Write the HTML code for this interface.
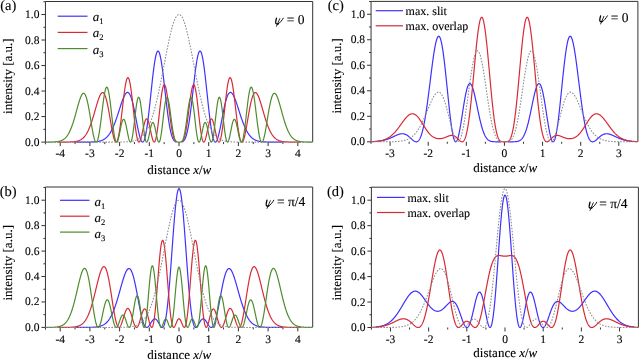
<!DOCTYPE html>
<html><head><meta charset="utf-8"><style>
html,body{margin:0;padding:0;background:#fff;}
body{width:639px;height:359px;overflow:hidden;}
svg{display:block;will-change:transform;text-rendering:geometricPrecision;}
text{fill:#000;stroke:#000;stroke-width:0.12px;}
</style></head><body>
<svg width="639" height="359" viewBox="0 0 639 359">
<clipPath id="clipa"><rect x="45.45" y="1.5" width="267.25" height="142.6"/></clipPath>
<g stroke="#333" stroke-width="1" fill="none">
<path d="M45.45,1.5 H312.7 V142.1"/>
<path d="M45.45,1.5 V144.3"/>
<path d="M45.45,142.1 h-4 M45.45,129.34 h-2 M45.45,116.58 h-4 M45.45,103.82 h-2 M45.45,91.06 h-4 M45.45,78.3 h-2 M45.45,65.54 h-4 M45.45,52.78 h-2 M45.45,40.02 h-4 M45.45,27.26 h-2 M45.45,14.5 h-4 M45.45,1.74 h-2 M60.2,142.1 v4 M75.05,142.1 v2 M89.9,142.1 v4 M104.75,142.1 v2 M119.6,142.1 v4 M134.45,142.1 v2 M149.3,142.1 v4 M164.15,142.1 v2 M179,142.1 v4 M193.85,142.1 v2 M208.7,142.1 v4 M223.55,142.1 v2 M238.4,142.1 v4 M253.25,142.1 v2 M268.1,142.1 v4 M282.95,142.1 v2 M297.8,142.1 v4"/>
</g>
<g clip-path="url(#clipa)" fill="none" stroke-linejoin="round">
<path d="M74.85,142.1 L75.1,142.1 L75.35,142.1 L75.6,142.1 L75.85,142.1 L76.1,142.1 L76.35,142.1 L76.6,142.1 L76.85,142.1 L77.1,142.1 L77.35,142.1 L77.6,142.1 L77.85,142.1 L78.1,142.1 L78.35,142.1 L78.6,142.1 L78.85,142.1 L79.1,142.1 L79.35,142.1 L79.6,142.1 L79.85,142.1 L80.1,142.1 L80.35,142.1 L80.6,142.1 L80.85,142.1 L81.1,142.1 L81.35,142.1 L81.6,142.1 L81.85,142.1 L82.1,142.09 L82.35,142.09 L82.6,142.09 L82.85,142.09 L83.1,142.09 L83.35,142.09 L83.6,142.09 L83.85,142.09 L84.1,142.09 L84.35,142.09 L84.6,142.09 L84.85,142.09 L85.1,142.09 L85.35,142.08 L85.6,142.08 L85.85,142.08 L86.1,142.08 L86.35,142.08 L86.6,142.08 L86.85,142.07 L87.1,142.07 L87.35,142.07 L87.6,142.07 L87.85,142.06 L88.1,142.06 L88.35,142.06 L88.6,142.05 L88.85,142.05 L89.1,142.05 L89.35,142.04 L89.6,142.04 L89.85,142.03 L90.1,142.03 L90.35,142.02 L90.6,142.02 L90.85,142.01 L91.1,142 L91.35,141.99 L91.6,141.99 L91.85,141.98 L92.1,141.97 L92.35,141.96 L92.6,141.95 L92.85,141.94 L93.1,141.92 L93.35,141.91 L93.6,141.9 L93.85,141.88 L94.1,141.87 L94.35,141.85 L94.6,141.83 L94.85,141.81 L95.1,141.79 L95.35,141.77 L95.6,141.74 M96.85,141.6 L97.1,141.57 L97.35,141.53 L97.6,141.5 L97.85,141.46 L98.1,141.41 L98.35,141.37 L98.6,141.32 L98.85,141.27 L99.1,141.22 L99.35,141.16 L99.6,141.1 L99.85,141.04 L100.1,140.97 L100.35,140.9 L100.6,140.83 L100.85,140.75 L101.1,140.67 L101.35,140.58 L101.6,140.49 L101.85,140.39 L102.1,140.29 L102.35,140.18 L102.6,140.07 L102.85,139.95 L103.1,139.83 L103.35,139.7 L103.6,139.56 L103.85,139.42 L104.1,139.27 L104.35,139.11 L104.6,138.95 L104.85,138.78 L105.1,138.6 L105.35,138.41 L105.6,138.22 L105.85,138.01 L106.1,137.8 L106.35,137.58 L106.6,137.34 L106.85,137.1 L107.1,136.85 L107.35,136.59 L107.6,136.32 L107.85,136.03 L108.1,135.74 L108.35,135.43 L108.6,135.12 L108.85,134.79 L109.1,134.45 L109.35,134.09 L109.6,133.73 L109.85,133.35 L110.1,132.96 L110.35,132.56 L110.6,132.14 L110.85,131.71 L111.1,131.26 L111.35,130.81 L111.6,130.34 L111.85,129.85 L112.1,129.35 L112.35,128.84 L112.6,128.31 L112.85,127.77 L113.1,127.22 L113.35,126.65 L113.6,126.07 L113.85,125.47 L114.1,124.86 L114.35,124.24 L114.6,123.61 L114.85,122.96 L115.1,122.3 L115.35,121.63 L115.6,120.94 L115.85,120.25 L116.1,119.54 L116.35,118.83 L116.6,118.1 L116.85,117.37 L117.1,116.62 L117.35,115.87 L117.6,115.11 L117.85,114.35 L118.1,113.58 L118.35,112.8 L118.6,112.02 L118.85,111.24 L119.1,110.46 L119.35,109.68 L119.6,108.89 L119.85,108.11 L120.1,107.33 L120.35,106.56 L120.6,105.79 L120.85,105.03 L121.1,104.27 L121.35,103.53 L121.6,102.79 L121.85,102.07 L122.1,101.36 L122.35,100.67 L122.6,99.99 L122.85,99.33 L123.1,98.69 L123.35,98.08 L123.6,97.49 L123.85,96.92 L124.1,96.37 L124.35,95.86 L124.6,95.38 L124.85,94.92 L125.1,94.5 L125.35,94.12 L125.6,93.76 L125.85,93.45 L126.1,93.18 L126.35,92.94 L126.6,92.75 L126.85,92.6 L127.1,92.49 L127.35,92.43 L127.6,92.41 L127.85,92.45 L128.1,92.53 L128.35,92.65 L128.6,92.83 L128.85,93.06 L129.1,93.34 L129.35,93.67 L129.6,94.05 L129.85,94.48 L130.1,94.96 L130.35,95.5 L130.6,96.08 L130.85,96.72 L131.1,97.4 L131.35,98.14 L131.6,98.92 L131.85,99.75 L132.1,100.63 L132.35,101.55 L132.6,102.51 L132.85,103.52 L133.1,104.56 L133.35,105.64 L133.6,106.76 L133.85,107.91 L134.1,109.09 L134.35,110.3 L134.6,111.53 L134.85,112.78 L135.1,114.06 L135.35,115.34 L135.6,116.64 L135.85,117.95 L136.1,119.27 L136.35,120.58 L136.6,121.9 L136.85,123.2 L137.1,124.5 L137.35,125.78 L137.6,127.04 L137.85,128.28 L138.1,129.5 L138.35,130.68 L138.6,131.82 L138.85,132.93 L139.1,133.99 L139.35,135.01 L139.6,135.97 L139.85,136.88 L140.1,137.72 L140.35,138.51 L140.6,139.22 L140.85,139.86 L141.1,140.43 L141.35,140.92 L141.6,141.33 L141.85,141.66 L142.1,141.9 L142.35,142.04 L142.6,142.1 L142.85,142.06 L143.1,141.93 L143.35,141.7 L143.6,141.37 L143.85,140.94 L144.1,140.41 L144.35,139.77 L144.6,139.04 L144.85,138.21 L145.1,137.28 L145.35,136.24 L145.6,135.11 L145.85,133.88 L146.1,132.56 L146.35,131.15 L146.6,129.64 L146.85,128.05 L147.1,126.37 L147.35,124.61 L147.6,122.78 L147.85,120.87 L148.1,118.89 L148.35,116.85 L148.6,114.75 L148.85,112.6 L149.1,110.4 L149.35,108.16 L149.6,105.88 L149.85,103.57 L150.1,101.23 L150.35,98.88 L150.6,96.51 L150.85,94.14 L151.1,91.77 L151.35,89.41 L151.6,87.07 L151.85,84.74 L152.1,82.45 L152.35,80.19 L152.6,77.97 L152.85,75.8 L153.1,73.69 L153.35,71.64 L153.6,69.66 L153.85,67.75 L154.1,65.92 L154.35,64.17 L154.6,62.52 L154.85,60.96 L155.1,59.5 L155.35,58.14 L155.6,56.9 L155.85,55.76 L156.1,54.75 L156.35,53.85 L156.6,53.07 L156.85,52.42 L157.1,51.9 L157.35,51.5 L157.6,51.23 L157.85,51.09 L158.1,51.07 L158.35,51.19 L158.6,51.43 L158.85,51.81 L159.1,52.3 L159.35,52.92 L159.6,53.66 L159.85,54.52 L160.1,55.5 L160.35,56.59 L160.6,57.78 L160.85,59.08 L161.1,60.48 L161.35,61.97 L161.6,63.56 L161.85,65.22 L162.1,66.97 L162.35,68.78 L162.6,70.67 L162.85,72.62 L163.1,74.62 L163.35,76.66 L163.6,78.75 L163.85,80.88 L164.1,83.03 L164.35,85.21 L164.6,87.41 L164.85,89.61 L165.1,91.82 L165.35,94.02 L165.6,96.22 L165.85,98.4 L166.1,100.56 L166.35,102.69 L166.6,104.8 L166.85,106.87 L167.1,108.9 L167.35,110.88 L167.6,112.82 L167.85,114.7 L168.1,116.53 L168.35,118.3 L168.6,120.01 L168.85,121.65 L169.1,123.22 L169.35,124.73 L169.6,126.17 L169.85,127.54 L170.1,128.84 L170.35,130.06 L170.6,131.22 L170.85,132.3 L171.1,133.31 L171.35,134.26 L171.6,135.13 L171.85,135.94 L172.1,136.69 L172.35,137.37 L172.6,137.99 L172.85,138.55 L173.1,139.06 L173.35,139.52 L173.6,139.92 L173.85,140.28 L174.1,140.59 L174.35,140.87 L174.6,141.1 L174.85,141.3 L175.1,141.47 L175.35,141.62 L175.6,141.73 L175.85,141.83 L176.1,141.9 M181.85,141.92 L182.1,141.85 L182.35,141.75 L182.6,141.64 L182.85,141.51 L183.1,141.34 L183.35,141.15 L183.6,140.92 L183.85,140.65 L184.1,140.35 L184.35,140 L184.6,139.6 L184.85,139.16 L185.1,138.66 L185.35,138.11 L185.6,137.5 L185.85,136.83 L186.1,136.1 L186.35,135.3 L186.6,134.44 L186.85,133.51 L187.1,132.51 L187.35,131.44 L187.6,130.3 L187.85,129.09 L188.1,127.8 L188.35,126.45 L188.6,125.03 L188.85,123.53 L189.1,121.97 L189.35,120.34 L189.6,118.65 L189.85,116.89 L190.1,115.07 L190.35,113.2 L190.6,111.27 L190.85,109.3 L191.1,107.28 L191.35,105.22 L191.6,103.12 L191.85,100.99 L192.1,98.83 L192.35,96.65 L192.6,94.46 L192.85,92.26 L193.1,90.05 L193.35,87.85 L193.6,85.65 L193.85,83.47 L194.1,81.31 L194.35,79.18 L194.6,77.08 L194.85,75.02 L195.1,73.01 L195.35,71.05 L195.6,69.16 L195.85,67.32 L196.1,65.56 L196.35,63.88 L196.6,62.28 L196.85,60.77 L197.1,59.35 L197.35,58.03 L197.6,56.82 L197.85,55.71 L198.1,54.71 L198.35,53.83 L198.6,53.06 L198.85,52.42 L199.1,51.89 L199.35,51.5 L199.6,51.23 L199.85,51.09 L200.1,51.07 L200.35,51.19 L200.6,51.43 L200.85,51.81 L201.1,52.31 L201.35,52.93 L201.6,53.68 L201.85,54.56 L202.1,55.55 L202.35,56.66 L202.6,57.88 L202.85,59.22 L203.1,60.66 L203.35,62.2 L203.6,63.83 L203.85,65.56 L204.1,67.37 L204.35,69.27 L204.6,71.24 L204.85,73.28 L205.1,75.38 L205.35,77.54 L205.6,79.74 L205.85,81.99 L206.1,84.28 L206.35,86.6 L206.6,88.94 L206.85,91.3 L207.1,93.67 L207.35,96.04 L207.6,98.4 L207.85,100.76 L208.1,103.1 L208.35,105.42 L208.6,107.7 L208.85,109.96 L209.1,112.16 L209.35,114.33 L209.6,116.44 L209.85,118.49 L210.1,120.48 L210.35,122.4 L210.6,124.25 L210.85,126.02 L211.1,127.72 L211.35,129.33 L211.6,130.85 L211.85,132.29 L212.1,133.63 L212.35,134.87 L212.6,136.02 L212.85,137.08 L213.1,138.03 L213.35,138.88 L213.6,139.64 L213.85,140.29 L214.1,140.84 L214.35,141.29 L214.6,141.64 L214.85,141.89 L215.1,142.04 L215.35,142.1 L215.6,142.06 L215.85,141.93 L216.1,141.71 L216.35,141.4 L216.6,141.01 L216.85,140.54 L217.1,139.98 L217.35,139.36 L217.6,138.65 L217.85,137.89 L218.1,137.05 L218.35,136.16 L218.6,135.2 L218.85,134.2 L219.1,133.15 L219.35,132.05 L219.6,130.91 L219.85,129.73 L220.1,128.53 L220.35,127.29 L220.6,126.03 L220.85,124.76 L221.1,123.46 L221.35,122.16 L221.6,120.85 L221.85,119.53 L222.1,118.22 L222.35,116.91 L222.6,115.6 L222.85,114.31 L223.1,113.04 L223.35,111.78 L223.6,110.54 L223.85,109.33 L224.1,108.14 L224.35,106.99 L224.6,105.86 L224.85,104.77 L225.1,103.72 L225.35,102.71 L225.6,101.74 L225.85,100.81 L226.1,99.92 L226.35,99.08 L226.6,98.29 L226.85,97.55 L227.1,96.85 L227.35,96.21 L227.6,95.61 L227.85,95.07 L228.1,94.57 L228.35,94.13 L228.6,93.74 L228.85,93.4 L229.1,93.11 L229.35,92.87 L229.6,92.69 L229.85,92.55 L230.1,92.46 L230.35,92.42 L230.6,92.42 L230.85,92.48 L231.1,92.57 L231.35,92.72 L231.6,92.9 L231.85,93.13 L232.1,93.39 L232.35,93.7 L232.6,94.04 L232.85,94.42 L233.1,94.84 L233.35,95.28 L233.6,95.76 L233.85,96.27 L234.1,96.81 L234.35,97.37 L234.6,97.96 L234.85,98.57 L235.1,99.2 L235.35,99.86 L235.6,100.53 L235.85,101.22 L236.1,101.93 L236.35,102.65 L236.6,103.38 L236.85,104.12 L237.1,104.87 L237.35,105.64 L237.6,106.4 L237.85,107.18 L238.1,107.96 L238.35,108.74 L238.6,109.52 L238.85,110.3 L239.1,111.09 L239.35,111.87 L239.6,112.65 L239.85,113.42 L240.1,114.2 L240.35,114.96 L240.6,115.72 L240.85,116.47 L241.1,117.22 L241.35,117.96 L241.6,118.68 L241.85,119.4 L242.1,120.11 L242.35,120.81 L242.6,121.49 L242.85,122.17 L243.1,122.83 L243.35,123.48 L243.6,124.12 L243.85,124.74 L244.1,125.35 L244.35,125.95 L244.6,126.54 L244.85,127.11 L245.1,127.66 L245.35,128.21 L245.6,128.74 L245.85,129.25 L246.1,129.75 L246.35,130.24 L246.6,130.71 L246.85,131.17 L247.1,131.62 L247.35,132.05 L247.6,132.47 L247.85,132.88 L248.1,133.27 L248.35,133.65 L248.6,134.02 L248.85,134.38 L249.1,134.72 L249.35,135.05 L249.6,135.37 L249.85,135.68 L250.1,135.98 L250.35,136.26 L250.6,136.54 L250.85,136.8 L251.1,137.05 L251.35,137.3 L251.6,137.53 L251.85,137.76 L252.1,137.97 L252.35,138.18 L252.6,138.37 L252.85,138.56 L253.1,138.74 L253.35,138.92 L253.6,139.08 L253.85,139.24 L254.1,139.39 L254.35,139.54 L254.6,139.67 L254.85,139.8 L255.1,139.93 L255.35,140.05 L255.6,140.16 L255.85,140.27 L256.1,140.37 L256.35,140.47 L256.6,140.56 L256.85,140.65 L257.1,140.73 L257.35,140.81 L257.6,140.89 L257.85,140.96 L258.1,141.02 L258.35,141.09 L258.6,141.15 L258.85,141.21 L259.1,141.26 L259.35,141.31 L259.6,141.36 L259.85,141.41 L260.1,141.45 L260.35,141.49 L260.6,141.53 L260.85,141.56 L261.1,141.6 L261.35,141.63 M262.35,141.74 L262.6,141.76 L262.85,141.79 L263.1,141.81 L263.35,141.83 L263.6,141.84 L263.85,141.86 L264.1,141.88 L264.35,141.89 L264.6,141.91 L264.85,141.92 L265.1,141.93 L265.35,141.94 L265.6,141.96 L265.85,141.97 L266.1,141.98 L266.35,141.98 L266.6,141.99 L266.85,142 L267.1,142.01 L267.35,142.01 L267.6,142.02 L267.85,142.03 L268.1,142.03 L268.35,142.04 L268.6,142.04 L268.85,142.05 L269.1,142.05 L269.35,142.05 L269.6,142.06 L269.85,142.06 L270.1,142.06 L270.35,142.07 L270.6,142.07 L270.85,142.07 L271.1,142.07 L271.35,142.08 L271.6,142.08 L271.85,142.08 L272.1,142.08 L272.35,142.08 L272.6,142.08 L272.85,142.08 L273.1,142.09 L273.35,142.09 L273.6,142.09 L273.85,142.09 L274.1,142.09 L274.35,142.09 L274.6,142.09 L274.85,142.09 L275.1,142.09 L275.35,142.09 L275.6,142.09 L275.85,142.09 L276.1,142.1 L276.35,142.1 L276.6,142.1 L276.85,142.1 L277.1,142.1 L277.35,142.1 L277.6,142.1 L277.85,142.1 L278.1,142.1 L278.35,142.1 L278.6,142.1 L278.85,142.1 L279.1,142.1 L279.35,142.1 L279.6,142.1 L279.85,142.1 L280.1,142.1 L280.35,142.1 L280.6,142.1 L280.85,142.1 L281.1,142.1 L281.35,142.1 L281.6,142.1 L281.85,142.1 L282.1,142.1 L282.35,142.1 L282.6,142.1 L282.85,142.1 L283.1,142.1" stroke="#3f30ff" stroke-width="1.2"/>
<path d="M57.6,142.1 L57.85,142.1 L58.1,142.1 L58.35,142.1 L58.6,142.1 L58.85,142.1 L59.1,142.1 L59.35,142.1 L59.6,142.1 L59.85,142.1 L60.1,142.1 L60.35,142.1 L60.6,142.1 L60.85,142.1 L61.1,142.1 L61.35,142.09 L61.6,142.09 L61.85,142.09 L62.1,142.09 L62.35,142.09 L62.6,142.09 L62.85,142.09 L63.1,142.09 L63.35,142.09 L63.6,142.09 L63.85,142.09 L64.1,142.09 L64.35,142.08 L64.6,142.08 L64.85,142.08 L65.1,142.08 L65.35,142.08 L65.6,142.07 L65.85,142.07 L66.1,142.07 L66.35,142.07 L66.6,142.06 L66.85,142.06 L67.1,142.06 L67.35,142.05 L67.6,142.05 L67.85,142.04 L68.1,142.04 L68.35,142.03 L68.6,142.03 L68.85,142.02 L69.1,142.02 L69.35,142.01 L69.6,142 L69.85,141.99 L70.1,141.98 L70.35,141.97 L70.6,141.96 L70.85,141.95 L71.1,141.94 L71.35,141.93 L71.6,141.91 L71.85,141.9 L72.1,141.88 L72.35,141.87 L72.6,141.85 L72.85,141.83 L73.1,141.81 L73.35,141.78 L73.6,141.76 L73.85,141.73 L74.1,141.7 L74.35,141.67 L74.6,141.64 L74.85,141.61 L75.1,141.57 L75.35,141.53 L75.6,141.49 L75.85,141.45 L76.1,141.4 L76.35,141.35 L76.6,141.3 L76.85,141.24 L77.1,141.18 L77.35,141.11 L77.6,141.05 L77.85,140.97 L78.1,140.9 L78.35,140.81 L78.6,140.73 L78.85,140.64 L79.1,140.54 L79.35,140.44 L79.6,140.33 L79.85,140.21 L80.1,140.09 L80.35,139.96 L80.6,139.83 L80.85,139.68 L81.1,139.53 L81.35,139.37 L81.6,139.21 L81.85,139.03 L82.1,138.85 L82.35,138.65 L82.6,138.45 L82.85,138.24 L83.1,138.01 L83.35,137.78 L83.6,137.53 L83.85,137.27 L84.1,137 L84.35,136.72 L84.6,136.42 L84.85,136.12 L85.1,135.8 L85.35,135.46 L85.6,135.11 L85.85,134.75 L86.1,134.37 L86.35,133.98 L86.6,133.57 L86.85,133.15 L87.1,132.71 L87.35,132.25 L87.6,131.78 L87.85,131.29 L88.1,130.79 L88.35,130.26 L88.6,129.72 L88.85,129.17 L89.1,128.6 L89.35,128.01 L89.6,127.4 L89.85,126.77 L90.1,126.13 L90.35,125.47 L90.6,124.8 L90.85,124.11 L91.1,123.4 L91.35,122.68 L91.6,121.94 L91.85,121.19 L92.1,120.42 L92.35,119.64 L92.6,118.85 L92.85,118.05 L93.1,117.23 L93.35,116.4 L93.6,115.57 L93.85,114.72 L94.1,113.87 L94.35,113.01 L94.6,112.15 L94.85,111.28 L95.1,110.41 L95.35,109.54 L95.6,108.67 L95.85,107.81 L96.1,106.94 L96.35,106.09 L96.6,105.24 L96.85,104.4 L97.1,103.57 L97.35,102.75 L97.6,101.95 L97.85,101.17 L98.1,100.41 L98.35,99.67 L98.6,98.95 L98.85,98.26 L99.1,97.6 L99.35,96.97 L99.6,96.37 L99.85,95.81 L100.1,95.28 L100.35,94.8 L100.6,94.36 L100.85,93.96 L101.1,93.6 L101.35,93.3 L101.6,93.04 L101.85,92.84 L102.1,92.69 L102.35,92.6 L102.6,92.57 L102.85,92.59 L103.1,92.67 L103.35,92.82 L103.6,93.03 L103.85,93.3 L104.1,93.63 L104.35,94.03 L104.6,94.49 L104.85,95.02 L105.1,95.61 L105.35,96.27 L105.6,96.99 L105.85,97.77 L106.1,98.61 L106.35,99.52 L106.6,100.48 L106.85,101.5 L107.1,102.57 L107.35,103.7 L107.6,104.88 L107.85,106.1 L108.1,107.37 L108.35,108.67 L108.6,110.02 L108.85,111.39 L109.1,112.8 L109.35,114.22 L109.6,115.67 L109.85,117.13 L110.1,118.6 L110.35,120.08 L110.6,121.55 L110.85,123.02 L111.1,124.47 L111.35,125.91 L111.6,127.32 L111.85,128.7 L112.1,130.05 L112.35,131.35 L112.6,132.6 L112.85,133.81 L113.1,134.95 L113.35,136.02 L113.6,137.03 L113.85,137.96 L114.1,138.81 L114.35,139.57 L114.6,140.24 L114.85,140.81 L115.1,141.28 L115.35,141.65 L115.6,141.91 L115.85,142.06 L116.1,142.1 M116.6,141.82 L116.85,141.51 L117.1,141.07 L117.35,140.52 L117.6,139.85 L117.85,139.05 L118.1,138.14 L118.35,137.12 L118.6,135.98 L118.85,134.73 L119.1,133.38 L119.35,131.92 L119.6,130.37 L119.85,128.73 L120.1,127 L120.35,125.19 L120.6,123.31 L120.85,121.37 L121.1,119.36 L121.35,117.31 L121.6,115.22 L121.85,113.1 L122.1,110.96 L122.35,108.8 L122.6,106.64 L122.85,104.49 L123.1,102.36 L123.35,100.25 L123.6,98.19 L123.85,96.17 L124.1,94.21 L124.35,92.31 L124.6,90.5 L124.85,88.77 L125.1,87.14 L125.35,85.61 L125.6,84.19 L125.85,82.9 L126.1,81.73 L126.35,80.7 L126.6,79.81 L126.85,79.06 L127.1,78.47 L127.35,78.03 L127.6,77.74 L127.85,77.62 L128.1,77.66 L128.35,77.86 L128.6,78.22 L128.85,78.75 L129.1,79.43 L129.35,80.27 L129.6,81.26 L129.85,82.39 L130.1,83.67 L130.35,85.09 L130.6,86.63 L130.85,88.3 L131.1,90.07 L131.35,91.95 L131.6,93.93 L131.85,95.98 L132.1,98.11 L132.35,100.3 L132.6,102.54 L132.85,104.82 L133.1,107.12 L133.35,109.43 L133.6,111.75 L133.85,114.05 L134.1,116.33 L134.35,118.57 L134.6,120.77 L134.85,122.9 L135.1,124.97 L135.35,126.95 L135.6,128.85 L135.85,130.64 L136.1,132.33 L136.35,133.9 L136.6,135.34 L136.85,136.66 L137.1,137.84 L137.35,138.88 L137.6,139.77 L137.85,140.53 L138.1,141.13 L138.35,141.59 L138.6,141.9 L138.85,142.07 L139.1,142.09 L139.35,141.98 L139.6,141.74 L139.85,141.36 L140.1,140.87 L140.35,140.27 L140.6,139.56 L140.85,138.75 L141.1,137.86 L141.35,136.89 L141.6,135.86 L141.85,134.78 L142.1,133.65 L142.35,132.49 L142.6,131.32 L142.85,130.14 L143.1,128.96 L143.35,127.8 L143.6,126.67 L143.85,125.58 L144.1,124.54 L144.35,123.56 L144.6,122.65 L144.85,121.82 L145.1,121.08 L145.35,120.43 L145.6,119.88 L145.85,119.44 L146.1,119.12 L146.35,118.9 L146.6,118.8 L146.85,118.82 L147.1,118.96 L147.35,119.22 L147.6,119.59 L147.85,120.07 L148.1,120.65 L148.35,121.34 L148.6,122.12 L148.85,122.99 L149.1,123.94 L149.35,124.96 L149.6,126.04 L149.85,127.16 L150.1,128.33 L150.35,129.52 L150.6,130.72 L150.85,131.92 L151.1,133.11 L151.35,134.28 L151.6,135.41 L151.85,136.49 L152.1,137.5 L152.35,138.45 L152.6,139.3 L152.85,140.06 L153.1,140.72 L153.35,141.25 L153.6,141.67 L153.85,141.94 L154.1,142.08 L154.35,142.08 L154.6,141.92 L154.85,141.61 L155.1,141.15 L155.35,140.53 L155.6,139.76 L155.85,138.83 L156.1,137.75 L156.35,136.52 L156.6,135.16 L156.85,133.66 L157.1,132.03 L157.35,130.28 L157.6,128.43 L157.85,126.48 L158.1,124.44 L158.35,122.33 L158.6,120.16 L158.85,117.94 L159.1,115.69 L159.35,113.42 L159.6,111.15 L159.85,108.89 L160.1,106.66 L160.35,104.47 L160.6,102.33 L160.85,100.26 L161.1,98.28 L161.35,96.39 L161.6,94.6 L161.85,92.94 L162.1,91.41 L162.35,90.02 L162.6,88.77 L162.85,87.69 L163.1,86.76 L163.35,86 L163.6,85.42 L163.85,85 L164.1,84.77 L164.35,84.71 L164.6,84.83 L164.85,85.11 L165.1,85.57 L165.35,86.2 L165.6,86.98 L165.85,87.92 L166.1,89 L166.35,90.22 L166.6,91.56 L166.85,93.03 L167.1,94.59 L167.35,96.26 L167.6,98.01 L167.85,99.83 L168.1,101.71 L168.35,103.64 L168.6,105.6 L168.85,107.58 L169.1,109.58 L169.35,111.58 L169.6,113.56 L169.85,115.52 L170.1,117.45 L170.35,119.34 L170.6,121.18 L170.85,122.95 L171.1,124.67 L171.35,126.3 L171.6,127.87 L171.85,129.34 L172.1,130.74 L172.35,132.04 L172.6,133.26 L172.85,134.38 L173.1,135.41 L173.35,136.35 L173.6,137.2 L173.85,137.97 L174.1,138.65 L174.35,139.25 L174.6,139.78 L174.85,140.23 L175.1,140.62 L175.35,140.95 L175.6,141.22 L175.85,141.45 L176.1,141.62 L176.35,141.77 L176.6,141.87 M181.35,141.89 L181.6,141.79 L181.85,141.66 L182.1,141.49 L182.35,141.27 L182.6,141.01 L182.85,140.69 L183.1,140.32 L183.35,139.87 L183.6,139.36 L183.85,138.78 L184.1,138.11 L184.35,137.36 L184.6,136.53 L184.85,135.6 L185.1,134.59 L185.35,133.49 L185.6,132.29 L185.85,131.01 L186.1,129.63 L186.35,128.17 L186.6,126.62 L186.85,125 L187.1,123.3 L187.35,121.54 L187.6,119.71 L187.85,117.83 L188.1,115.91 L188.35,113.96 L188.6,111.97 L188.85,109.98 L189.1,107.98 L189.35,105.99 L189.6,104.03 L189.85,102.09 L190.1,100.2 L190.35,98.37 L190.6,96.6 L190.85,94.92 L191.1,93.33 L191.35,91.85 L191.6,90.48 L191.85,89.23 L192.1,88.12 L192.35,87.16 L192.6,86.34 L192.85,85.68 L193.1,85.19 L193.35,84.87 L193.6,84.72 L193.85,84.74 L194.1,84.94 L194.35,85.32 L194.6,85.87 L194.85,86.6 L195.1,87.49 L195.35,88.54 L195.6,89.76 L195.85,91.12 L196.1,92.63 L196.35,94.26 L196.6,96.02 L196.85,97.89 L197.1,99.86 L197.35,101.91 L197.6,104.04 L197.85,106.22 L198.1,108.44 L198.35,110.7 L198.6,112.97 L198.85,115.24 L199.1,117.49 L199.35,119.72 L199.6,121.9 L199.85,124.02 L200.1,126.08 L200.35,128.05 L200.6,129.92 L200.85,131.69 L201.1,133.34 L201.35,134.87 L201.6,136.26 L201.85,137.52 L202.1,138.63 L202.35,139.58 L202.6,140.39 L202.85,141.04 L203.1,141.53 L203.35,141.87 L203.6,142.06 L203.85,142.09 L204.1,141.98 L204.35,141.73 L204.6,141.35 L204.85,140.83 L205.1,140.2 L205.35,139.46 L205.6,138.63 L205.85,137.7 L206.1,136.7 L206.35,135.63 L206.6,134.51 L206.85,133.35 L207.1,132.16 L207.35,130.96 L207.6,129.76 L207.85,128.56 L208.1,127.39 L208.35,126.26 L208.6,125.17 L208.85,124.14 L209.1,123.18 L209.35,122.29 L209.6,121.49 L209.85,120.78 L210.1,120.18 L210.35,119.67 L210.6,119.28 L210.85,119 L211.1,118.84 L211.35,118.8 L211.6,118.87 L211.85,119.06 L212.1,119.37 L212.35,119.79 L212.6,120.31 L212.85,120.94 L213.1,121.66 L213.35,122.48 L213.6,123.37 L213.85,124.34 L214.1,125.36 L214.35,126.45 L214.6,127.57 L214.85,128.72 L215.1,129.9 L215.35,131.08 L215.6,132.26 L215.85,133.42 L216.1,134.56 L216.35,135.65 L216.6,136.69 L216.85,137.67 L217.1,138.58 L217.35,139.4 L217.6,140.13 L217.85,140.76 L218.1,141.28 L218.35,141.67 L218.6,141.94 L218.85,142.08 L219.1,142.08 L219.35,141.94 L219.6,141.66 L219.85,141.23 L220.1,140.66 L220.35,139.94 L220.6,139.07 L220.85,138.06 L221.1,136.9 L221.35,135.62 L221.6,134.2 L221.85,132.65 L222.1,130.99 L222.35,129.22 L222.6,127.34 L222.85,125.37 L223.1,123.32 L223.35,121.2 L223.6,119.02 L223.85,116.78 L224.1,114.51 L224.35,112.21 L224.6,109.89 L224.85,107.58 L225.1,105.27 L225.35,102.99 L225.6,100.74 L225.85,98.54 L226.1,96.4 L226.35,94.33 L226.6,92.34 L226.85,90.44 L227.1,88.64 L227.35,86.96 L227.6,85.39 L227.85,83.95 L228.1,82.64 L228.35,81.47 L228.6,80.45 L228.85,79.58 L229.1,78.87 L229.35,78.32 L229.6,77.92 L229.85,77.69 L230.1,77.62 L230.35,77.71 L230.6,77.96 L230.85,78.37 L231.1,78.93 L231.35,79.65 L231.6,80.51 L231.85,81.51 L232.1,82.65 L232.35,83.92 L232.6,85.31 L232.85,86.82 L233.1,88.43 L233.35,90.14 L233.6,91.94 L233.85,93.82 L234.1,95.77 L234.35,97.78 L234.6,99.84 L234.85,101.94 L235.1,104.06 L235.35,106.21 L235.6,108.37 L235.85,110.53 L236.1,112.67 L236.35,114.8 L236.6,116.9 L236.85,118.96 L237.1,120.97 L237.35,122.93 L237.6,124.82 L237.85,126.64 L238.1,128.39 L238.35,130.05 L238.6,131.62 L238.85,133.1 L239.1,134.47 L239.35,135.74 L239.6,136.9 L239.85,137.95 L240.1,138.88 L240.35,139.7 L240.6,140.39 L240.85,140.97 L241.1,141.43 L241.35,141.77 M241.85,142.09 L242.1,142.08 L242.35,141.95 L242.6,141.71 L242.85,141.36 L243.1,140.91 L243.35,140.36 L243.6,139.71 L243.85,138.97 L244.1,138.14 L244.35,137.22 L244.6,136.23 L244.85,135.17 L245.1,134.04 L245.35,132.85 L245.6,131.6 L245.85,130.31 L246.1,128.97 L246.35,127.6 L246.6,126.19 L246.85,124.76 L247.1,123.31 L247.35,121.84 L247.6,120.37 L247.85,118.9 L248.1,117.43 L248.35,115.96 L248.6,114.51 L248.85,113.08 L249.1,111.67 L249.35,110.29 L249.6,108.94 L249.85,107.63 L250.1,106.35 L250.35,105.12 L250.6,103.93 L250.85,102.8 L251.1,101.71 L251.35,100.68 L251.6,99.71 L251.85,98.79 L252.1,97.93 L252.35,97.14 L252.6,96.41 L252.85,95.74 L253.1,95.13 L253.35,94.59 L253.6,94.12 L253.85,93.7 L254.1,93.36 L254.35,93.08 L254.6,92.86 L254.85,92.7 L255.1,92.6 L255.35,92.57 L255.6,92.59 L255.85,92.67 L256.1,92.81 L256.35,93 L256.6,93.24 L256.85,93.54 L257.1,93.88 L257.35,94.27 L257.6,94.71 L257.85,95.18 L258.1,95.7 L258.35,96.26 L258.6,96.85 L258.85,97.47 L259.1,98.13 L259.35,98.81 L259.6,99.52 L259.85,100.26 L260.1,101.02 L260.35,101.8 L260.6,102.59 L260.85,103.4 L261.1,104.23 L261.35,105.07 L261.6,105.92 L261.85,106.77 L262.1,107.63 L262.35,108.5 L262.6,109.37 L262.85,110.24 L263.1,111.11 L263.35,111.98 L263.6,112.84 L263.85,113.7 L264.1,114.55 L264.35,115.4 L264.6,116.24 L264.85,117.07 L265.1,117.88 L265.35,118.69 L265.6,119.49 L265.85,120.27 L266.1,121.04 L266.35,121.79 L266.6,122.53 L266.85,123.26 L267.1,123.97 L267.35,124.66 L267.6,125.34 L267.85,126 L268.1,126.65 L268.35,127.27 L268.6,127.89 L268.85,128.48 L269.1,129.06 L269.35,129.61 L269.6,130.16 L269.85,130.68 L270.1,131.19 L270.35,131.68 L270.6,132.16 L270.85,132.62 L271.1,133.06 L271.35,133.49 L271.6,133.9 L271.85,134.29 L272.1,134.67 L272.35,135.04 L272.6,135.39 L272.85,135.73 L273.1,136.05 L273.35,136.36 L273.6,136.66 L273.85,136.95 L274.1,137.22 L274.35,137.48 L274.6,137.73 L274.85,137.96 L275.1,138.19 L275.35,138.41 L275.6,138.61 L275.85,138.81 L276.1,139 L276.35,139.17 L276.6,139.34 L276.85,139.5 L277.1,139.65 L277.35,139.8 L277.6,139.94 L277.85,140.06 L278.1,140.19 L278.35,140.3 L278.6,140.41 L278.85,140.52 L279.1,140.62 L279.35,140.71 L279.6,140.8 L279.85,140.88 L280.1,140.96 L280.35,141.03 L280.6,141.1 L280.85,141.17 L281.1,141.23 L281.35,141.29 L281.6,141.34 L281.85,141.39 L282.1,141.44 L282.35,141.48 L282.6,141.53 L282.85,141.56 L283.1,141.6 L283.35,141.64 L283.6,141.67 L283.85,141.7 L284.1,141.73 L284.35,141.75 L284.6,141.78 L284.85,141.8 L285.1,141.82 L285.35,141.84 L285.6,141.86 L285.85,141.88 L286.1,141.9 L286.35,141.91 L286.6,141.93 L286.85,141.94 L287.1,141.95 L287.35,141.96 L287.6,141.97 L287.85,141.98 L288.1,141.99 L288.35,142 L288.6,142.01 L288.85,142.01 L289.1,142.02 L289.35,142.03 L289.6,142.03 L289.85,142.04 L290.1,142.04 L290.35,142.05 L290.6,142.05 L290.85,142.06 L291.1,142.06 L291.35,142.06 L291.6,142.07 L291.85,142.07 L292.1,142.07 L292.35,142.07 L292.6,142.08 L292.85,142.08 L293.1,142.08 L293.35,142.08 L293.6,142.08 L293.85,142.08 L294.1,142.09 L294.35,142.09 L294.6,142.09 L294.85,142.09 L295.1,142.09 L295.35,142.09 L295.6,142.09 L295.85,142.09 L296.1,142.09 L296.35,142.09 L296.6,142.09 L296.85,142.09 L297.1,142.1 L297.35,142.1 L297.6,142.1 L297.85,142.1 L298.1,142.1 L298.35,142.1 L298.6,142.1 L298.85,142.1 L299.1,142.1 L299.35,142.1 L299.6,142.1 L299.85,142.1 L300.1,142.1 L300.35,142.1 L300.6,142.1" stroke="#d82a35" stroke-width="1.2"/>
<path d="M45.35,142.09 L45.6,142.09 L45.85,142.09 L46.1,142.09 L46.35,142.09 L46.6,142.09 L46.85,142.09 L47.1,142.09 L47.35,142.08 L47.6,142.08 L47.85,142.08 L48.1,142.08 L48.35,142.08 L48.6,142.08 L48.85,142.07 L49.1,142.07 L49.35,142.07 L49.6,142.06 L49.85,142.06 L50.1,142.06 L50.35,142.05 L50.6,142.05 L50.85,142.04 L51.1,142.04 L51.35,142.03 L51.6,142.03 L51.85,142.02 L52.1,142.01 L52.35,142.01 L52.6,142 L52.85,141.99 L53.1,141.98 L53.35,141.97 L53.6,141.96 L53.85,141.94 L54.1,141.93 L54.35,141.92 L54.6,141.9 L54.85,141.88 L55.1,141.87 L55.35,141.85 L55.6,141.83 L55.85,141.8 L56.1,141.78 L56.35,141.75 L56.6,141.72 L56.85,141.69 L57.1,141.66 L57.35,141.63 L57.6,141.59 L57.85,141.55 L58.1,141.51 L58.35,141.46 L58.6,141.41 L58.85,141.36 L59.1,141.3 L59.35,141.24 L59.6,141.18 L59.85,141.11 L60.1,141.04 L60.35,140.96 L60.6,140.88 L60.85,140.79 L61.1,140.7 L61.35,140.6 L61.6,140.5 L61.85,140.38 L62.1,140.27 L62.35,140.14 L62.6,140.01 L62.85,139.87 L63.1,139.72 L63.35,139.56 L63.6,139.39 L63.85,139.22 L64.1,139.03 L64.35,138.84 L64.6,138.63 L64.85,138.41 L65.1,138.19 L65.35,137.95 L65.6,137.69 L65.85,137.43 L66.1,137.15 L66.35,136.86 L66.6,136.55 L66.85,136.23 L67.1,135.9 L67.35,135.55 L67.6,135.18 L67.85,134.8 L68.1,134.4 L68.35,133.99 L68.6,133.55 L68.85,133.1 L69.1,132.64 L69.35,132.15 L69.6,131.65 L69.85,131.13 L70.1,130.59 L70.35,130.03 L70.6,129.45 L70.85,128.85 L71.1,128.23 L71.35,127.6 L71.6,126.94 L71.85,126.27 L72.1,125.57 L72.35,124.86 L72.6,124.13 L72.85,123.39 L73.1,122.62 L73.35,121.84 L73.6,121.04 L73.85,120.23 L74.1,119.4 L74.35,118.56 L74.6,117.71 L74.85,116.84 L75.1,115.97 L75.35,115.08 L75.6,114.18 L75.85,113.28 L76.1,112.37 L76.35,111.46 L76.6,110.55 L76.85,109.64 L77.1,108.72 L77.35,107.82 L77.6,106.91 L77.85,106.02 L78.1,105.13 L78.35,104.26 L78.6,103.4 L78.85,102.56 L79.1,101.73 L79.35,100.93 L79.6,100.16 L79.85,99.41 L80.1,98.69 L80.35,98.01 L80.6,97.36 L80.85,96.74 L81.1,96.17 L81.35,95.64 L81.6,95.16 L81.85,94.73 L82.1,94.35 L82.35,94.02 L82.6,93.74 L82.85,93.53 L83.1,93.38 L83.35,93.29 L83.6,93.26 L83.85,93.3 L84.1,93.41 L84.35,93.59 L84.6,93.83 L84.85,94.15 L85.1,94.54 L85.35,95.01 L85.6,95.54 L85.85,96.15 L86.1,96.83 L86.35,97.59 L86.6,98.41 L86.85,99.3 L87.1,100.26 L87.35,101.29 L87.6,102.37 L87.85,103.52 L88.1,104.73 L88.35,105.99 L88.6,107.3 L88.85,108.66 L89.1,110.06 L89.35,111.5 L89.6,112.97 L89.85,114.47 L90.1,115.99 L90.35,117.53 L90.6,119.08 L90.85,120.63 L91.1,122.17 L91.35,123.71 L91.6,125.23 L91.85,126.73 L92.1,128.2 L92.35,129.63 L92.6,131.02 L92.85,132.35 L93.1,133.63 L93.35,134.84 L93.6,135.98 L93.85,137.04 L94.1,138.02 L94.35,138.9 L94.6,139.69 L94.85,140.37 L95.1,140.95 L95.35,141.41 L95.6,141.76 L95.85,141.99 L96.1,142.09 L96.35,142.07 L96.6,141.92 L96.85,141.64 L97.1,141.23 L97.35,140.7 L97.6,140.03 L97.85,139.23 L98.1,138.31 L98.35,137.27 L98.6,136.11 L98.85,134.84 L99.1,133.45 L99.35,131.96 L99.6,130.38 L99.85,128.71 L100.1,126.95 L100.35,125.13 L100.6,123.24 L100.85,121.29 L101.1,119.3 L101.35,117.28 L101.6,115.24 L101.85,113.19 L102.1,111.14 L102.35,109.1 L102.6,107.08 L102.85,105.1 L103.1,103.17 L103.35,101.31 L103.6,99.51 L103.85,97.8 L104.1,96.18 L104.35,94.67 L104.6,93.27 L104.85,92 L105.1,90.86 L105.35,89.86 L105.6,89.01 L105.85,88.31 L106.1,87.78 L106.35,87.41 L106.6,87.21 L106.85,87.18 L107.1,87.33 L107.35,87.64 L107.6,88.13 L107.85,88.78 L108.1,89.6 L108.35,90.59 L108.6,91.72 L108.85,93.01 L109.1,94.44 L109.35,96 L109.6,97.68 L109.85,99.47 L110.1,101.37 L110.35,103.35 L110.6,105.41 L110.85,107.52 L111.1,109.69 L111.35,111.89 L111.6,114.1 L111.85,116.32 L112.1,118.53 L112.35,120.71 L112.6,122.85 L112.85,124.93 L113.1,126.94 L113.35,128.88 L113.6,130.71 L113.85,132.44 L114.1,134.05 L114.35,135.54 L114.6,136.89 L114.85,138.09 L115.1,139.14 L115.35,140.04 L115.6,140.78 L115.85,141.35 L116.1,141.76 L116.35,142.01 L116.6,142.1 L116.85,142.03 L117.1,141.81 L117.35,141.44 L117.6,140.93 L117.85,140.3 L118.1,139.54 L118.35,138.67 L118.6,137.7 L118.85,136.65 L119.1,135.53 L119.35,134.35 L119.6,133.13 L119.85,131.88 L120.1,130.62 L120.35,129.36 L120.6,128.11 L120.85,126.91 L121.1,125.74 L121.35,124.64 L121.6,123.62 L121.85,122.68 L122.1,121.84 L122.35,121.1 L122.6,120.49 L122.85,119.99 L123.1,119.63 L123.35,119.41 L123.6,119.32 L123.85,119.38 L124.1,119.57 L124.35,119.9 L124.6,120.37 L124.85,120.96 L125.1,121.68 L125.35,122.52 L125.6,123.46 L125.85,124.49 L126.1,125.6 L126.35,126.78 L126.6,128.02 L126.85,129.3 L127.1,130.59 L127.35,131.9 L127.6,133.19 L127.85,134.45 L128.1,135.67 L128.35,136.83 L128.6,137.91 L128.85,138.89 L129.1,139.77 L129.35,140.53 L129.6,141.15 L129.85,141.62 L130.1,141.94 L130.35,142.09 L130.6,142.07 L130.85,141.87 L131.1,141.49 L131.35,140.93 L131.6,140.19 L131.85,139.27 L132.1,138.18 L132.35,136.93 L132.6,135.51 L132.85,133.95 L133.1,132.26 L133.35,130.44 L133.6,128.52 L133.85,126.51 L134.1,124.43 L134.35,122.3 L134.6,120.14 L134.85,117.97 L135.1,115.81 L135.35,113.67 L135.6,111.59 L135.85,109.59 L136.1,107.67 L136.35,105.87 L136.6,104.2 L136.85,102.67 L137.1,101.31 L137.35,100.12 L137.6,99.13 L137.85,98.33 L138.1,97.75 L138.35,97.38 L138.6,97.23 L138.85,97.3 L139.1,97.59 L139.35,98.1 L139.6,98.82 L139.85,99.75 L140.1,100.88 L140.35,102.2 L140.6,103.68 L140.85,105.33 L141.1,107.12 L141.35,109.02 L141.6,111.03 L141.85,113.13 L142.1,115.28 L142.35,117.48 L142.6,119.69 L142.85,121.9 L143.1,124.08 L143.35,126.21 L143.6,128.28 L143.85,130.26 L144.1,132.13 L144.35,133.87 L144.6,135.48 L144.85,136.93 L145.1,138.22 L145.35,139.33 L145.6,140.26 L145.85,141 L146.1,141.55 L146.35,141.91 L146.6,142.08 L146.85,142.07 L147.1,141.87 L147.35,141.51 L147.6,140.98 L147.85,140.31 L148.1,139.5 L148.35,138.58 L148.6,137.55 L148.85,136.44 L149.1,135.26 L149.35,134.04 L149.6,132.8 L149.85,131.55 L150.1,130.32 L150.35,129.12 L150.6,127.97 L150.85,126.89 L151.1,125.9 L151.35,125.01 L151.6,124.24 L151.85,123.6 L152.1,123.09 L152.35,122.73 L152.6,122.52 L152.85,122.46 L153.1,122.55 L153.35,122.8 L153.6,123.2 L153.85,123.74 L154.1,124.42 L154.35,125.22 L154.6,126.14 L154.85,127.15 L155.1,128.25 L155.35,129.42 L155.6,130.63 L155.85,131.87 L156.1,133.13 L156.35,134.37 L156.6,135.58 L156.85,136.75 L157.1,137.84 L157.35,138.84 L157.6,139.74 L157.85,140.52 L158.1,141.15 L158.35,141.63 L158.6,141.95 L158.85,142.09 L159.1,142.05 L159.35,141.82 L159.6,141.4 L159.85,140.79 L160.1,139.99 L160.35,139 L160.6,137.83 L160.85,136.49 L161.1,134.98 L161.35,133.33 L161.6,131.55 L161.85,129.64 L162.1,127.64 L162.35,125.56 L162.6,123.41 L162.85,121.23 L163.1,119.04 L163.35,116.84 L163.6,114.68 L163.85,112.56 L164.1,110.51 L164.35,108.56 L164.6,106.71 L164.85,104.99 L165.1,103.42 L165.35,102.01 L165.6,100.77 L165.85,99.72 L166.1,98.86 L166.35,98.2 L166.6,97.74 L166.85,97.5 L167.1,97.46 L167.35,97.63 L167.6,98.01 L167.85,98.58 L168.1,99.34 L168.35,100.28 L168.6,101.38 L168.85,102.64 L169.1,104.04 L169.35,105.56 L169.6,107.19 L169.85,108.9 L170.1,110.7 L170.35,112.54 L170.6,114.43 L170.85,116.33 L171.1,118.24 L171.35,120.13 L171.6,121.99 L171.85,123.82 L172.1,125.58 L172.35,127.28 L172.6,128.9 L172.85,130.43 L173.1,131.87 L173.35,133.21 L173.6,134.45 L173.85,135.58 L174.1,136.61 L174.35,137.52 L174.6,138.34 L174.85,139.05 L175.1,139.67 L175.35,140.2 L175.6,140.64 L175.85,141 L176.1,141.3 L176.35,141.53 L176.6,141.71 L176.85,141.85 L177.1,141.94 L177.35,142.01 L177.6,142.05 L177.85,142.08 L178.1,142.09 L178.35,142.1 L178.6,142.1 L178.85,142.1 L179.1,142.1 L179.35,142.1 L179.6,142.1 L179.85,142.09 L180.1,142.08 L180.35,142.06 L180.6,142.02 L180.85,141.96 L181.1,141.87 L181.35,141.74 L181.6,141.57 L181.85,141.35 L182.1,141.07 L182.35,140.72 L182.6,140.29 L182.85,139.78 L183.1,139.18 L183.35,138.49 L183.6,137.69 L183.85,136.8 L184.1,135.79 L184.35,134.69 L184.6,133.47 L184.85,132.15 L185.1,130.73 L185.35,129.21 L185.6,127.61 L185.85,125.93 L186.1,124.17 L186.35,122.36 L186.6,120.5 L186.85,118.62 L187.1,116.71 L187.35,114.81 L187.6,112.92 L187.85,111.06 L188.1,109.26 L188.35,107.52 L188.6,105.88 L188.85,104.33 L189.1,102.91 L189.35,101.62 L189.6,100.48 L189.85,99.51 L190.1,98.72 L190.35,98.11 L190.6,97.69 L190.85,97.48 L191.1,97.48 L191.35,97.68 L191.6,98.09 L191.85,98.71 L192.1,99.53 L192.35,100.54 L192.6,101.75 L192.85,103.13 L193.1,104.67 L193.35,106.36 L193.6,108.18 L193.85,110.11 L194.1,112.14 L194.35,114.25 L194.6,116.41 L194.85,118.6 L195.1,120.79 L195.35,122.98 L195.6,125.13 L195.85,127.23 L196.1,129.25 L196.35,131.17 L196.6,132.99 L196.85,134.67 L197.1,136.2 L197.35,137.58 L197.6,138.78 L197.85,139.81 L198.1,140.65 L198.35,141.3 L198.6,141.76 L198.85,142.02 L199.1,142.1 L199.35,141.99 L199.6,141.71 L199.85,141.26 L200.1,140.65 L200.35,139.91 L200.6,139.03 L200.85,138.05 L201.1,136.97 L201.35,135.82 L201.6,134.62 L201.85,133.38 L202.1,132.12 L202.35,130.88 L202.6,129.66 L202.85,128.48 L203.1,127.37 L203.35,126.33 L203.6,125.4 L203.85,124.57 L204.1,123.87 L204.35,123.3 L204.6,122.87 L204.85,122.59 L205.1,122.46 L205.35,122.49 L205.6,122.67 L205.85,123.01 L206.1,123.49 L206.35,124.1 L206.6,124.85 L206.85,125.72 L207.1,126.69 L207.35,127.75 L207.6,128.88 L207.85,130.07 L208.1,131.3 L208.35,132.55 L208.6,133.8 L208.85,135.02 L209.1,136.21 L209.35,137.33 L209.6,138.38 L209.85,139.33 L210.1,140.16 L210.35,140.86 L210.6,141.42 L210.85,141.81 L211.1,142.04 L211.35,142.1 L211.6,141.96 L211.85,141.64 L212.1,141.13 L212.35,140.42 L212.6,139.53 L212.85,138.45 L213.1,137.2 L213.35,135.78 L213.6,134.2 L213.85,132.49 L214.1,130.64 L214.35,128.68 L214.6,126.63 L214.85,124.51 L215.1,122.34 L215.35,120.13 L215.6,117.92 L215.85,115.72 L216.1,113.56 L216.35,111.45 L216.6,109.42 L216.85,107.49 L217.1,105.68 L217.35,104 L217.6,102.48 L217.85,101.13 L218.1,99.97 L218.35,98.99 L218.6,98.23 L218.85,97.67 L219.1,97.34 L219.35,97.22 L219.6,97.33 L219.85,97.66 L220.1,98.2 L220.35,98.95 L220.6,99.91 L220.85,101.06 L221.1,102.39 L221.35,103.88 L221.6,105.52 L221.85,107.3 L222.1,109.2 L222.35,111.19 L222.6,113.25 L222.85,115.38 L223.1,117.53 L223.35,119.71 L223.6,121.87 L223.85,124.01 L224.1,126.1 L224.35,128.13 L224.6,130.06 L224.85,131.9 L225.1,133.62 L225.35,135.21 L225.6,136.66 L225.85,137.94 L226.1,139.07 L226.35,140.02 L226.6,140.8 L226.85,141.39 L227.1,141.81 L227.35,142.04 L227.6,142.1 L227.85,141.98 L228.1,141.7 L228.35,141.25 L228.6,140.66 L228.85,139.93 L229.1,139.08 L229.35,138.11 L229.6,137.05 L229.85,135.91 L230.1,134.7 L230.35,133.44 L230.6,132.16 L230.85,130.85 L231.1,129.55 L231.35,128.27 L231.6,127.03 L231.85,125.83 L232.1,124.7 L232.35,123.65 L232.6,122.7 L232.85,121.84 L233.1,121.1 L233.35,120.48 L233.6,119.98 L233.85,119.62 L234.1,119.4 L234.35,119.32 L234.6,119.38 L234.85,119.58 L235.1,119.91 L235.35,120.38 L235.6,120.97 L235.85,121.68 L236.1,122.5 L236.35,123.42 L236.6,124.43 L236.85,125.52 L237.1,126.67 L237.35,127.87 L237.6,129.11 L237.85,130.36 L238.1,131.63 L238.35,132.88 L238.6,134.11 L238.85,135.3 L239.1,136.43 L239.35,137.5 L239.6,138.48 L239.85,139.37 L240.1,140.15 L240.35,140.82 L240.6,141.35 L240.85,141.75 L241.1,142 L241.35,142.1 L241.6,142.04 L241.85,141.82 L242.1,141.45 L242.35,140.9 L242.6,140.2 L242.85,139.33 L243.1,138.31 L243.35,137.14 L243.6,135.82 L243.85,134.36 L244.1,132.78 L244.35,131.07 L244.6,129.25 L244.85,127.34 L245.1,125.34 L245.35,123.27 L245.6,121.14 L245.85,118.97 L246.1,116.76 L246.35,114.55 L246.6,112.33 L246.85,110.13 L247.1,107.95 L247.35,105.83 L247.6,103.76 L247.85,101.76 L248.1,99.85 L248.35,98.03 L248.6,96.33 L248.85,94.74 L249.1,93.29 L249.35,91.97 L249.6,90.8 L249.85,89.79 L250.1,88.93 L250.35,88.24 L250.6,87.72 L250.85,87.37 L251.1,87.2 L251.35,87.19 L251.6,87.36 L251.85,87.69 L252.1,88.19 L252.35,88.86 L252.6,89.68 L252.85,90.64 L253.1,91.76 L253.35,93 L253.6,94.38 L253.85,95.87 L254.1,97.47 L254.35,99.16 L254.6,100.94 L254.85,102.8 L255.1,104.71 L255.35,106.68 L255.6,108.69 L255.85,110.73 L256.1,112.78 L256.35,114.83 L256.6,116.88 L256.85,118.9 L257.1,120.9 L257.35,122.85 L257.6,124.75 L257.85,126.59 L258.1,128.36 L258.35,130.05 L258.6,131.66 L258.85,133.16 L259.1,134.57 L259.35,135.87 L259.6,137.05 L259.85,138.12 L260.1,139.06 L260.35,139.88 L260.6,140.57 L260.85,141.14 L261.1,141.57 L261.35,141.88 L261.6,142.05 L261.85,142.1 L262.1,142.02 L262.35,141.82 L262.6,141.49 L262.85,141.05 L263.1,140.5 L263.35,139.83 L263.6,139.07 L263.85,138.2 L264.1,137.24 L264.35,136.2 L264.6,135.08 L264.85,133.88 L265.1,132.61 L265.35,131.29 L265.6,129.91 L265.85,128.49 L266.1,127.03 L266.35,125.54 L266.6,124.02 L266.85,122.48 L267.1,120.94 L267.35,119.39 L267.6,117.84 L267.85,116.3 L268.1,114.77 L268.35,113.27 L268.6,111.79 L268.85,110.35 L269.1,108.94 L269.35,107.57 L269.6,106.25 L269.85,104.98 L270.1,103.76 L270.35,102.6 L270.6,101.5 L270.85,100.46 L271.1,99.49 L271.35,98.58 L271.6,97.75 L271.85,96.98 L272.1,96.28 L272.35,95.66 L272.6,95.11 L272.85,94.63 L273.1,94.23 L273.35,93.89 L273.6,93.63 L273.85,93.44 L274.1,93.32 L274.35,93.26 L274.6,93.28 L274.85,93.35 L275.1,93.5 L275.35,93.7 L275.6,93.96 L275.85,94.28 L276.1,94.65 L276.35,95.07 L276.6,95.54 L276.85,96.06 L277.1,96.62 L277.35,97.23 L277.6,97.87 L277.85,98.55 L278.1,99.26 L278.35,100.01 L278.6,100.78 L278.85,101.57 L279.1,102.39 L279.35,103.23 L279.6,104.08 L279.85,104.96 L280.1,105.84 L280.35,106.73 L280.6,107.63 L280.85,108.54 L281.1,109.45 L281.35,110.37 L281.6,111.28 L281.85,112.19 L282.1,113.1 L282.35,114 L282.6,114.9 L282.85,115.79 L283.1,116.67 L283.35,117.54 L283.6,118.39 L283.85,119.24 L284.1,120.07 L284.35,120.88 L284.6,121.68 L284.85,122.47 L285.1,123.24 L285.35,123.99 L285.6,124.72 L285.85,125.43 L286.1,126.13 L286.35,126.81 L286.6,127.47 L286.85,128.11 L287.1,128.73 L287.35,129.33 L287.6,129.91 L287.85,130.48 L288.1,131.02 L288.35,131.55 L288.6,132.05 L288.85,132.54 L289.1,133.01 L289.35,133.47 L289.6,133.9 L289.85,134.32 L290.1,134.72 L290.35,135.11 L290.6,135.48 L290.85,135.83 L291.1,136.17 L291.35,136.49 L291.6,136.8 L291.85,137.09 L292.1,137.37 L292.35,137.64 L292.6,137.9 L292.85,138.14 L293.1,138.37 L293.35,138.59 L293.6,138.8 L293.85,138.99 L294.1,139.18 L294.35,139.36 L294.6,139.53 L294.85,139.69 L295.1,139.84 L295.35,139.98 L295.6,140.11 L295.85,140.24 L296.1,140.36 L296.35,140.47 L296.6,140.58 L296.85,140.68 L297.1,140.77 L297.35,140.86 L297.6,140.95 L297.85,141.02 L298.1,141.1 L298.35,141.17 L298.6,141.23 L298.85,141.29 L299.1,141.35 L299.35,141.4 L299.6,141.45 L299.85,141.5 L300.1,141.54 L300.35,141.58 L300.6,141.62 L300.85,141.66 L301.1,141.69 L301.35,141.72 L301.6,141.75 L301.85,141.77 L302.1,141.8 L302.35,141.82 L302.6,141.84 L302.85,141.86 L303.1,141.88 L303.35,141.9 L303.6,141.91 L303.85,141.93 L304.1,141.94 L304.35,141.95 L304.6,141.97 L304.85,141.98 L305.1,141.99 L305.35,142 L305.6,142 L305.85,142.01 L306.1,142.02 L306.35,142.03 L306.6,142.03 L306.85,142.04 L307.1,142.04 L307.35,142.05 L307.6,142.05 L307.85,142.06 L308.1,142.06 L308.35,142.06 L308.6,142.07 L308.85,142.07 L309.1,142.07 L309.35,142.07 L309.6,142.08 L309.85,142.08 L310.1,142.08 L310.35,142.08 L310.6,142.08 L310.85,142.09 L311.1,142.09 L311.35,142.09 L311.6,142.09 L311.85,142.09 L312.1,142.09 L312.35,142.09 L312.6,142.09" stroke="#4d8c2c" stroke-width="1.2"/>
<path d="M45.35,142.1 L45.6,142.1 L45.85,142.1 L46.1,142.1 L46.35,142.1 L46.6,142.1 L46.85,142.1 L47.1,142.1 L47.35,142.1 L47.6,142.1 L47.85,142.1 L48.1,142.1 L48.35,142.1 L48.6,142.1 L48.85,142.1 L49.1,142.1 L49.35,142.1 L49.6,142.1 L49.85,142.1 L50.1,142.1 L50.35,142.1 L50.6,142.1 L50.85,142.1 L51.1,142.1 L51.35,142.1 L51.6,142.1 L51.85,142.1 L52.1,142.1 L52.35,142.1 L52.6,142.1 L52.85,142.1 L53.1,142.1 L53.35,142.1 L53.6,142.1 L53.85,142.1 L54.1,142.1 L54.35,142.1 L54.6,142.1 L54.85,142.1 L55.1,142.1 L55.35,142.1 L55.6,142.1 L55.85,142.1 L56.1,142.1 L56.35,142.1 L56.6,142.1 L56.85,142.1 L57.1,142.1 L57.35,142.1 L57.6,142.1 L57.85,142.1 L58.1,142.1 L58.35,142.1 L58.6,142.1 L58.85,142.1 L59.1,142.1 L59.35,142.1 L59.6,142.1 L59.85,142.1 L60.1,142.1 L60.35,142.1 L60.6,142.1 L60.85,142.1 L61.1,142.1 L61.35,142.1 L61.6,142.1 L61.85,142.1 L62.1,142.1 L62.35,142.1 L62.6,142.1 L62.85,142.1 L63.1,142.1 L63.35,142.1 L63.6,142.1 L63.85,142.1 L64.1,142.1 L64.35,142.1 L64.6,142.1 L64.85,142.1 L65.1,142.1 L65.35,142.1 L65.6,142.1 L65.85,142.1 L66.1,142.1 L66.35,142.1 L66.6,142.1 L66.85,142.1 L67.1,142.1 L67.35,142.1 L67.6,142.1 L67.85,142.1 L68.1,142.1 L68.35,142.1 L68.6,142.1 L68.85,142.1 L69.1,142.1 L69.35,142.1 L69.6,142.1 L69.85,142.1 L70.1,142.1 L70.35,142.1 L70.6,142.1 L70.85,142.1 L71.1,142.1 L71.35,142.1 L71.6,142.1 L71.85,142.1 L72.1,142.1 L72.35,142.1 L72.6,142.1 L72.85,142.1 L73.1,142.1 L73.35,142.1 L73.6,142.1 L73.85,142.1 L74.1,142.1 L74.35,142.1 L74.6,142.1 L74.85,142.1 L75.1,142.1 L75.35,142.1 L75.6,142.1 L75.85,142.1 L76.1,142.1 L76.35,142.1 L76.6,142.1 L76.85,142.1 L77.1,142.1 L77.35,142.1 L77.6,142.1 L77.85,142.1 L78.1,142.1 L78.35,142.1 L78.6,142.1 L78.85,142.1 L79.1,142.1 L79.35,142.1 L79.6,142.1 L79.85,142.1 L80.1,142.1 L80.35,142.1 L80.6,142.1 L80.85,142.1 L81.1,142.1 L81.35,142.1 L81.6,142.1 L81.85,142.1 L82.1,142.1 L82.35,142.1 L82.6,142.1 L82.85,142.1 L83.1,142.1 L83.35,142.1 L83.6,142.1 L83.85,142.1 L84.1,142.1 L84.35,142.1 L84.6,142.1 L84.85,142.1 L85.1,142.1 L85.35,142.1 L85.6,142.1 L85.85,142.1 L86.1,142.1 L86.35,142.1 L86.6,142.1 L86.85,142.1 L87.1,142.1 L87.35,142.1 L87.6,142.1 L87.85,142.1 L88.1,142.1 L88.35,142.1 L88.6,142.1 L88.85,142.1 L89.1,142.1 L89.35,142.1 L89.6,142.1 L89.85,142.1 L90.1,142.1 L90.35,142.1 L90.6,142.1 L90.85,142.1 L91.1,142.1 L91.35,142.1 L91.6,142.1 L91.85,142.1 L92.1,142.1 L92.35,142.1 L92.6,142.1 L92.85,142.1 L93.1,142.1 L93.35,142.1 L93.6,142.1 L93.85,142.1 L94.1,142.1 L94.35,142.1 L94.6,142.1 L94.85,142.1 L95.1,142.1 L95.35,142.1 L95.6,142.1 L95.85,142.1 L96.1,142.1 L96.35,142.1 L96.6,142.1 L96.85,142.1 L97.1,142.1 L97.35,142.1 L97.6,142.1 L97.85,142.1 L98.1,142.1 L98.35,142.1 L98.6,142.1 L98.85,142.1 L99.1,142.1 L99.35,142.1 L99.6,142.1 L99.85,142.1 L100.1,142.1 L100.35,142.1 L100.6,142.1 L100.85,142.1 L101.1,142.1 L101.35,142.1 L101.6,142.1 L101.85,142.1 L102.1,142.1 L102.35,142.1 L102.6,142.1 L102.85,142.1 L103.1,142.1 L103.35,142.1 L103.6,142.1 L103.85,142.1 L104.1,142.1 L104.35,142.1 L104.6,142.1 L104.85,142.1 L105.1,142.1 L105.35,142.1 L105.6,142.1 L105.85,142.1 L106.1,142.1 L106.35,142.1 L106.6,142.1 L106.85,142.1 L107.1,142.1 L107.35,142.1 L107.6,142.1 L107.85,142.1 L108.1,142.1 L108.35,142.1 L108.6,142.1 L108.85,142.1 L109.1,142.1 L109.35,142.1 L109.6,142.1 L109.85,142.1 L110.1,142.1 L110.35,142.1 L110.6,142.1 L110.85,142.1 L111.1,142.1 L111.35,142.1 L111.6,142.1 L111.85,142.1 L112.1,142.1 L112.35,142.09 L112.6,142.09 L112.85,142.09 L113.1,142.09 L113.35,142.09 L113.6,142.09 L113.85,142.09 L114.1,142.09 L114.35,142.09 L114.6,142.09 L114.85,142.09 L115.1,142.09 L115.35,142.09 L115.6,142.09 L115.85,142.08 L116.1,142.08 L116.35,142.08 L116.6,142.08 L116.85,142.08 L117.1,142.08 L117.35,142.08 L117.6,142.08 L117.85,142.07 L118.1,142.07 L118.35,142.07 L118.6,142.07 L118.85,142.07 L119.1,142.06 L119.35,142.06 L119.6,142.06 L119.85,142.05 L120.1,142.05 L120.35,142.05 L120.6,142.04 L120.85,142.04 L121.1,142.04 L121.35,142.03 L121.6,142.03 L121.85,142.02 L122.1,142.02 L122.35,142.01 L122.6,142.01 L122.85,142 L123.1,141.99 L123.35,141.99 L123.6,141.98 L123.85,141.97 L124.1,141.96 L124.35,141.95 L124.6,141.94 L124.85,141.93 L125.1,141.92 L125.35,141.91 L125.6,141.9 L125.85,141.89 L126.1,141.88 L126.35,141.86 L126.6,141.85 L126.85,141.83 L127.1,141.82 L127.35,141.8 L127.6,141.78 L127.85,141.76 L128.1,141.74 L128.35,141.72 L128.6,141.7 L128.85,141.67 L129.1,141.65 L129.35,141.62 L129.6,141.6 L129.85,141.57 L130.1,141.54 L130.35,141.5 L130.6,141.47 L130.85,141.43 L131.1,141.4 L131.35,141.36 L131.6,141.32 L131.85,141.27 L132.1,141.23 L132.35,141.18 L132.6,141.13 L132.85,141.08 L133.1,141.03 L133.35,140.97 L133.6,140.91 L133.85,140.85 L134.1,140.78 L134.35,140.71 L134.6,140.64 L134.85,140.56 L135.1,140.49 L135.35,140.4 L135.6,140.32 L135.85,140.23 L136.1,140.13 L136.35,140.04 L136.6,139.93 L136.85,139.83 L137.1,139.72 L137.35,139.6 L137.6,139.48 L137.85,139.36 L138.1,139.22 L138.35,139.09 L138.6,138.95 L138.85,138.8 L139.1,138.65 L139.35,138.49 L139.6,138.32 L139.85,138.15 L140.1,137.97 L140.35,137.79 L140.6,137.59 L140.85,137.39 L141.1,137.19 L141.35,136.97 L141.6,136.75 L141.85,136.52 L142.1,136.28 L142.35,136.03 L142.6,135.77 L142.85,135.51 L143.1,135.23 L143.35,134.95 L143.6,134.65 L143.85,134.35 L144.1,134.04 L144.35,133.71 L144.6,133.38 L144.85,133.03 L145.1,132.68 L145.35,132.31 L145.6,131.93 L145.85,131.54 L146.1,131.14 L146.35,130.72 L146.6,130.29 L146.85,129.85 L147.1,129.4 L147.35,128.93 L147.6,128.45 L147.85,127.96 L148.1,127.46 L148.35,126.94 L148.6,126.4 L148.85,125.85 L149.1,125.29 L149.35,124.71 L149.6,124.12 L149.85,123.52 L150.1,122.89 L150.35,122.26 L150.6,121.61 L150.85,120.94 L151.1,120.25 L151.35,119.56 L151.6,118.84 L151.85,118.11 L152.1,117.36 L152.35,116.6 L152.6,115.82 L152.85,115.03 L153.1,114.22 L153.35,113.39 L153.6,112.55 L153.85,111.69 L154.1,110.82 L154.35,109.92 L154.6,109.02 L154.85,108.09 L155.1,107.16 L155.35,106.2 L155.6,105.23 L155.85,104.24 L156.1,103.24 L156.35,102.23 L156.6,101.2 L156.85,100.15 L157.1,99.09 L157.35,98.01 L157.6,96.92 L157.85,95.82 L158.1,94.71 L158.35,93.58 L158.6,92.43 L158.85,91.28 L159.1,90.11 L159.35,88.93 L159.6,87.74 L159.85,86.54 L160.1,85.33 L160.35,84.11 L160.6,82.88 L160.85,81.64 L161.1,80.39 L161.35,79.14 L161.6,77.87 L161.85,76.6 L162.1,75.33 L162.35,74.04 L162.6,72.76 L162.85,71.46 L163.1,70.17 L163.35,68.87 L163.6,67.57 L163.85,66.27 L164.1,64.97 L164.35,63.66 L164.6,62.36 L164.85,61.06 L165.1,59.76 L165.35,58.47 L165.6,57.17 L165.85,55.89 L166.1,54.6 L166.35,53.33 L166.6,52.06 L166.85,50.8 L167.1,49.54 L167.35,48.3 L167.6,47.07 L167.85,45.84 L168.1,44.63 L168.35,43.43 L168.6,42.25 L168.85,41.08 L169.1,39.93 L169.35,38.79 L169.6,37.67 L169.85,36.56 L170.1,35.48 L170.35,34.41 L170.6,33.36 L170.85,32.34 L171.1,31.34 L171.35,30.36 L171.6,29.4 L171.85,28.47 L172.1,27.56 L172.35,26.67 L172.6,25.82 L172.85,24.99 L173.1,24.18 L173.35,23.41 L173.6,22.66 L173.85,21.95 L174.1,21.26 L174.35,20.6 L174.6,19.98 L174.85,19.39 L175.1,18.83 L175.35,18.3 L175.6,17.8 L175.85,17.34 L176.1,16.91 L176.35,16.52 L176.6,16.16 L176.85,15.83 L177.1,15.54 L177.35,15.29 L177.6,15.07 L177.85,14.88 L178.1,14.73 L178.35,14.62 L178.6,14.55 L178.85,14.51 L179.1,14.5 L179.35,14.54 L179.6,14.6 L179.85,14.71 L180.1,14.85 L180.35,15.03 L180.6,15.24 L180.85,15.49 L181.1,15.77 L181.35,16.09 L181.6,16.44 L181.85,16.83 L182.1,17.25 L182.35,17.71 L182.6,18.19 L182.85,18.72 L183.1,19.27 L183.35,19.86 L183.6,20.48 L183.85,21.13 L184.1,21.81 L184.35,22.52 L184.6,23.26 L184.85,24.03 L185.1,24.82 L185.35,25.65 L185.6,26.5 L185.85,27.38 L186.1,28.28 L186.35,29.21 L186.6,30.16 L186.85,31.14 L187.1,32.14 L187.35,33.16 L187.6,34.2 L187.85,35.26 L188.1,36.34 L188.35,37.44 L188.6,38.56 L188.85,39.7 L189.1,40.85 L189.35,42.02 L189.6,43.2 L189.85,44.39 L190.1,45.6 L190.35,46.82 L190.6,48.05 L190.85,49.29 L191.1,50.55 L191.35,51.81 L191.6,53.07 L191.85,54.35 L192.1,55.63 L192.35,56.92 L192.6,58.21 L192.85,59.5 L193.1,60.8 L193.35,62.1 L193.6,63.4 L193.85,64.71 L194.1,66.01 L194.35,67.31 L194.6,68.61 L194.85,69.91 L195.1,71.21 L195.35,72.5 L195.6,73.79 L195.85,75.07 L196.1,76.35 L196.35,77.62 L196.6,78.88 L196.85,80.14 L197.1,81.39 L197.35,82.63 L197.6,83.86 L197.85,85.09 L198.1,86.3 L198.35,87.5 L198.6,88.7 L198.85,89.88 L199.1,91.05 L199.35,92.2 L199.6,93.35 L199.85,94.48 L200.1,95.6 L200.35,96.71 L200.6,97.8 L200.85,98.87 L201.1,99.94 L201.35,100.99 L201.6,102.02 L201.85,103.04 L202.1,104.05 L202.35,105.03 L202.6,106.01 L202.85,106.97 L203.1,107.91 L203.35,108.83 L203.6,109.74 L203.85,110.64 L204.1,111.52 L204.35,112.38 L204.6,113.23 L204.85,114.05 L205.1,114.87 L205.35,115.67 L205.6,116.45 L205.85,117.21 L206.1,117.96 L206.35,118.7 L206.6,119.41 L206.85,120.12 L207.1,120.8 L207.35,121.47 L207.6,122.13 L207.85,122.77 L208.1,123.39 L208.35,124 L208.6,124.6 L208.85,125.18 L209.1,125.74 L209.35,126.29 L209.6,126.83 L209.85,127.35 L210.1,127.86 L210.35,128.36 L210.6,128.84 L210.85,129.31 L211.1,129.76 L211.35,130.21 L211.6,130.64 L211.85,131.05 L212.1,131.46 L212.35,131.85 L212.6,132.23 L212.85,132.6 L213.1,132.96 L213.35,133.31 L213.6,133.65 L213.85,133.97 L214.1,134.29 L214.35,134.59 L214.6,134.89 L214.85,135.18 L215.1,135.45 L215.35,135.72 L215.6,135.98 L215.85,136.23 L216.1,136.47 L216.35,136.7 L216.6,136.93 L216.85,137.14 L217.1,137.35 L217.35,137.55 L217.6,137.75 L217.85,137.93 L218.1,138.11 L218.35,138.29 L218.6,138.46 L218.85,138.62 L219.1,138.77 L219.35,138.92 L219.6,139.06 L219.85,139.2 L220.1,139.33 L220.35,139.46 L220.6,139.58 L220.85,139.69 L221.1,139.81 L221.35,139.91 L221.6,140.02 L221.85,140.11 L222.1,140.21 L222.35,140.3 L222.6,140.39 L222.85,140.47 L223.1,140.55 L223.35,140.62 L223.6,140.7 L223.85,140.77 L224.1,140.83 L224.35,140.9 L224.6,140.96 L224.85,141.01 L225.1,141.07 L225.35,141.12 L225.6,141.17 L225.85,141.22 L226.1,141.27 L226.35,141.31 L226.6,141.35 L226.85,141.39 L227.1,141.43 L227.35,141.46 L227.6,141.5 L227.85,141.53 L228.1,141.56 L228.35,141.59 L228.6,141.62 L228.85,141.64 L229.1,141.67 L229.35,141.69 L229.6,141.72 L229.85,141.74 L230.1,141.76 L230.35,141.78 L230.6,141.8 L230.85,141.81 L231.1,141.83 L231.35,141.84 L231.6,141.86 L231.85,141.87 L232.1,141.89 L232.35,141.9 L232.6,141.91 L232.85,141.92 L233.1,141.93 L233.35,141.94 L233.6,141.95 L233.85,141.96 L234.1,141.97 L234.35,141.98 L234.6,141.98 L234.85,141.99 L235.1,142 L235.35,142 L235.6,142.01 L235.85,142.02 L236.1,142.02 L236.35,142.03 L236.6,142.03 L236.85,142.04 L237.1,142.04 L237.35,142.04 L237.6,142.05 L237.85,142.05 L238.1,142.05 L238.35,142.06 L238.6,142.06 L238.85,142.06 L239.1,142.06 L239.35,142.07 L239.6,142.07 L239.85,142.07 L240.1,142.07 L240.35,142.07 L240.6,142.08 L240.85,142.08 L241.1,142.08 L241.35,142.08 L241.6,142.08 L241.85,142.08 L242.1,142.08 L242.35,142.09 L242.6,142.09 L242.85,142.09 L243.1,142.09 L243.35,142.09 L243.6,142.09 L243.85,142.09 L244.1,142.09 L244.35,142.09 L244.6,142.09 L244.85,142.09 L245.1,142.09 L245.35,142.09 L245.6,142.09 L245.85,142.09 L246.1,142.1 L246.35,142.1 L246.6,142.1 L246.85,142.1 L247.1,142.1 L247.35,142.1 L247.6,142.1 L247.85,142.1 L248.1,142.1 L248.35,142.1 L248.6,142.1 L248.85,142.1 L249.1,142.1 L249.35,142.1 L249.6,142.1 L249.85,142.1 L250.1,142.1 L250.35,142.1 L250.6,142.1 L250.85,142.1 L251.1,142.1 L251.35,142.1 L251.6,142.1 L251.85,142.1 L252.1,142.1 L252.35,142.1 L252.6,142.1 L252.85,142.1 L253.1,142.1 L253.35,142.1 L253.6,142.1 L253.85,142.1 L254.1,142.1 L254.35,142.1 L254.6,142.1 L254.85,142.1 L255.1,142.1 L255.35,142.1 L255.6,142.1 L255.85,142.1 L256.1,142.1 L256.35,142.1 L256.6,142.1 L256.85,142.1 L257.1,142.1 L257.35,142.1 L257.6,142.1 L257.85,142.1 L258.1,142.1 L258.35,142.1 L258.6,142.1 L258.85,142.1 L259.1,142.1 L259.35,142.1 L259.6,142.1 L259.85,142.1 L260.1,142.1 L260.35,142.1 L260.6,142.1 L260.85,142.1 L261.1,142.1 L261.35,142.1 L261.6,142.1 L261.85,142.1 L262.1,142.1 L262.35,142.1 L262.6,142.1 L262.85,142.1 L263.1,142.1 L263.35,142.1 L263.6,142.1 L263.85,142.1 L264.1,142.1 L264.35,142.1 L264.6,142.1 L264.85,142.1 L265.1,142.1 L265.35,142.1 L265.6,142.1 L265.85,142.1 L266.1,142.1 L266.35,142.1 L266.6,142.1 L266.85,142.1 L267.1,142.1 L267.35,142.1 L267.6,142.1 L267.85,142.1 L268.1,142.1 L268.35,142.1 L268.6,142.1 L268.85,142.1 L269.1,142.1 L269.35,142.1 L269.6,142.1 L269.85,142.1 L270.1,142.1 L270.35,142.1 L270.6,142.1 L270.85,142.1 L271.1,142.1 L271.35,142.1 L271.6,142.1 L271.85,142.1 L272.1,142.1 L272.35,142.1 L272.6,142.1 L272.85,142.1 L273.1,142.1 L273.35,142.1 L273.6,142.1 L273.85,142.1 L274.1,142.1 L274.35,142.1 L274.6,142.1 L274.85,142.1 L275.1,142.1 L275.35,142.1 L275.6,142.1 L275.85,142.1 L276.1,142.1 L276.35,142.1 L276.6,142.1 L276.85,142.1 L277.1,142.1 L277.35,142.1 L277.6,142.1 L277.85,142.1 L278.1,142.1 L278.35,142.1 L278.6,142.1 L278.85,142.1 L279.1,142.1 L279.35,142.1 L279.6,142.1 L279.85,142.1 L280.1,142.1 L280.35,142.1 L280.6,142.1 L280.85,142.1 L281.1,142.1 L281.35,142.1 L281.6,142.1 L281.85,142.1 L282.1,142.1 L282.35,142.1 L282.6,142.1 L282.85,142.1 L283.1,142.1 L283.35,142.1 L283.6,142.1 L283.85,142.1 L284.1,142.1 L284.35,142.1 L284.6,142.1 L284.85,142.1 L285.1,142.1 L285.35,142.1 L285.6,142.1 L285.85,142.1 L286.1,142.1 L286.35,142.1 L286.6,142.1 L286.85,142.1 L287.1,142.1 L287.35,142.1 L287.6,142.1 L287.85,142.1 L288.1,142.1 L288.35,142.1 L288.6,142.1 L288.85,142.1 L289.1,142.1 L289.35,142.1 L289.6,142.1 L289.85,142.1 L290.1,142.1 L290.35,142.1 L290.6,142.1 L290.85,142.1 L291.1,142.1 L291.35,142.1 L291.6,142.1 L291.85,142.1 L292.1,142.1 L292.35,142.1 L292.6,142.1 L292.85,142.1 L293.1,142.1 L293.35,142.1 L293.6,142.1 L293.85,142.1 L294.1,142.1 L294.35,142.1 L294.6,142.1 L294.85,142.1 L295.1,142.1 L295.35,142.1 L295.6,142.1 L295.85,142.1 L296.1,142.1 L296.35,142.1 L296.6,142.1 L296.85,142.1 L297.1,142.1 L297.35,142.1 L297.6,142.1 L297.85,142.1 L298.1,142.1 L298.35,142.1 L298.6,142.1 L298.85,142.1 L299.1,142.1 L299.35,142.1 L299.6,142.1 L299.85,142.1 L300.1,142.1 L300.35,142.1 L300.6,142.1 L300.85,142.1 L301.1,142.1 L301.35,142.1 L301.6,142.1 L301.85,142.1 L302.1,142.1 L302.35,142.1 L302.6,142.1 L302.85,142.1 L303.1,142.1 L303.35,142.1 L303.6,142.1 L303.85,142.1 L304.1,142.1 L304.35,142.1 L304.6,142.1 L304.85,142.1 L305.1,142.1 L305.35,142.1 L305.6,142.1 L305.85,142.1 L306.1,142.1 L306.35,142.1 L306.6,142.1 L306.85,142.1 L307.1,142.1 L307.35,142.1 L307.6,142.1 L307.85,142.1 L308.1,142.1 L308.35,142.1 L308.6,142.1 L308.85,142.1 L309.1,142.1 L309.35,142.1 L309.6,142.1 L309.85,142.1 L310.1,142.1 L310.35,142.1 L310.6,142.1 L310.85,142.1 L311.1,142.1 L311.35,142.1 L311.6,142.1 L311.85,142.1 L312.1,142.1 L312.35,142.1 L312.6,142.1" stroke="#8a8a8a" stroke-width="1.05" stroke-dasharray="1.6 1.4"/>
</g>
<text x="39.45" y="145.6" text-anchor="end" style="font-family:&quot;Liberation Serif&quot;,serif;font-size:11.5px;" >0.0</text>
<text x="39.45" y="120.08" text-anchor="end" style="font-family:&quot;Liberation Serif&quot;,serif;font-size:11.5px;" >0.2</text>
<text x="39.45" y="94.56" text-anchor="end" style="font-family:&quot;Liberation Serif&quot;,serif;font-size:11.5px;" >0.4</text>
<text x="39.45" y="69.04" text-anchor="end" style="font-family:&quot;Liberation Serif&quot;,serif;font-size:11.5px;" >0.6</text>
<text x="39.45" y="43.52" text-anchor="end" style="font-family:&quot;Liberation Serif&quot;,serif;font-size:11.5px;" >0.8</text>
<text x="39.45" y="18" text-anchor="end" style="font-family:&quot;Liberation Serif&quot;,serif;font-size:11.5px;" >1.0</text>
<text x="60.2" y="157.3" text-anchor="middle" style="font-family:&quot;Liberation Serif&quot;,serif;font-size:11.5px;" >-4</text>
<text x="89.9" y="157.3" text-anchor="middle" style="font-family:&quot;Liberation Serif&quot;,serif;font-size:11.5px;" >-3</text>
<text x="119.6" y="157.3" text-anchor="middle" style="font-family:&quot;Liberation Serif&quot;,serif;font-size:11.5px;" >-2</text>
<text x="149.3" y="157.3" text-anchor="middle" style="font-family:&quot;Liberation Serif&quot;,serif;font-size:11.5px;" >-1</text>
<text x="179" y="157.3" text-anchor="middle" style="font-family:&quot;Liberation Serif&quot;,serif;font-size:11.5px;" >0</text>
<text x="208.7" y="157.3" text-anchor="middle" style="font-family:&quot;Liberation Serif&quot;,serif;font-size:11.5px;" >1</text>
<text x="238.4" y="157.3" text-anchor="middle" style="font-family:&quot;Liberation Serif&quot;,serif;font-size:11.5px;" >2</text>
<text x="268.1" y="157.3" text-anchor="middle" style="font-family:&quot;Liberation Serif&quot;,serif;font-size:11.5px;" >3</text>
<text x="297.8" y="157.3" text-anchor="middle" style="font-family:&quot;Liberation Serif&quot;,serif;font-size:11.5px;" >4</text>
<text x="179.3" y="173.5" text-anchor="middle" style="font-family:&quot;Liberation Serif&quot;,serif;font-size:13px;" >distance <tspan style="font-style:italic">x</tspan>/<tspan style="font-style:italic">w</tspan></text>
<text x="0" y="0" text-anchor="start" style="font-family:&quot;Liberation Serif&quot;,serif;font-size:13px;" transform="translate(11.9,113.9) rotate(-90)">intensity [a.u.]</text>
<text x="0.2" y="9.7" text-anchor="start" style="font-family:&quot;Liberation Serif&quot;,serif;font-size:14.5px;" >(a)</text>
<text x="304.6" y="24" text-anchor="end" style="font-family:&quot;Liberation Serif&quot;,serif;font-size:13.5px;" >= 0</text>
<g transform="translate(274.9,17.7)" fill="none" stroke="#000" stroke-linecap="round"><path d="M1.6,0.4 C1.2,2.0 0.5,3.9 0.8,5.2 C1.1,6.3 2.3,6.6 3.4,6.1" stroke-width="1.3"/><path d="M3.4,6.1 C5.2,5.3 6.9,2.8 8.4,0.4" stroke-width="0.95"/><path d="M4.9,0.9 L1.6,8.6" stroke-width="0.85"/></g>
<path d="M57.7,16.2 H87.5" stroke="#3f30ff" stroke-width="1.2"/>
<text x="92.8" y="21.1" text-anchor="start" style="font-family:&quot;Liberation Serif&quot;,serif;font-size:13px;" ><tspan style="font-style:italic">a</tspan><tspan dy="3" style="font-size:8.5px">1</tspan></text>
<path d="M57.7,32.4 H87.5" stroke="#d82a35" stroke-width="1.2"/>
<text x="92.8" y="37.3" text-anchor="start" style="font-family:&quot;Liberation Serif&quot;,serif;font-size:13px;" ><tspan style="font-style:italic">a</tspan><tspan dy="3" style="font-size:8.5px">2</tspan></text>
<path d="M57.7,48.6 H87.5" stroke="#4d8c2c" stroke-width="1.2"/>
<text x="92.8" y="53.5" text-anchor="start" style="font-family:&quot;Liberation Serif&quot;,serif;font-size:13px;" ><tspan style="font-style:italic">a</tspan><tspan dy="3" style="font-size:8.5px">3</tspan></text>
<clipPath id="clipb"><rect x="45.45" y="187" width="267.25" height="142.4"/></clipPath>
<g stroke="#333" stroke-width="1" fill="none">
<path d="M45.45,187 H312.7 V327.4"/>
<path d="M45.45,187 V329.7"/>
<path d="M45.45,327.4 h-4 M45.45,314.68 h-2 M45.45,301.96 h-4 M45.45,289.24 h-2 M45.45,276.52 h-4 M45.45,263.8 h-2 M45.45,251.08 h-4 M45.45,238.36 h-2 M45.45,225.64 h-4 M45.45,212.92 h-2 M45.45,200.2 h-4 M45.45,187.48 h-2 M60.2,327.4 v4 M75.05,327.4 v2 M89.9,327.4 v4 M104.75,327.4 v2 M119.6,327.4 v4 M134.45,327.4 v2 M149.3,327.4 v4 M164.15,327.4 v2 M179,327.4 v4 M193.85,327.4 v2 M208.7,327.4 v4 M223.55,327.4 v2 M238.4,327.4 v4 M253.25,327.4 v2 M268.1,327.4 v4 M282.95,327.4 v2 M297.8,327.4 v4"/>
</g>
<g clip-path="url(#clipb)" fill="none" stroke-linejoin="round">
<path d="M74.85,327.4 L75.1,327.4 L75.35,327.4 L75.6,327.4 L75.85,327.4 L76.1,327.4 L76.35,327.4 L76.6,327.4 L76.85,327.4 L77.1,327.4 L77.35,327.4 L77.6,327.4 L77.85,327.4 L78.1,327.4 L78.35,327.4 L78.6,327.4 L78.85,327.4 L79.1,327.4 L79.35,327.4 L79.6,327.4 L79.85,327.4 L80.1,327.4 L80.35,327.4 L80.6,327.4 L80.85,327.4 L81.1,327.4 L81.35,327.4 L81.6,327.4 L81.85,327.4 L82.1,327.39 L82.35,327.39 L82.6,327.39 L82.85,327.39 L83.1,327.39 L83.35,327.39 L83.6,327.39 L83.85,327.39 L84.1,327.39 L84.35,327.39 L84.6,327.39 L84.85,327.39 L85.1,327.39 L85.35,327.38 L85.6,327.38 L85.85,327.38 L86.1,327.38 L86.35,327.38 L86.6,327.38 L86.85,327.37 L87.1,327.37 L87.35,327.37 L87.6,327.37 L87.85,327.36 L88.1,327.36 L88.35,327.36 L88.6,327.35 L88.85,327.35 L89.1,327.35 L89.35,327.34 L89.6,327.34 L89.85,327.33 L90.1,327.33 L90.35,327.32 L90.6,327.31 L90.85,327.31 L91.1,327.3 L91.35,327.29 L91.6,327.28 L91.85,327.28 L92.1,327.27 L92.35,327.26 L92.6,327.25 L92.85,327.23 L93.1,327.22 L93.35,327.21 L93.6,327.19 L93.85,327.18 L94.1,327.16 L94.35,327.15 L94.6,327.13 L94.85,327.11 L95.1,327.09 L95.35,327.06 L95.6,327.04 L95.85,327.02 L96.1,326.99 L96.35,326.96 L96.6,326.93 L96.85,326.9 L97.1,326.86 L97.35,326.83 L97.6,326.79 L97.85,326.75 L98.1,326.7 L98.35,326.66 L98.6,326.61 L98.85,326.56 L99.1,326.5 L99.35,326.45 L99.6,326.39 L99.85,326.32 L100.1,326.25 L100.35,326.18 L100.6,326.11 L100.85,326.03 L101.1,325.94 L101.35,325.85 L101.6,325.76 L101.85,325.66 L102.1,325.56 L102.35,325.45 L102.6,325.33 L102.85,325.21 L103.1,325.08 L103.35,324.95 L103.6,324.81 L103.85,324.66 L104.1,324.51 L104.35,324.35 L104.6,324.18 L104.85,324 L105.1,323.82 L105.35,323.63 L105.6,323.42 L105.85,323.21 L106.1,322.99 L106.35,322.76 L106.6,322.52 L106.85,322.27 L107.1,322.01 L107.35,321.74 L107.6,321.46 L107.85,321.16 L108.1,320.86 L108.35,320.54 L108.6,320.21 L108.85,319.87 L109.1,319.51 L109.35,319.15 L109.6,318.76 L109.85,318.37 L110.1,317.96 L110.35,317.54 L110.6,317.1 L110.85,316.65 L111.1,316.18 L111.35,315.7 L111.6,315.2 L111.85,314.69 L112.1,314.16 L112.35,313.62 L112.6,313.06 L112.85,312.49 L113.1,311.9 L113.35,311.29 L113.6,310.67 L113.85,310.04 L114.1,309.38 L114.35,308.72 L114.6,308.04 L114.85,307.34 L115.1,306.63 L115.35,305.9 L115.6,305.16 L115.85,304.41 L116.1,303.64 L116.35,302.86 L116.6,302.06 L116.85,301.26 L117.1,300.44 L117.35,299.61 L117.6,298.77 L117.85,297.92 L118.1,297.06 L118.35,296.2 L118.6,295.32 L118.85,294.44 L119.1,293.55 L119.35,292.66 L119.6,291.77 L119.85,290.87 L120.1,289.97 L120.35,289.07 L120.6,288.17 L120.85,287.28 L121.1,286.39 L121.35,285.5 L121.6,284.62 L121.85,283.74 L122.1,282.87 L122.35,282.02 L122.6,281.18 L122.85,280.34 L123.1,279.53 L123.35,278.73 L123.6,277.95 L123.85,277.19 L124.1,276.45 L124.35,275.73 L124.6,275.04 L124.85,274.37 L125.1,273.74 L125.35,273.13 L125.6,272.55 L125.85,272 L126.1,271.49 L126.35,271.02 L126.6,270.58 L126.85,270.18 L127.1,269.82 L127.35,269.5 L127.6,269.23 L127.85,269 L128.1,268.81 L128.35,268.67 L128.6,268.58 L128.85,268.53 L129.1,268.54 L129.35,268.59 L129.6,268.7 L129.85,268.85 L130.1,269.06 L130.35,269.32 L130.6,269.63 L130.85,270 L131.1,270.41 L131.35,270.88 L131.6,271.4 L131.85,271.97 L132.1,272.6 L132.35,273.27 L132.6,273.99 L132.85,274.76 L133.1,275.58 L133.35,276.45 L133.6,277.36 L133.85,278.31 L134.1,279.31 L134.35,280.34 L134.6,281.42 L134.85,282.53 L135.1,283.67 L135.35,284.85 L135.6,286.06 L135.85,287.29 L136.1,288.55 L136.35,289.83 L136.6,291.13 L136.85,292.45 L137.1,293.78 L137.35,295.12 L137.6,296.46 L137.85,297.82 L138.1,299.17 L138.35,300.53 L138.6,301.87 L138.85,303.21 L139.1,304.54 L139.35,305.86 L139.6,307.16 L139.85,308.44 L140.1,309.7 L140.35,310.93 L140.6,312.13 L140.85,313.3 L141.1,314.43 L141.35,315.53 L141.6,316.6 L141.85,317.61 L142.1,318.59 L142.35,319.52 L142.6,320.41 L142.85,321.24 L143.1,322.03 L143.35,322.76 L143.6,323.44 L143.85,324.07 L144.1,324.64 L144.35,325.16 L144.6,325.62 L144.85,326.03 L145.1,326.38 L145.35,326.68 L145.6,326.93 L145.85,327.12 L146.1,327.26 L146.35,327.35 L146.6,327.4 L146.85,327.39 L147.1,327.34 L147.35,327.25 L147.6,327.11 L147.85,326.94 L148.1,326.73 L148.35,326.49 L148.6,326.21 L148.85,325.91 L149.1,325.59 L149.35,325.24 L149.6,324.88 L149.85,324.5 L150.1,324.11 L150.35,323.72 L150.6,323.32 L150.85,322.92 L151.1,322.52 L151.35,322.13 L151.6,321.75 L151.85,321.38 L152.1,321.03 L152.35,320.69 L152.6,320.38 L152.85,320.09 L153.1,319.83 L153.35,319.6 L153.6,319.4 L153.85,319.23 L154.1,319.09 L154.35,319 L154.6,318.94 L154.85,318.92 L155.1,318.93 L155.35,318.99 L155.6,319.08 L155.85,319.21 L156.1,319.38 L156.35,319.59 L156.6,319.83 L156.85,320.11 L157.1,320.41 L157.35,320.75 L157.6,321.11 L157.85,321.49 L158.1,321.89 L158.35,322.31 L158.6,322.74 L158.85,323.18 L159.1,323.63 L159.35,324.07 L159.6,324.51 L159.85,324.93 L160.1,325.34 L160.35,325.73 L160.6,326.09 L160.85,326.42 L161.1,326.71 L161.35,326.96 L161.6,327.16 L161.85,327.3 L162.1,327.38 L162.35,327.4 L162.6,327.34 L162.85,327.2 L163.1,326.99 L163.35,326.68 L163.6,326.28 L163.85,325.79 L164.1,325.19 L164.35,324.49 L164.6,323.68 L164.85,322.76 L165.1,321.72 L165.35,320.57 L165.6,319.29 L165.85,317.9 L166.1,316.38 L166.35,314.74 L166.6,312.98 L166.85,311.09 L167.1,309.08 L167.35,306.96 L167.6,304.71 L167.85,302.35 L168.1,299.87 L168.35,297.29 L168.6,294.6 L168.85,291.81 L169.1,288.92 L169.35,285.94 L169.6,282.88 L169.85,279.75 L170.1,276.54 L170.35,273.27 L170.6,269.94 L170.85,266.56 L171.1,263.15 L171.35,259.71 L171.6,256.24 L171.85,252.77 L172.1,249.29 L172.35,245.82 L172.6,242.37 L172.85,238.94 L173.1,235.56 L173.35,232.22 L173.6,228.93 L173.85,225.72 L174.1,222.58 L174.35,219.53 L174.6,216.58 L174.85,213.73 L175.1,211 L175.35,208.39 L175.6,205.91 L175.85,203.57 L176.1,201.38 L176.35,199.34 L176.6,197.47 L176.85,195.76 L177.1,194.22 L177.35,192.87 L177.6,191.69 L177.85,190.7 L178.1,189.91 L178.35,189.3 L178.6,188.89 L178.85,188.67 L179.1,188.65 L179.35,188.83 L179.6,189.2 L179.85,189.77 L180.1,190.53 L180.35,191.48 L180.6,192.62 L180.85,193.94 L181.1,195.44 L181.35,197.11 L181.6,198.96 L181.85,200.96 L182.1,203.12 L182.35,205.43 L182.6,207.88 L182.85,210.47 L183.1,213.17 L183.35,216 L183.6,218.93 L183.85,221.97 L184.1,225.09 L184.35,228.29 L184.6,231.56 L184.85,234.88 L185.1,238.26 L185.35,241.68 L185.6,245.13 L185.85,248.6 L186.1,252.07 L186.35,255.55 L186.6,259.02 L186.85,262.46 L187.1,265.88 L187.35,269.27 L187.6,272.6 L187.85,275.89 L188.1,279.11 L188.35,282.26 L188.6,285.34 L188.85,288.33 L189.1,291.24 L189.35,294.05 L189.6,296.76 L189.85,299.36 L190.1,301.86 L190.35,304.25 L190.6,306.52 L190.85,308.67 L191.1,310.7 L191.35,312.61 L191.6,314.4 L191.85,316.06 L192.1,317.61 L192.35,319.03 L192.6,320.32 L192.85,321.5 L193.1,322.56 L193.35,323.51 L193.6,324.34 L193.85,325.06 L194.1,325.68 L194.35,326.19 L194.6,326.61 L194.85,326.93 L195.1,327.17 L195.35,327.32 L195.6,327.39 L195.85,327.39 L196.1,327.32 L196.35,327.19 L196.6,327 L196.85,326.77 L197.1,326.48 L197.35,326.16 L197.6,325.81 L197.85,325.42 L198.1,325.02 L198.35,324.59 L198.6,324.16 L198.85,323.72 L199.1,323.27 L199.35,322.83 L199.6,322.4 L199.85,321.98 L200.1,321.57 L200.35,321.18 L200.6,320.82 L200.85,320.48 L201.1,320.16 L201.35,319.88 L201.6,319.64 L201.85,319.42 L202.1,319.25 L202.35,319.11 L202.6,319 L202.85,318.94 L203.1,318.92 L203.35,318.93 L203.6,318.98 L203.85,319.07 L204.1,319.2 L204.35,319.36 L204.6,319.55 L204.85,319.78 L205.1,320.04 L205.35,320.32 L205.6,320.63 L205.85,320.96 L206.1,321.31 L206.35,321.67 L206.6,322.05 L206.85,322.44 L207.1,322.84 L207.35,323.24 L207.6,323.64 L207.85,324.04 L208.1,324.43 L208.35,324.81 L208.6,325.17 L208.85,325.52 L209.1,325.85 L209.35,326.16 L209.6,326.43 L209.85,326.68 L210.1,326.9 L210.35,327.08 L210.6,327.22 L210.85,327.33 L211.1,327.38 L211.35,327.4 L211.6,327.37 L211.85,327.29 L212.1,327.15 L212.35,326.97 L212.6,326.74 L212.85,326.45 L213.1,326.1 L213.35,325.71 L213.6,325.25 L213.85,324.75 L214.1,324.18 L214.35,323.57 L214.6,322.9 L214.85,322.18 L215.1,321.4 L215.35,320.58 L215.6,319.7 L215.85,318.78 L216.1,317.81 L216.35,316.8 L216.6,315.75 L216.85,314.66 L217.1,313.53 L217.35,312.36 L217.6,311.17 L217.85,309.94 L218.1,308.69 L218.35,307.42 L218.6,306.12 L218.85,304.81 L219.1,303.48 L219.35,302.14 L219.6,300.8 L219.85,299.44 L220.1,298.09 L220.35,296.73 L220.6,295.39 L220.85,294.04 L221.1,292.71 L221.35,291.39 L221.6,290.09 L221.85,288.8 L222.1,287.54 L222.35,286.3 L222.6,285.09 L222.85,283.91 L223.1,282.75 L223.35,281.64 L223.6,280.56 L223.85,279.51 L224.1,278.51 L224.35,277.55 L224.6,276.63 L224.85,275.75 L225.1,274.92 L225.35,274.14 L225.6,273.41 L225.85,272.73 L226.1,272.1 L226.35,271.51 L226.6,270.98 L226.85,270.5 L227.1,270.08 L227.35,269.7 L227.6,269.38 L227.85,269.11 L228.1,268.89 L228.35,268.73 L228.6,268.61 L228.85,268.55 L229.1,268.53 L229.35,268.57 L229.6,268.65 L229.85,268.78 L230.1,268.96 L230.35,269.18 L230.6,269.44 L230.85,269.75 L231.1,270.1 L231.35,270.5 L231.6,270.93 L231.85,271.39 L232.1,271.9 L232.35,272.44 L232.6,273.01 L232.85,273.61 L233.1,274.24 L233.35,274.9 L233.6,275.59 L233.85,276.3 L234.1,277.04 L234.35,277.8 L234.6,278.57 L234.85,279.37 L235.1,280.18 L235.35,281.01 L235.6,281.85 L235.85,282.7 L236.1,283.57 L236.35,284.44 L236.6,285.32 L236.85,286.21 L237.1,287.1 L237.35,288 L237.6,288.89 L237.85,289.79 L238.1,290.69 L238.35,291.59 L238.6,292.48 L238.85,293.38 L239.1,294.26 L239.35,295.15 L239.6,296.02 L239.85,296.89 L240.1,297.75 L240.35,298.6 L240.6,299.44 L240.85,300.27 L241.1,301.09 L241.35,301.9 L241.6,302.7 L241.85,303.48 L242.1,304.25 L242.35,305.01 L242.6,305.75 L242.85,306.48 L243.1,307.2 L243.35,307.9 L243.6,308.58 L243.85,309.25 L244.1,309.91 L244.35,310.55 L244.6,311.17 L244.85,311.78 L245.1,312.37 L245.35,312.95 L245.6,313.51 L245.85,314.05 L246.1,314.58 L246.35,315.1 L246.6,315.6 L246.85,316.08 L247.1,316.55 L247.35,317.01 L247.6,317.45 L247.85,317.88 L248.1,318.29 L248.35,318.69 L248.6,319.07 L248.85,319.44 L249.1,319.8 L249.35,320.14 L249.6,320.48 L249.85,320.8 L250.1,321.1 L250.35,321.4 L250.6,321.69 L250.85,321.96 L251.1,322.22 L251.35,322.47 L251.6,322.72 L251.85,322.95 L252.1,323.17 L252.35,323.38 L252.6,323.59 L252.85,323.78 L253.1,323.97 L253.35,324.15 L253.6,324.32 L253.85,324.48 L254.1,324.63 L254.35,324.78 L254.6,324.92 L254.85,325.06 L255.1,325.19 L255.35,325.31 L255.6,325.42 L255.85,325.53 L256.1,325.64 L256.35,325.74 L256.6,325.83 L256.85,325.92 L257.1,326.01 L257.35,326.09 L257.6,326.17 L257.85,326.24 L258.1,326.31 L258.35,326.37 L258.6,326.43 L258.85,326.49 L259.1,326.55 L259.35,326.6 L259.6,326.65 L259.85,326.7 L260.1,326.74 L260.35,326.78 L260.6,326.82 L260.85,326.86 L261.1,326.89 L261.35,326.92 L261.6,326.95 L261.85,326.98 L262.1,327.01 L262.35,327.04 L262.6,327.06 L262.85,327.08 L263.1,327.1 L263.35,327.12 L263.6,327.14 L263.85,327.16 L264.1,327.18 L264.35,327.19 L264.6,327.21 L264.85,327.22 L265.1,327.23 L265.35,327.24 L265.6,327.25 L265.85,327.26 L266.1,327.27 L266.35,327.28 L266.6,327.29 L266.85,327.3 L267.1,327.31 L267.35,327.31 L267.6,327.32 L267.85,327.33 L268.1,327.33 L268.35,327.34 L268.6,327.34 L268.85,327.35 L269.1,327.35 L269.35,327.35 L269.6,327.36 L269.85,327.36 L270.1,327.36 L270.35,327.37 L270.6,327.37 L270.85,327.37 L271.1,327.37 L271.35,327.38 L271.6,327.38 L271.85,327.38 L272.1,327.38 L272.35,327.38 L272.6,327.38 L272.85,327.38 L273.1,327.39 L273.35,327.39 L273.6,327.39 L273.85,327.39 L274.1,327.39 L274.35,327.39 L274.6,327.39 L274.85,327.39 L275.1,327.39 L275.35,327.39 L275.6,327.39 L275.85,327.39 L276.1,327.4 L276.35,327.4 L276.6,327.4 L276.85,327.4 L277.1,327.4 L277.35,327.4 L277.6,327.4 L277.85,327.4 L278.1,327.4 L278.35,327.4 L278.6,327.4 L278.85,327.4 L279.1,327.4 L279.35,327.4 L279.6,327.4 L279.85,327.4 L280.1,327.4 L280.35,327.4 L280.6,327.4 L280.85,327.4 L281.1,327.4 L281.35,327.4 L281.6,327.4 L281.85,327.4 L282.1,327.4 L282.35,327.4 L282.6,327.4 L282.85,327.4 L283.1,327.4 L283.35,327.4" stroke="#3f30ff" stroke-width="1.2"/>
<path d="M57.35,327.4 L57.6,327.4 L57.85,327.4 L58.1,327.4 L58.35,327.4 L58.6,327.4 L58.85,327.4 L59.1,327.4 L59.35,327.4 L59.6,327.4 L59.85,327.4 L60.1,327.4 L60.35,327.4 L60.6,327.4 L60.85,327.4 L61.1,327.4 L61.35,327.39 L61.6,327.39 L61.85,327.39 L62.1,327.39 L62.35,327.39 L62.6,327.39 L62.85,327.39 L63.1,327.39 L63.35,327.39 L63.6,327.39 L63.85,327.39 L64.1,327.38 L64.35,327.38 L64.6,327.38 L64.85,327.38 L65.1,327.38 L65.35,327.38 L65.6,327.37 L65.85,327.37 L66.1,327.37 L66.35,327.37 L66.6,327.36 L66.85,327.36 L67.1,327.36 L67.35,327.35 L67.6,327.35 L67.85,327.34 L68.1,327.34 L68.35,327.33 L68.6,327.33 L68.85,327.32 L69.1,327.31 L69.35,327.31 L69.6,327.3 L69.85,327.29 L70.1,327.28 L70.35,327.27 L70.6,327.26 L70.85,327.25 L71.1,327.24 L71.35,327.22 L71.6,327.21 L71.85,327.2 L72.1,327.18 L72.35,327.16 L72.6,327.14 L72.85,327.12 L73.1,327.1 L73.35,327.08 L73.6,327.05 L73.85,327.02 L74.1,327 L74.35,326.96 L74.6,326.93 L74.85,326.9 L75.1,326.86 L75.35,326.82 L75.6,326.78 L75.85,326.73 L76.1,326.68 L76.35,326.63 L76.6,326.57 L76.85,326.52 L77.1,326.45 L77.35,326.39 L77.6,326.32 L77.85,326.24 L78.1,326.16 L78.35,326.08 L78.6,325.99 L78.85,325.89 L79.1,325.79 L79.35,325.68 L79.6,325.57 L79.85,325.45 L80.1,325.32 L80.35,325.19 L80.6,325.05 L80.85,324.9 L81.1,324.74 L81.35,324.58 L81.6,324.4 L81.85,324.22 L82.1,324.02 L82.35,323.82 L82.6,323.61 L82.85,323.38 L83.1,323.15 L83.35,322.9 L83.6,322.64 L83.85,322.37 L84.1,322.08 L84.35,321.78 L84.6,321.47 L84.85,321.15 L85.1,320.81 L85.35,320.45 L85.6,320.08 L85.85,319.69 L86.1,319.29 L86.35,318.87 L86.6,318.44 L86.85,317.98 L87.1,317.51 L87.35,317.02 L87.6,316.52 L87.85,315.99 L88.1,315.45 L88.35,314.88 L88.6,314.3 L88.85,313.7 L89.1,313.08 L89.35,312.43 L89.6,311.77 L89.85,311.09 L90.1,310.39 L90.35,309.67 L90.6,308.92 L90.85,308.16 L91.1,307.38 L91.35,306.58 L91.6,305.76 L91.85,304.92 L92.1,304.07 L92.35,303.19 L92.6,302.3 L92.85,301.39 L93.1,300.47 L93.35,299.53 L93.6,298.58 L93.85,297.61 L94.1,296.63 L94.35,295.64 L94.6,294.64 L94.85,293.63 L95.1,292.61 L95.35,291.58 L95.6,290.55 L95.85,289.51 L96.1,288.48 L96.35,287.44 L96.6,286.41 L96.85,285.37 L97.1,284.35 L97.35,283.32 L97.6,282.31 L97.85,281.31 L98.1,280.33 L98.35,279.36 L98.6,278.4 L98.85,277.47 L99.1,276.56 L99.35,275.67 L99.6,274.81 L99.85,273.98 L100.1,273.18 L100.35,272.42 L100.6,271.69 L100.85,271.01 L101.1,270.36 L101.35,269.76 L101.6,269.2 L101.85,268.7 L102.1,268.24 L102.35,267.84 L102.6,267.49 L102.85,267.2 L103.1,266.96 L103.35,266.79 L103.6,266.68 L103.85,266.64 L104.1,266.66 L104.35,266.74 L104.6,266.9 L104.85,267.12 L105.1,267.41 L105.35,267.77 L105.6,268.2 L105.85,268.7 L106.1,269.27 L106.35,269.91 L106.6,270.62 L106.85,271.4 L107.1,272.25 L107.35,273.16 L107.6,274.14 L107.85,275.18 L108.1,276.28 L108.35,277.44 L108.6,278.65 L108.85,279.92 L109.1,281.24 L109.35,282.61 L109.6,284.02 L109.85,285.47 L110.1,286.96 L110.35,288.49 L110.6,290.04 L110.85,291.61 L111.1,293.21 L111.35,294.82 L111.6,296.44 L111.85,298.07 L112.1,299.7 L112.35,301.32 L112.6,302.94 L112.85,304.54 L113.1,306.12 L113.35,307.68 L113.6,309.21 L113.85,310.7 L114.1,312.16 L114.35,313.57 L114.6,314.93 L114.85,316.24 L115.1,317.49 L115.35,318.68 L115.6,319.81 L115.85,320.87 L116.1,321.85 L116.35,322.76 L116.6,323.6 L116.85,324.35 L117.1,325.03 L117.35,325.62 L117.6,326.13 L117.85,326.55 L118.1,326.89 L118.35,327.14 L118.6,327.31 L118.85,327.39 L119.1,327.39 L119.35,327.31 L119.6,327.15 L119.85,326.92 L120.1,326.62 L120.35,326.24 L120.6,325.8 L120.85,325.3 L121.1,324.74 L121.35,324.12 L121.6,323.47 L121.85,322.76 L122.1,322.03 L122.35,321.26 L122.6,320.46 L122.85,319.65 L123.1,318.83 L123.35,318 L123.6,317.17 L123.85,316.34 L124.1,315.53 L124.35,314.73 L124.6,313.97 L124.85,313.23 L125.1,312.52 L125.35,311.86 L125.6,311.24 L125.85,310.68 L126.1,310.17 L126.35,309.72 L126.6,309.33 L126.85,309.01 L127.1,308.75 L127.35,308.57 L127.6,308.46 L127.85,308.42 L128.1,308.46 L128.35,308.56 L128.6,308.75 L128.85,309 L129.1,309.32 L129.35,309.71 L129.6,310.17 L129.85,310.69 L130.1,311.26 L130.35,311.89 L130.6,312.57 L130.85,313.29 L131.1,314.05 L131.35,314.84 L131.6,315.65 L131.85,316.49 L132.1,317.34 L132.35,318.19 L132.6,319.05 L132.85,319.89 L133.1,320.72 L133.35,321.53 L133.6,322.31 L133.85,323.05 L134.1,323.76 L134.35,324.41 L134.6,325.02 L134.85,325.56 L135.1,326.04 L135.35,326.46 L135.6,326.8 L135.85,327.07 L136.1,327.26 L136.35,327.37 L136.6,327.4 L136.85,327.35 L137.1,327.22 L137.35,327 L137.6,326.71 L137.85,326.34 L138.1,325.9 L138.35,325.38 L138.6,324.8 L138.85,324.16 L139.1,323.46 L139.35,322.71 L139.6,321.92 L139.85,321.09 L140.1,320.24 L140.35,319.36 L140.6,318.47 L140.85,317.57 L141.1,316.67 L141.35,315.79 L141.6,314.93 L141.85,314.1 L142.1,313.3 L142.35,312.55 L142.6,311.85 L142.85,311.21 L143.1,310.64 L143.35,310.14 L143.6,309.72 L143.85,309.38 L144.1,309.13 L144.35,308.97 L144.6,308.9 L144.85,308.93 L145.1,309.06 L145.35,309.28 L145.6,309.6 L145.85,310.01 L146.1,310.51 L146.35,311.09 L146.6,311.76 L146.85,312.5 L147.1,313.31 L147.35,314.17 L147.6,315.09 L147.85,316.04 L148.1,317.03 L148.35,318.04 L148.6,319.06 L148.85,320.07 L149.1,321.07 L149.35,322.03 L149.6,322.96 L149.85,323.83 L150.1,324.64 L150.35,325.37 L150.6,326 L150.85,326.53 L151.1,326.94 L151.35,327.23 L151.6,327.38 L151.85,327.38 L152.1,327.23 L152.35,326.91 L152.6,326.43 L152.85,325.77 L153.1,324.93 L153.35,323.91 L153.6,322.7 L153.85,321.31 L154.1,319.74 L154.35,317.99 L154.6,316.06 L154.85,313.97 L155.1,311.71 L155.35,309.29 L155.6,306.74 L155.85,304.04 L156.1,301.23 L156.35,298.31 L156.6,295.29 L156.85,292.2 L157.1,289.05 L157.35,285.85 L157.6,282.63 L157.85,279.4 L158.1,276.18 L158.35,272.99 L158.6,269.85 L158.85,266.78 L159.1,263.8 L159.35,260.92 L159.6,258.17 L159.85,255.57 L160.1,253.12 L160.35,250.84 L160.6,248.76 L160.85,246.88 L161.1,245.21 L161.35,243.77 L161.6,242.57 L161.85,241.61 L162.1,240.91 L162.35,240.46 L162.6,240.27 L162.85,240.34 L163.1,240.67 L163.35,241.26 L163.6,242.1 L163.85,243.2 L164.1,244.53 L164.35,246.1 L164.6,247.89 L164.85,249.89 L165.1,252.09 L165.35,254.47 L165.6,257.02 L165.85,259.72 L166.1,262.55 L166.35,265.5 L166.6,268.55 L166.85,271.67 L167.1,274.85 L167.35,278.07 L167.6,281.31 L167.85,284.54 L168.1,287.76 L168.35,290.94 L168.6,294.06 L168.85,297.11 L169.1,300.06 L169.35,302.92 L169.6,305.65 L169.85,308.25 L170.1,310.71 L170.35,313.02 L170.6,315.16 L170.85,317.14 L171.1,318.94 L171.35,320.57 L171.6,322.02 L171.85,323.28 L172.1,324.37 L172.35,325.28 L172.6,326.02 L172.85,326.59 L173.1,327.01 L173.35,327.27 L173.6,327.39 L173.85,327.38 L174.1,327.25 L174.35,327 L174.6,326.67 L174.85,326.25 L175.1,325.76 L175.35,325.22 L175.6,324.63 L175.85,324.02 L176.1,323.39 L176.35,322.77 L176.6,322.15 L176.85,321.56 L177.1,321 L177.35,320.49 L177.6,320.03 L177.85,319.63 L178.1,319.3 L178.35,319.05 L178.6,318.88 L178.85,318.78 L179.1,318.78 L179.35,318.85 L179.6,319.01 L179.85,319.25 L180.1,319.56 L180.35,319.94 L180.6,320.39 L180.85,320.89 L181.1,321.44 L181.35,322.03 L181.6,322.64 L181.85,323.27 L182.1,323.9 L182.35,324.51 L182.6,325.1 L182.85,325.66 L183.1,326.16 L183.35,326.59 L183.6,326.94 L183.85,327.21 L184.1,327.36 L184.35,327.4 L184.6,327.3 L184.85,327.07 L185.1,326.69 L185.35,326.15 L185.6,325.44 L185.85,324.57 L186.1,323.51 L186.35,322.28 L186.6,320.87 L186.85,319.28 L187.1,317.52 L187.35,315.57 L187.6,313.46 L187.85,311.19 L188.1,308.76 L188.35,306.18 L188.6,303.47 L188.85,300.64 L189.1,297.71 L189.35,294.67 L189.6,291.57 L189.85,288.4 L190.1,285.19 L190.35,281.95 L190.6,278.72 L190.85,275.49 L191.1,272.3 L191.35,269.17 L191.6,266.1 L191.85,263.13 L192.1,260.28 L192.35,257.55 L192.6,254.97 L192.85,252.55 L193.1,250.31 L193.35,248.27 L193.6,246.44 L193.85,244.83 L194.1,243.44 L194.35,242.3 L194.6,241.41 L194.85,240.77 L195.1,240.39 L195.35,240.26 L195.6,240.4 L195.85,240.8 L196.1,241.45 L196.35,242.36 L196.6,243.51 L196.85,244.9 L197.1,246.53 L197.35,248.36 L197.6,250.41 L197.85,252.65 L198.1,255.06 L198.35,257.64 L198.6,260.36 L198.85,263.22 L199.1,266.18 L199.35,269.23 L199.6,272.36 L199.85,275.54 L200.1,278.75 L200.35,281.98 L200.6,285.21 L200.85,288.41 L201.1,291.57 L201.35,294.68 L201.6,297.71 L201.85,300.65 L202.1,303.49 L202.35,306.21 L202.6,308.79 L202.85,311.24 L203.1,313.53 L203.35,315.66 L203.6,317.62 L203.85,319.41 L204.1,321.01 L204.35,322.44 L204.6,323.68 L204.85,324.74 L205.1,325.62 L205.35,326.31 L205.6,326.83 L205.85,327.18 L206.1,327.36 L206.35,327.39 L206.6,327.27 L206.85,327.01 L207.1,326.62 L207.35,326.11 L207.6,325.5 L207.85,324.79 L208.1,324 L208.35,323.14 L208.6,322.22 L208.85,321.26 L209.1,320.27 L209.35,319.26 L209.6,318.24 L209.85,317.23 L210.1,316.24 L210.35,315.28 L210.6,314.35 L210.85,313.47 L211.1,312.66 L211.35,311.9 L211.6,311.22 L211.85,310.62 L212.1,310.1 L212.35,309.67 L212.6,309.34 L212.85,309.1 L213.1,308.95 L213.35,308.9 L213.6,308.95 L213.85,309.09 L214.1,309.32 L214.35,309.64 L214.6,310.05 L214.85,310.53 L215.1,311.09 L215.35,311.72 L215.6,312.4 L215.85,313.15 L216.1,313.93 L216.35,314.76 L216.6,315.62 L216.85,316.5 L217.1,317.39 L217.35,318.29 L217.6,319.18 L217.85,320.06 L218.1,320.92 L218.35,321.76 L218.6,322.56 L218.85,323.32 L219.1,324.03 L219.35,324.68 L219.6,325.27 L219.85,325.8 L220.1,326.26 L220.35,326.64 L220.6,326.95 L220.85,327.18 L221.1,327.33 L221.35,327.4 L221.6,327.38 L221.85,327.29 L222.1,327.11 L222.35,326.86 L222.6,326.53 L222.85,326.13 L223.1,325.66 L223.35,325.13 L223.6,324.54 L223.85,323.89 L224.1,323.2 L224.35,322.46 L224.6,321.69 L224.85,320.88 L225.1,320.06 L225.35,319.22 L225.6,318.36 L225.85,317.51 L226.1,316.66 L226.35,315.82 L226.6,315 L226.85,314.2 L227.1,313.44 L227.35,312.71 L227.6,312.02 L227.85,311.38 L228.1,310.8 L228.35,310.27 L228.6,309.8 L228.85,309.4 L229.1,309.06 L229.35,308.79 L229.6,308.6 L229.85,308.47 L230.1,308.42 L230.35,308.45 L230.6,308.54 L230.85,308.71 L231.1,308.95 L231.35,309.26 L231.6,309.64 L231.85,310.07 L232.1,310.57 L232.35,311.13 L232.6,311.73 L232.85,312.39 L233.1,313.08 L233.35,313.81 L233.6,314.58 L233.85,315.37 L234.1,316.18 L234.35,317 L234.6,317.83 L234.85,318.66 L235.1,319.49 L235.35,320.3 L235.6,321.1 L235.85,321.87 L236.1,322.62 L236.35,323.33 L236.6,324 L236.85,324.62 L237.1,325.19 L237.35,325.7 L237.6,326.16 L237.85,326.55 L238.1,326.87 L238.35,327.11 L238.6,327.29 L238.85,327.38 L239.1,327.4 L239.35,327.33 L239.6,327.18 L239.85,326.94 L240.1,326.62 L240.35,326.22 L240.6,325.73 L240.85,325.15 L241.1,324.5 L241.35,323.76 L241.6,322.94 L241.85,322.04 L242.1,321.07 L242.35,320.02 L242.6,318.91 L242.85,317.73 L243.1,316.49 L243.35,315.19 L243.6,313.84 L243.85,312.44 L244.1,311 L244.35,309.51 L244.6,307.99 L244.85,306.44 L245.1,304.86 L245.35,303.26 L245.6,301.65 L245.85,300.03 L246.1,298.4 L246.35,296.77 L246.6,295.15 L246.85,293.53 L247.1,291.93 L247.35,290.35 L247.6,288.79 L247.85,287.27 L248.1,285.77 L248.35,284.31 L248.6,282.89 L248.85,281.51 L249.1,280.18 L249.35,278.9 L249.6,277.67 L249.85,276.5 L250.1,275.39 L250.35,274.34 L250.6,273.35 L250.85,272.42 L251.1,271.57 L251.35,270.77 L251.6,270.05 L251.85,269.4 L252.1,268.81 L252.35,268.3 L252.6,267.85 L252.85,267.48 L253.1,267.17 L253.35,266.94 L253.6,266.77 L253.85,266.67 L254.1,266.64 L254.35,266.67 L254.6,266.77 L254.85,266.92 L255.1,267.14 L255.35,267.42 L255.6,267.76 L255.85,268.15 L256.1,268.6 L256.35,269.1 L256.6,269.64 L256.85,270.24 L257.1,270.87 L257.35,271.55 L257.6,272.27 L257.85,273.03 L258.1,273.82 L258.35,274.64 L258.6,275.5 L258.85,276.38 L259.1,277.28 L259.35,278.21 L259.6,279.16 L259.85,280.13 L260.1,281.11 L260.35,282.11 L260.6,283.12 L260.85,284.14 L261.1,285.17 L261.35,286.2 L261.6,287.23 L261.85,288.27 L262.1,289.31 L262.35,290.34 L262.6,291.37 L262.85,292.4 L263.1,293.42 L263.35,294.43 L263.6,295.44 L263.85,296.43 L264.1,297.41 L264.35,298.38 L264.6,299.34 L264.85,300.28 L265.1,301.21 L265.35,302.12 L265.6,303.02 L265.85,303.89 L266.1,304.75 L266.35,305.6 L266.6,306.42 L266.85,307.22 L267.1,308.01 L267.35,308.77 L267.6,309.52 L267.85,310.25 L268.1,310.95 L268.35,311.64 L268.6,312.3 L268.85,312.95 L269.1,313.57 L269.35,314.18 L269.6,314.77 L269.85,315.34 L270.1,315.88 L270.35,316.41 L270.6,316.92 L270.85,317.42 L271.1,317.89 L271.35,318.35 L271.6,318.79 L271.85,319.21 L272.1,319.62 L272.35,320.01 L272.6,320.38 L272.85,320.74 L273.1,321.08 L273.35,321.41 L273.6,321.72 L273.85,322.02 L274.1,322.31 L274.35,322.59 L274.6,322.85 L274.85,323.1 L275.1,323.34 L275.35,323.56 L275.6,323.78 L275.85,323.98 L276.1,324.18 L276.35,324.37 L276.6,324.54 L276.85,324.71 L277.1,324.87 L277.35,325.02 L277.6,325.16 L277.85,325.3 L278.1,325.43 L278.35,325.55 L278.6,325.66 L278.85,325.77 L279.1,325.87 L279.35,325.97 L279.6,326.06 L279.85,326.14 L280.1,326.22 L280.35,326.3 L280.6,326.37 L280.85,326.44 L281.1,326.5 L281.35,326.56 L281.6,326.62 L281.85,326.67 L282.1,326.72 L282.35,326.77 L282.6,326.81 L282.85,326.85 L283.1,326.89 L283.35,326.93 L283.6,326.96 L283.85,326.99 L284.1,327.02 L284.35,327.05 L284.6,327.07 L284.85,327.1 L285.1,327.12 L285.35,327.14 L285.6,327.16 L285.85,327.18 L286.1,327.19 L286.35,327.21 L286.6,327.22 L286.85,327.24 L287.1,327.25 L287.35,327.26 L287.6,327.27 L287.85,327.28 L288.1,327.29 L288.35,327.3 L288.6,327.31 L288.85,327.31 L289.1,327.32 L289.35,327.33 L289.6,327.33 L289.85,327.34 L290.1,327.34 L290.35,327.35 L290.6,327.35 L290.85,327.36 L291.1,327.36 L291.35,327.36 L291.6,327.37 L291.85,327.37 L292.1,327.37 L292.35,327.37 L292.6,327.38 L292.85,327.38 L293.1,327.38 L293.35,327.38 L293.6,327.38 L293.85,327.38 L294.1,327.39 L294.35,327.39 L294.6,327.39 L294.85,327.39 L295.1,327.39 L295.35,327.39 L295.6,327.39 L295.85,327.39 L296.1,327.39 L296.35,327.39 L296.6,327.39 L296.85,327.39 L297.1,327.4 L297.35,327.4 L297.6,327.4 L297.85,327.4 L298.1,327.4 L298.35,327.4 L298.6,327.4 L298.85,327.4 L299.1,327.4 L299.35,327.4 L299.6,327.4 L299.85,327.4 L300.1,327.4 L300.35,327.4 L300.6,327.4" stroke="#d82a35" stroke-width="1.2"/>
<path d="M45.35,327.39 L45.6,327.39 L45.85,327.39 L46.1,327.39 L46.35,327.39 L46.6,327.39 L46.85,327.39 L47.1,327.39 L47.35,327.38 L47.6,327.38 L47.85,327.38 L48.1,327.38 L48.35,327.38 L48.6,327.37 L48.85,327.37 L49.1,327.37 L49.35,327.37 L49.6,327.36 L49.85,327.36 L50.1,327.36 L50.35,327.35 L50.6,327.35 L50.85,327.34 L51.1,327.34 L51.35,327.33 L51.6,327.33 L51.85,327.32 L52.1,327.31 L52.35,327.3 L52.6,327.3 L52.85,327.29 L53.1,327.28 L53.35,327.27 L53.6,327.25 L53.85,327.24 L54.1,327.23 L54.35,327.21 L54.6,327.2 L54.85,327.18 L55.1,327.16 L55.35,327.14 L55.6,327.12 L55.85,327.1 L56.1,327.07 L56.35,327.04 L56.6,327.01 L56.85,326.98 L57.1,326.95 L57.35,326.91 L57.6,326.88 L57.85,326.83 L58.1,326.79 L58.35,326.74 L58.6,326.69 L58.85,326.64 L59.1,326.58 L59.35,326.52 L59.6,326.45 L59.85,326.38 L60.1,326.31 L60.35,326.23 L60.6,326.14 L60.85,326.05 L61.1,325.95 L61.35,325.85 L61.6,325.74 L61.85,325.62 L62.1,325.5 L62.35,325.37 L62.6,325.23 L62.85,325.08 L63.1,324.93 L63.35,324.76 L63.6,324.59 L63.85,324.4 L64.1,324.21 L64.35,324 L64.6,323.79 L64.85,323.56 L65.1,323.32 L65.35,323.06 L65.6,322.8 L65.85,322.52 L66.1,322.22 L66.35,321.91 L66.6,321.59 L66.85,321.25 L67.1,320.89 L67.35,320.52 L67.6,320.13 L67.85,319.72 L68.1,319.3 L68.35,318.85 L68.6,318.39 L68.85,317.91 L69.1,317.41 L69.35,316.89 L69.6,316.34 L69.85,315.78 L70.1,315.19 L70.35,314.59 L70.6,313.96 L70.85,313.31 L71.1,312.64 L71.35,311.95 L71.6,311.23 L71.85,310.49 L72.1,309.73 L72.35,308.95 L72.6,308.14 L72.85,307.32 L73.1,306.47 L73.35,305.6 L73.6,304.71 L73.85,303.81 L74.1,302.88 L74.35,301.93 L74.6,300.97 L74.85,299.99 L75.1,298.99 L75.35,297.98 L75.6,296.95 L75.85,295.91 L76.1,294.86 L76.35,293.81 L76.6,292.74 L76.85,291.67 L77.1,290.59 L77.35,289.51 L77.6,288.43 L77.85,287.35 L78.1,286.28 L78.35,285.21 L78.6,284.15 L78.85,283.1 L79.1,282.07 L79.35,281.05 L79.6,280.05 L79.85,279.07 L80.1,278.12 L80.35,277.19 L80.6,276.29 L80.85,275.43 L81.1,274.6 L81.35,273.81 L81.6,273.06 L81.85,272.36 L82.1,271.71 L82.35,271.1 L82.6,270.55 L82.85,270.06 L83.1,269.63 L83.35,269.25 L83.6,268.94 L83.85,268.7 L84.1,268.53 L84.35,268.43 L84.6,268.4 L84.85,268.44 L85.1,268.56 L85.35,268.76 L85.6,269.03 L85.85,269.39 L86.1,269.82 L86.35,270.34 L86.6,270.93 L86.85,271.61 L87.1,272.36 L87.35,273.2 L87.6,274.11 L87.85,275.09 L88.1,276.15 L88.35,277.29 L88.6,278.49 L88.85,279.76 L89.1,281.09 L89.35,282.48 L89.6,283.93 L89.85,285.43 L90.1,286.98 L90.35,288.57 L90.6,290.2 L90.85,291.86 L91.1,293.55 L91.35,295.26 L91.6,296.99 L91.85,298.72 L92.1,300.46 L92.35,302.2 L92.6,303.93 L92.85,305.64 L93.1,307.32 L93.35,308.98 L93.6,310.61 L93.85,312.19 L94.1,313.72 L94.35,315.2 L94.6,316.62 L94.85,317.97 L95.1,319.25 L95.35,320.45 L95.6,321.56 L95.85,322.59 L96.1,323.53 L96.35,324.37 L96.6,325.12 L96.85,325.76 L97.1,326.3 L97.35,326.73 L97.6,327.06 L97.85,327.28 L98.1,327.39 L98.35,327.39 L98.6,327.28 L98.85,327.08 L99.1,326.76 L99.35,326.35 L99.6,325.85 L99.85,325.25 L100.1,324.57 L100.35,323.8 L100.6,322.96 L100.85,322.05 L101.1,321.07 L101.35,320.04 L101.6,318.97 L101.85,317.85 L102.1,316.7 L102.35,315.53 L102.6,314.34 L102.85,313.15 L103.1,311.96 L103.35,310.78 L103.6,309.62 L103.85,308.49 L104.1,307.4 L104.35,306.36 L104.6,305.37 L104.85,304.44 L105.1,303.58 L105.35,302.79 L105.6,302.09 L105.85,301.48 L106.1,300.95 L106.35,300.53 L106.6,300.2 L106.85,299.97 L107.1,299.85 L107.35,299.84 L107.6,299.93 L107.85,300.13 L108.1,300.43 L108.35,300.84 L108.6,301.34 L108.85,301.94 L109.1,302.63 L109.35,303.41 L109.6,304.26 L109.85,305.19 L110.1,306.19 L110.35,307.24 L110.6,308.34 L110.85,309.48 L111.1,310.66 L111.35,311.86 L111.6,313.07 L111.85,314.28 L112.1,315.49 L112.35,316.68 L112.6,317.85 L112.85,318.98 L113.1,320.07 L113.35,321.11 L113.6,322.09 L113.85,323 L114.1,323.84 L114.35,324.6 L114.6,325.28 L114.85,325.87 L115.1,326.36 L115.35,326.76 L115.6,327.06 L115.85,327.27 L116.1,327.38 L116.35,327.39 L116.6,327.31 L116.85,327.14 L117.1,326.89 L117.35,326.55 L117.6,326.14 L117.85,325.66 L118.1,325.12 L118.35,324.52 L118.6,323.88 L118.85,323.21 L119.1,322.5 L119.35,321.78 L119.6,321.06 L119.85,320.33 L120.1,319.62 L120.35,318.93 L120.6,318.27 L120.85,317.65 L121.1,317.08 L121.35,316.57 L121.6,316.12 L121.85,315.74 L122.1,315.43 L122.35,315.2 L122.6,315.06 L122.85,315 L123.1,315.03 L123.35,315.15 L123.6,315.35 L123.85,315.63 L124.1,316 L124.35,316.44 L124.6,316.95 L124.85,317.52 L125.1,318.15 L125.35,318.83 L125.6,319.55 L125.85,320.29 L126.1,321.05 L126.35,321.82 L126.6,322.58 L126.85,323.33 L127.1,324.05 L127.35,324.72 L127.6,325.34 L127.85,325.9 L128.1,326.39 L128.35,326.79 L128.6,327.1 L128.85,327.3 L129.1,327.39 L129.35,327.37 L129.6,327.23 L129.85,326.96 L130.1,326.57 L130.35,326.04 L130.6,325.39 L130.85,324.62 L131.1,323.72 L131.35,322.71 L131.6,321.59 L131.85,320.37 L132.1,319.06 L132.35,317.67 L132.6,316.21 L132.85,314.7 L133.1,313.15 L133.35,311.57 L133.6,309.98 L133.85,308.41 L134.1,306.85 L134.35,305.34 L134.6,303.89 L134.85,302.51 L135.1,301.21 L135.35,300.03 L135.6,298.96 L135.85,298.03 L136.1,297.23 L136.35,296.6 L136.6,296.13 L136.85,295.82 L137.1,295.7 L137.35,295.75 L137.6,295.98 L137.85,296.4 L138.1,296.99 L138.35,297.75 L138.6,298.68 L138.85,299.76 L139.1,300.99 L139.35,302.35 L139.6,303.82 L139.85,305.4 L140.1,307.06 L140.35,308.78 L140.6,310.54 L140.85,312.32 L141.1,314.1 L141.35,315.86 L141.6,317.56 L141.85,319.2 L142.1,320.75 L142.35,322.18 L142.6,323.47 L142.85,324.61 L143.1,325.58 L143.35,326.35 L143.6,326.93 L143.85,327.28 L144.1,327.4 L144.35,327.29 L144.6,326.93 L144.85,326.32 L145.1,325.47 L145.35,324.37 L145.6,323.03 L145.85,321.46 L146.1,319.67 L146.35,317.66 L146.6,315.47 L146.85,313.09 L147.1,310.56 L147.35,307.89 L147.6,305.11 L147.85,302.25 L148.1,299.33 L148.35,296.37 L148.6,293.4 L148.85,290.47 L149.1,287.58 L149.35,284.77 L149.6,282.07 L149.85,279.5 L150.1,277.09 L150.35,274.86 L150.6,272.84 L150.85,271.05 L151.1,269.49 L151.35,268.2 L151.6,267.17 L151.85,266.43 L152.1,265.97 L152.35,265.8 L152.6,265.93 L152.85,266.35 L153.1,267.05 L153.35,268.03 L153.6,269.28 L153.85,270.79 L154.1,272.53 L154.35,274.49 L154.6,276.65 L154.85,278.99 L155.1,281.48 L155.35,284.1 L155.6,286.83 L155.85,289.63 L156.1,292.48 L156.35,295.35 L156.6,298.21 L156.85,301.05 L157.1,303.83 L157.35,306.53 L157.6,309.12 L157.85,311.6 L158.1,313.93 L158.35,316.1 L158.6,318.11 L158.85,319.92 L159.1,321.55 L159.35,322.97 L159.6,324.19 L159.85,325.21 L160.1,326.03 L160.35,326.65 L160.6,327.08 L160.85,327.32 L161.1,327.4 L161.35,327.32 L161.6,327.1 L161.85,326.75 L162.1,326.3 L162.35,325.76 L162.6,325.15 L162.85,324.49 L163.1,323.8 L163.35,323.1 L163.6,322.4 L163.85,321.74 L164.1,321.11 L164.35,320.54 L164.6,320.05 L164.85,319.64 L165.1,319.32 L165.35,319.09 L165.6,318.98 L165.85,318.97 L166.1,319.07 L166.35,319.28 L166.6,319.58 L166.85,319.98 L167.1,320.47 L167.35,321.02 L167.6,321.64 L167.85,322.31 L168.1,323 L168.35,323.7 L168.6,324.39 L168.85,325.06 L169.1,325.68 L169.35,326.24 L169.6,326.7 L169.85,327.06 L170.1,327.3 L170.35,327.4 L170.6,327.34 L170.85,327.11 L171.1,326.7 L171.35,326.1 L171.6,325.3 L171.85,324.3 L172.1,323.09 L172.35,321.68 L172.6,320.07 L172.85,318.26 L173.1,316.27 L173.35,314.11 L173.6,311.79 L173.85,309.33 L174.1,306.74 L174.35,304.06 L174.6,301.29 L174.85,298.48 L175.1,295.63 L175.35,292.79 L175.6,289.97 L175.85,287.21 L176.1,284.52 L176.35,281.95 L176.6,279.51 L176.85,277.24 L177.1,275.14 L177.35,273.25 L177.6,271.59 L177.85,270.18 L178.1,269.02 L178.35,268.13 L178.6,267.52 L178.85,267.2 L179.1,267.17 L179.35,267.43 L179.6,267.98 L179.85,268.82 L180.1,269.92 L180.35,271.29 L180.6,272.9 L180.85,274.75 L181.1,276.8 L181.35,279.04 L181.6,281.45 L181.85,284 L182.1,286.66 L182.35,289.41 L182.6,292.22 L182.85,295.06 L183.1,297.91 L183.35,300.73 L183.6,303.51 L183.85,306.21 L184.1,308.82 L184.35,311.31 L184.6,313.66 L184.85,315.86 L185.1,317.88 L185.35,319.72 L185.6,321.37 L185.85,322.83 L186.1,324.07 L186.35,325.12 L186.6,325.96 L186.85,326.6 L187.1,327.04 L187.35,327.31 L187.6,327.4 L187.85,327.33 L188.1,327.12 L188.35,326.78 L188.6,326.34 L188.85,325.8 L189.1,325.19 L189.35,324.53 L189.6,323.84 L189.85,323.14 L190.1,322.44 L190.35,321.77 L190.6,321.14 L190.85,320.57 L191.1,320.07 L191.35,319.65 L191.6,319.33 L191.85,319.1 L192.1,318.98 L192.35,318.97 L192.6,319.06 L192.85,319.26 L193.1,319.56 L193.35,319.96 L193.6,320.44 L193.85,320.99 L194.1,321.61 L194.35,322.27 L194.6,322.96 L194.85,323.66 L195.1,324.35 L195.35,325.02 L195.6,325.64 L195.85,326.2 L196.1,326.67 L196.35,327.04 L196.6,327.29 L196.85,327.4 L197.1,327.35 L197.35,327.14 L197.6,326.75 L197.85,326.17 L198.1,325.39 L198.35,324.41 L198.6,323.23 L198.85,321.85 L199.1,320.26 L199.35,318.48 L199.6,316.52 L199.85,314.38 L200.1,312.08 L200.35,309.63 L200.6,307.06 L200.85,304.37 L201.1,301.61 L201.35,298.78 L201.6,295.92 L201.85,293.05 L202.1,290.19 L202.35,287.38 L202.6,284.64 L202.85,282 L203.1,279.48 L203.35,277.1 L203.6,274.91 L203.85,272.9 L204.1,271.12 L204.35,269.56 L204.6,268.26 L204.85,267.23 L205.1,266.46 L205.35,265.99 L205.6,265.8 L205.85,265.91 L206.1,266.31 L206.35,267 L206.6,267.97 L206.85,269.21 L207.1,270.72 L207.35,272.47 L207.6,274.44 L207.85,276.63 L208.1,279 L208.35,281.54 L208.6,284.22 L208.85,287.01 L209.1,289.88 L209.35,292.81 L209.6,295.77 L209.85,298.74 L210.1,301.67 L210.35,304.55 L210.6,307.35 L210.85,310.04 L211.1,312.6 L211.35,315 L211.6,317.24 L211.85,319.28 L212.1,321.12 L212.35,322.74 L212.6,324.12 L212.85,325.27 L213.1,326.17 L213.35,326.83 L213.6,327.23 L213.85,327.4 L214.1,327.32 L214.35,327.01 L214.6,326.49 L214.85,325.75 L215.1,324.82 L215.35,323.71 L215.6,322.45 L215.85,321.04 L216.1,319.52 L216.35,317.9 L216.6,316.2 L216.85,314.46 L217.1,312.68 L217.35,310.89 L217.6,309.13 L217.85,307.4 L218.1,305.73 L218.35,304.13 L218.6,302.63 L218.85,301.25 L219.1,299.99 L219.35,298.88 L219.6,297.92 L219.85,297.13 L220.1,296.5 L220.35,296.05 L220.6,295.78 L220.85,295.69 L221.1,295.78 L221.35,296.05 L221.6,296.49 L221.85,297.09 L222.1,297.86 L222.35,298.76 L222.6,299.81 L222.85,300.97 L223.1,302.24 L223.35,303.6 L223.6,305.05 L223.85,306.55 L224.1,308.09 L224.35,309.67 L224.6,311.25 L224.85,312.83 L225.1,314.39 L225.35,315.91 L225.6,317.38 L225.85,318.79 L226.1,320.12 L226.35,321.36 L226.6,322.5 L226.85,323.53 L227.1,324.45 L227.35,325.25 L227.6,325.92 L227.85,326.47 L228.1,326.89 L228.35,327.19 L228.6,327.35 L228.85,327.4 L229.1,327.33 L229.35,327.14 L229.6,326.86 L229.85,326.48 L230.1,326.01 L230.35,325.46 L230.6,324.85 L230.85,324.18 L231.1,323.48 L231.35,322.74 L231.6,321.98 L231.85,321.21 L232.1,320.44 L232.35,319.7 L232.6,318.97 L232.85,318.29 L233.1,317.65 L233.35,317.06 L233.6,316.53 L233.85,316.08 L234.1,315.7 L234.35,315.4 L234.6,315.18 L234.85,315.05 L235.1,315 L235.35,315.04 L235.6,315.17 L235.85,315.38 L236.1,315.67 L236.35,316.03 L236.6,316.47 L236.85,316.97 L237.1,317.53 L237.35,318.14 L237.6,318.79 L237.85,319.48 L238.1,320.19 L238.35,320.91 L238.6,321.64 L238.85,322.36 L239.1,323.07 L239.35,323.75 L239.6,324.4 L239.85,325 L240.1,325.56 L240.35,326.05 L240.6,326.48 L240.85,326.83 L241.1,327.1 L241.35,327.29 L241.6,327.39 L241.85,327.39 L242.1,327.3 L242.35,327.11 L242.6,326.83 L242.85,326.45 L243.1,325.97 L243.35,325.4 L243.6,324.75 L243.85,324 L244.1,323.18 L244.35,322.28 L244.6,321.31 L244.85,320.29 L245.1,319.2 L245.35,318.08 L245.6,316.92 L245.85,315.73 L246.1,314.52 L246.35,313.31 L246.6,312.1 L246.85,310.9 L247.1,309.72 L247.35,308.57 L247.6,307.46 L247.85,306.39 L248.1,305.39 L248.35,304.44 L248.6,303.57 L248.85,302.78 L249.1,302.07 L249.35,301.45 L249.6,300.93 L249.85,300.51 L250.1,300.18 L250.35,299.96 L250.6,299.85 L250.85,299.84 L251.1,299.94 L251.35,300.15 L251.6,300.45 L251.85,300.86 L252.1,301.36 L252.35,301.96 L252.6,302.65 L252.85,303.42 L253.1,304.26 L253.35,305.18 L253.6,306.16 L253.85,307.19 L254.1,308.27 L254.35,309.39 L254.6,310.55 L254.85,311.72 L255.1,312.91 L255.35,314.1 L255.6,315.29 L255.85,316.47 L256.1,317.62 L256.35,318.75 L256.6,319.83 L256.85,320.87 L257.1,321.86 L257.35,322.78 L257.6,323.64 L257.85,324.42 L258.1,325.12 L258.35,325.74 L258.6,326.26 L258.85,326.69 L259.1,327.02 L259.35,327.25 L259.6,327.38 L259.85,327.39 L260.1,327.31 L260.35,327.11 L260.6,326.81 L260.85,326.39 L261.1,325.88 L261.35,325.26 L261.6,324.53 L261.85,323.71 L262.1,322.79 L262.35,321.78 L262.6,320.68 L262.85,319.49 L263.1,318.23 L263.35,316.89 L263.6,315.49 L263.85,314.02 L264.1,312.5 L264.35,310.93 L264.6,309.31 L264.85,307.66 L265.1,305.98 L265.35,304.27 L265.6,302.54 L265.85,300.81 L266.1,299.07 L266.35,297.33 L266.6,295.6 L266.85,293.89 L267.1,292.19 L267.35,290.53 L267.6,288.89 L267.85,287.29 L268.1,285.73 L268.35,284.22 L268.6,282.77 L268.85,281.36 L269.1,280.02 L269.35,278.74 L269.6,277.52 L269.85,276.38 L270.1,275.3 L270.35,274.3 L270.6,273.37 L270.85,272.52 L271.1,271.75 L271.35,271.06 L271.6,270.45 L271.85,269.92 L272.1,269.47 L272.35,269.1 L272.6,268.81 L272.85,268.59 L273.1,268.46 L273.35,268.4 L273.6,268.41 L273.85,268.5 L274.1,268.66 L274.35,268.89 L274.6,269.19 L274.85,269.55 L275.1,269.97 L275.35,270.45 L275.6,270.99 L275.85,271.58 L276.1,272.23 L276.35,272.92 L276.6,273.66 L276.85,274.44 L277.1,275.26 L277.35,276.12 L277.6,277.01 L277.85,277.93 L278.1,278.88 L278.35,279.85 L278.6,280.85 L278.85,281.86 L279.1,282.9 L279.35,283.94 L279.6,285 L279.85,286.07 L280.1,287.14 L280.35,288.22 L280.6,289.3 L280.85,290.38 L281.1,291.45 L281.35,292.53 L281.6,293.59 L281.85,294.65 L282.1,295.7 L282.35,296.74 L282.6,297.77 L282.85,298.79 L283.1,299.79 L283.35,300.77 L283.6,301.74 L283.85,302.69 L284.1,303.62 L284.35,304.53 L284.6,305.43 L284.85,306.3 L285.1,307.15 L285.35,307.98 L285.6,308.79 L285.85,309.58 L286.1,310.34 L286.35,311.08 L286.6,311.8 L286.85,312.5 L287.1,313.18 L287.35,313.83 L287.6,314.46 L287.85,315.07 L288.1,315.66 L288.35,316.23 L288.6,316.78 L288.85,317.3 L289.1,317.81 L289.35,318.3 L289.6,318.76 L289.85,319.21 L290.1,319.64 L290.35,320.05 L290.6,320.44 L290.85,320.82 L291.1,321.18 L291.35,321.52 L291.6,321.85 L291.85,322.16 L292.1,322.46 L292.35,322.74 L292.6,323.01 L292.85,323.27 L293.1,323.51 L293.35,323.74 L293.6,323.96 L293.85,324.17 L294.1,324.36 L294.35,324.55 L294.6,324.73 L294.85,324.89 L295.1,325.05 L295.35,325.2 L295.6,325.34 L295.85,325.47 L296.1,325.6 L296.35,325.72 L296.6,325.83 L296.85,325.93 L297.1,326.03 L297.35,326.12 L297.6,326.21 L297.85,326.29 L298.1,326.37 L298.35,326.44 L298.6,326.5 L298.85,326.57 L299.1,326.63 L299.35,326.68 L299.6,326.73 L299.85,326.78 L300.1,326.83 L300.35,326.87 L300.6,326.91 L300.85,326.94 L301.1,326.98 L301.35,327.01 L301.6,327.04 L301.85,327.07 L302.1,327.09 L302.35,327.11 L302.6,327.14 L302.85,327.16 L303.1,327.18 L303.35,327.19 L303.6,327.21 L303.85,327.22 L304.1,327.24 L304.35,327.25 L304.6,327.26 L304.85,327.27 L305.1,327.28 L305.35,327.29 L305.6,327.3 L305.85,327.31 L306.1,327.32 L306.35,327.32 L306.6,327.33 L306.85,327.34 L307.1,327.34 L307.35,327.35 L307.6,327.35 L307.85,327.36 L308.1,327.36 L308.35,327.36 L308.6,327.37 L308.85,327.37 L309.1,327.37 L309.35,327.37 L309.6,327.38 L309.85,327.38 L310.1,327.38 L310.35,327.38 L310.6,327.38 L310.85,327.39 L311.1,327.39 L311.35,327.39 L311.6,327.39 L311.85,327.39 L312.1,327.39 L312.35,327.39 L312.6,327.39" stroke="#4d8c2c" stroke-width="1.2"/>
<path d="M45.35,327.4 L45.6,327.4 L45.85,327.4 L46.1,327.4 L46.35,327.4 L46.6,327.4 L46.85,327.4 L47.1,327.4 L47.35,327.4 L47.6,327.4 L47.85,327.4 L48.1,327.4 L48.35,327.4 L48.6,327.4 L48.85,327.4 L49.1,327.4 L49.35,327.4 L49.6,327.4 L49.85,327.4 L50.1,327.4 L50.35,327.4 L50.6,327.4 L50.85,327.4 L51.1,327.4 L51.35,327.4 L51.6,327.4 L51.85,327.4 L52.1,327.4 L52.35,327.4 L52.6,327.4 L52.85,327.4 L53.1,327.4 L53.35,327.4 L53.6,327.4 L53.85,327.4 L54.1,327.4 L54.35,327.4 L54.6,327.4 L54.85,327.4 L55.1,327.4 L55.35,327.4 L55.6,327.4 L55.85,327.4 L56.1,327.4 L56.35,327.4 L56.6,327.4 L56.85,327.4 L57.1,327.4 L57.35,327.4 L57.6,327.4 L57.85,327.4 L58.1,327.4 L58.35,327.4 L58.6,327.4 L58.85,327.4 L59.1,327.4 L59.35,327.4 L59.6,327.4 L59.85,327.4 L60.1,327.4 L60.35,327.4 L60.6,327.4 L60.85,327.4 L61.1,327.4 L61.35,327.4 L61.6,327.4 L61.85,327.4 L62.1,327.4 L62.35,327.4 L62.6,327.4 L62.85,327.4 L63.1,327.4 L63.35,327.4 L63.6,327.4 L63.85,327.4 L64.1,327.4 L64.35,327.4 L64.6,327.4 L64.85,327.4 L65.1,327.4 L65.35,327.4 L65.6,327.4 L65.85,327.4 L66.1,327.4 L66.35,327.4 L66.6,327.4 L66.85,327.4 L67.1,327.4 L67.35,327.4 L67.6,327.4 L67.85,327.4 L68.1,327.4 L68.35,327.4 L68.6,327.4 L68.85,327.4 L69.1,327.4 L69.35,327.4 L69.6,327.4 L69.85,327.4 L70.1,327.4 L70.35,327.4 L70.6,327.4 L70.85,327.4 L71.1,327.4 L71.35,327.4 L71.6,327.4 L71.85,327.4 L72.1,327.4 L72.35,327.4 L72.6,327.4 L72.85,327.4 L73.1,327.4 L73.35,327.4 L73.6,327.4 L73.85,327.4 L74.1,327.4 L74.35,327.4 L74.6,327.4 L74.85,327.4 L75.1,327.4 L75.35,327.4 L75.6,327.4 L75.85,327.4 L76.1,327.4 L76.35,327.4 L76.6,327.4 L76.85,327.4 L77.1,327.4 L77.35,327.4 L77.6,327.4 L77.85,327.4 L78.1,327.4 L78.35,327.4 L78.6,327.4 L78.85,327.4 L79.1,327.4 L79.35,327.4 L79.6,327.4 L79.85,327.4 L80.1,327.4 L80.35,327.4 L80.6,327.4 L80.85,327.4 L81.1,327.4 L81.35,327.4 L81.6,327.4 L81.85,327.4 L82.1,327.4 L82.35,327.4 L82.6,327.4 L82.85,327.4 L83.1,327.4 L83.35,327.4 L83.6,327.4 L83.85,327.4 L84.1,327.4 L84.35,327.4 L84.6,327.4 L84.85,327.4 L85.1,327.4 L85.35,327.4 L85.6,327.4 L85.85,327.4 L86.1,327.4 L86.35,327.4 L86.6,327.4 L86.85,327.4 L87.1,327.4 L87.35,327.4 L87.6,327.4 L87.85,327.4 L88.1,327.4 L88.35,327.4 L88.6,327.4 L88.85,327.4 L89.1,327.4 L89.35,327.4 L89.6,327.4 L89.85,327.4 L90.1,327.4 L90.35,327.4 L90.6,327.4 L90.85,327.4 L91.1,327.4 L91.35,327.4 L91.6,327.4 L91.85,327.4 L92.1,327.4 L92.35,327.4 L92.6,327.4 L92.85,327.4 L93.1,327.4 L93.35,327.4 L93.6,327.4 L93.85,327.4 L94.1,327.4 L94.35,327.4 L94.6,327.4 L94.85,327.4 L95.1,327.4 L95.35,327.4 L95.6,327.4 L95.85,327.4 L96.1,327.4 L96.35,327.4 L96.6,327.4 L96.85,327.4 L97.1,327.4 L97.35,327.4 L97.6,327.4 L97.85,327.4 L98.1,327.4 L98.35,327.4 L98.6,327.4 L98.85,327.4 L99.1,327.4 L99.35,327.4 L99.6,327.4 L99.85,327.4 L100.1,327.4 L100.35,327.4 L100.6,327.4 L100.85,327.4 L101.1,327.4 L101.35,327.4 L101.6,327.4 L101.85,327.4 L102.1,327.4 L102.35,327.4 L102.6,327.4 L102.85,327.4 L103.1,327.4 L103.35,327.4 L103.6,327.4 L103.85,327.4 L104.1,327.4 L104.35,327.4 L104.6,327.4 L104.85,327.4 L105.1,327.4 L105.35,327.4 L105.6,327.4 L105.85,327.4 L106.1,327.4 L106.35,327.4 L106.6,327.4 L106.85,327.4 L107.1,327.4 L107.35,327.4 L107.6,327.4 L107.85,327.4 L108.1,327.4 L108.35,327.4 L108.6,327.4 L108.85,327.4 L109.1,327.4 L109.35,327.4 L109.6,327.4 L109.85,327.4 L110.1,327.4 L110.35,327.4 L110.6,327.4 L110.85,327.4 L111.1,327.4 L111.35,327.4 L111.6,327.4 L111.85,327.4 L112.1,327.4 L112.35,327.39 L112.6,327.39 L112.85,327.39 L113.1,327.39 L113.35,327.39 L113.6,327.39 L113.85,327.39 L114.1,327.39 L114.35,327.39 L114.6,327.39 L114.85,327.39 L115.1,327.39 L115.35,327.39 L115.6,327.39 L115.85,327.38 L116.1,327.38 L116.35,327.38 L116.6,327.38 L116.85,327.38 L117.1,327.38 L117.35,327.38 L117.6,327.38 L117.85,327.37 L118.1,327.37 L118.35,327.37 L118.6,327.37 L118.85,327.37 L119.1,327.36 L119.35,327.36 L119.6,327.36 L119.85,327.35 L120.1,327.35 L120.35,327.35 L120.6,327.34 L120.85,327.34 L121.1,327.34 L121.35,327.33 L121.6,327.33 L121.85,327.32 L122.1,327.32 L122.35,327.31 L122.6,327.31 L122.85,327.3 L123.1,327.29 L123.35,327.29 L123.6,327.28 L123.85,327.27 L124.1,327.26 L124.35,327.25 L124.6,327.24 L124.85,327.24 L125.1,327.22 L125.35,327.21 L125.6,327.2 L125.85,327.19 L126.1,327.18 L126.35,327.16 L126.6,327.15 L126.85,327.13 L127.1,327.12 L127.35,327.1 L127.6,327.08 L127.85,327.06 L128.1,327.04 L128.35,327.02 L128.6,327 L128.85,326.98 L129.1,326.95 L129.35,326.92 L129.6,326.9 L129.85,326.87 L130.1,326.84 L130.35,326.81 L130.6,326.77 L130.85,326.74 L131.1,326.7 L131.35,326.66 L131.6,326.62 L131.85,326.58 L132.1,326.53 L132.35,326.48 L132.6,326.44 L132.85,326.38 L133.1,326.33 L133.35,326.27 L133.6,326.21 L133.85,326.15 L134.1,326.08 L134.35,326.02 L134.6,325.94 L134.85,325.87 L135.1,325.79 L135.35,325.71 L135.6,325.62 L135.85,325.53 L136.1,325.44 L136.35,325.34 L136.6,325.24 L136.85,325.14 L137.1,325.02 L137.35,324.91 L137.6,324.79 L137.85,324.66 L138.1,324.53 L138.35,324.4 L138.6,324.26 L138.85,324.11 L139.1,323.96 L139.35,323.8 L139.6,323.63 L139.85,323.46 L140.1,323.28 L140.35,323.1 L140.6,322.91 L140.85,322.71 L141.1,322.5 L141.35,322.29 L141.6,322.06 L141.85,321.83 L142.1,321.6 L142.35,321.35 L142.6,321.09 L142.85,320.83 L143.1,320.55 L143.35,320.27 L143.6,319.98 L143.85,319.68 L144.1,319.36 L144.35,319.04 L144.6,318.71 L144.85,318.36 L145.1,318.01 L145.35,317.64 L145.6,317.26 L145.85,316.87 L146.1,316.47 L146.35,316.06 L146.6,315.63 L146.85,315.19 L147.1,314.74 L147.35,314.28 L147.6,313.8 L147.85,313.31 L148.1,312.8 L148.35,312.28 L148.6,311.75 L148.85,311.21 L149.1,310.64 L149.35,310.07 L149.6,309.48 L149.85,308.87 L150.1,308.25 L150.35,307.62 L150.6,306.97 L150.85,306.3 L151.1,305.62 L151.35,304.93 L151.6,304.21 L151.85,303.49 L152.1,302.74 L152.35,301.98 L152.6,301.21 L152.85,300.41 L153.1,299.61 L153.35,298.78 L153.6,297.94 L153.85,297.09 L154.1,296.21 L154.35,295.33 L154.6,294.42 L154.85,293.5 L155.1,292.56 L155.35,291.61 L155.6,290.65 L155.85,289.66 L156.1,288.66 L156.35,287.65 L156.6,286.62 L156.85,285.58 L157.1,284.52 L157.35,283.45 L157.6,282.37 L157.85,281.27 L158.1,280.15 L158.35,279.03 L158.6,277.89 L158.85,276.74 L159.1,275.58 L159.35,274.4 L159.6,273.21 L159.85,272.02 L160.1,270.81 L160.35,269.59 L160.6,268.37 L160.85,267.13 L161.1,265.88 L161.35,264.63 L161.6,263.37 L161.85,262.11 L162.1,260.83 L162.35,259.56 L162.6,258.27 L162.85,256.99 L163.1,255.7 L163.35,254.4 L163.6,253.11 L163.85,251.81 L164.1,250.51 L164.35,249.21 L164.6,247.91 L164.85,246.62 L165.1,245.32 L165.35,244.03 L165.6,242.74 L165.85,241.46 L166.1,240.18 L166.35,238.91 L166.6,237.64 L166.85,236.38 L167.1,235.13 L167.35,233.89 L167.6,232.66 L167.85,231.45 L168.1,230.24 L168.35,229.04 L168.6,227.86 L168.85,226.7 L169.1,225.55 L169.35,224.41 L169.6,223.29 L169.85,222.19 L170.1,221.11 L170.35,220.05 L170.6,219.01 L170.85,217.98 L171.1,216.98 L171.35,216.01 L171.6,215.05 L171.85,214.12 L172.1,213.22 L172.35,212.34 L172.6,211.48 L172.85,210.65 L173.1,209.85 L173.35,209.08 L173.6,208.34 L173.85,207.62 L174.1,206.94 L174.35,206.29 L174.6,205.66 L174.85,205.07 L175.1,204.51 L175.35,203.98 L175.6,203.49 L175.85,203.03 L176.1,202.6 L176.35,202.21 L176.6,201.85 L176.85,201.53 L177.1,201.24 L177.35,200.98 L177.6,200.76 L177.85,200.58 L178.1,200.43 L178.35,200.32 L178.6,200.25 L178.85,200.21 L179.1,200.2 L179.35,200.24 L179.6,200.3 L179.85,200.41 L180.1,200.55 L180.35,200.72 L180.6,200.94 L180.85,201.18 L181.1,201.47 L181.35,201.78 L181.6,202.13 L181.85,202.52 L182.1,202.94 L182.35,203.4 L182.6,203.88 L182.85,204.4 L183.1,204.96 L183.35,205.54 L183.6,206.16 L183.85,206.81 L184.1,207.48 L184.35,208.19 L184.6,208.93 L184.85,209.7 L185.1,210.49 L185.35,211.31 L185.6,212.16 L185.85,213.04 L186.1,213.94 L186.35,214.86 L186.6,215.81 L186.85,216.79 L187.1,217.78 L187.35,218.8 L187.6,219.84 L187.85,220.9 L188.1,221.97 L188.35,223.07 L188.6,224.19 L188.85,225.32 L189.1,226.47 L189.35,227.63 L189.6,228.81 L189.85,230 L190.1,231.2 L190.35,232.42 L190.6,233.65 L190.85,234.88 L191.1,236.13 L191.35,237.39 L191.6,238.65 L191.85,239.92 L192.1,241.2 L192.35,242.48 L192.6,243.77 L192.85,245.06 L193.1,246.36 L193.35,247.65 L193.6,248.95 L193.85,250.25 L194.1,251.55 L194.35,252.85 L194.6,254.14 L194.85,255.44 L195.1,256.73 L195.35,258.02 L195.6,259.3 L195.85,260.58 L196.1,261.85 L196.35,263.12 L196.6,264.38 L196.85,265.64 L197.1,266.88 L197.35,268.12 L197.6,269.35 L197.85,270.57 L198.1,271.78 L198.35,272.98 L198.6,274.16 L198.85,275.34 L199.1,276.51 L199.35,277.66 L199.6,278.8 L199.85,279.93 L200.1,281.05 L200.35,282.15 L200.6,283.24 L200.85,284.31 L201.1,285.37 L201.35,286.42 L201.6,287.45 L201.85,288.46 L202.1,289.46 L202.35,290.45 L202.6,291.42 L202.85,292.38 L203.1,293.31 L203.35,294.24 L203.6,295.15 L203.85,296.04 L204.1,296.91 L204.35,297.77 L204.6,298.62 L204.85,299.44 L205.1,300.25 L205.35,301.05 L205.6,301.83 L205.85,302.59 L206.1,303.34 L206.35,304.07 L206.6,304.79 L206.85,305.49 L207.1,306.17 L207.35,306.84 L207.6,307.49 L207.85,308.13 L208.1,308.75 L208.35,309.36 L208.6,309.95 L208.85,310.53 L209.1,311.09 L209.35,311.64 L209.6,312.18 L209.85,312.7 L210.1,313.21 L210.35,313.7 L210.6,314.18 L210.85,314.65 L211.1,315.1 L211.35,315.54 L211.6,315.97 L211.85,316.39 L212.1,316.79 L212.35,317.18 L212.6,317.56 L212.85,317.93 L213.1,318.29 L213.35,318.64 L213.6,318.97 L213.85,319.3 L214.1,319.61 L214.35,319.92 L214.6,320.21 L214.85,320.5 L215.1,320.77 L215.35,321.04 L215.6,321.3 L215.85,321.55 L216.1,321.79 L216.35,322.02 L216.6,322.24 L216.85,322.46 L217.1,322.67 L217.35,322.87 L217.6,323.06 L217.85,323.25 L218.1,323.43 L218.35,323.6 L218.6,323.77 L218.85,323.93 L219.1,324.08 L219.35,324.23 L219.6,324.37 L219.85,324.51 L220.1,324.64 L220.35,324.76 L220.6,324.89 L220.85,325 L221.1,325.11 L221.35,325.22 L221.6,325.32 L221.85,325.42 L222.1,325.52 L222.35,325.61 L222.6,325.69 L222.85,325.77 L223.1,325.85 L223.35,325.93 L223.6,326 L223.85,326.07 L224.1,326.14 L224.35,326.2 L224.6,326.26 L224.85,326.32 L225.1,326.37 L225.35,326.42 L225.6,326.47 L225.85,326.52 L226.1,326.57 L226.35,326.61 L226.6,326.65 L226.85,326.69 L227.1,326.73 L227.35,326.77 L227.6,326.8 L227.85,326.83 L228.1,326.86 L228.35,326.89 L228.6,326.92 L228.85,326.95 L229.1,326.97 L229.35,326.99 L229.6,327.02 L229.85,327.04 L230.1,327.06 L230.35,327.08 L230.6,327.1 L230.85,327.11 L231.1,327.13 L231.35,327.15 L231.6,327.16 L231.85,327.17 L232.1,327.19 L232.35,327.2 L232.6,327.21 L232.85,327.22 L233.1,327.23 L233.35,327.24 L233.6,327.25 L233.85,327.26 L234.1,327.27 L234.35,327.28 L234.6,327.29 L234.85,327.29 L235.1,327.3 L235.35,327.3 L235.6,327.31 L235.85,327.32 L236.1,327.32 L236.35,327.33 L236.6,327.33 L236.85,327.34 L237.1,327.34 L237.35,327.34 L237.6,327.35 L237.85,327.35 L238.1,327.35 L238.35,327.36 L238.6,327.36 L238.85,327.36 L239.1,327.36 L239.35,327.37 L239.6,327.37 L239.85,327.37 L240.1,327.37 L240.35,327.37 L240.6,327.38 L240.85,327.38 L241.1,327.38 L241.35,327.38 L241.6,327.38 L241.85,327.38 L242.1,327.38 L242.35,327.39 L242.6,327.39 L242.85,327.39 L243.1,327.39 L243.35,327.39 L243.6,327.39 L243.85,327.39 L244.1,327.39 L244.35,327.39 L244.6,327.39 L244.85,327.39 L245.1,327.39 L245.35,327.39 L245.6,327.39 L245.85,327.39 L246.1,327.4 L246.35,327.4 L246.6,327.4 L246.85,327.4 L247.1,327.4 L247.35,327.4 L247.6,327.4 L247.85,327.4 L248.1,327.4 L248.35,327.4 L248.6,327.4 L248.85,327.4 L249.1,327.4 L249.35,327.4 L249.6,327.4 L249.85,327.4 L250.1,327.4 L250.35,327.4 L250.6,327.4 L250.85,327.4 L251.1,327.4 L251.35,327.4 L251.6,327.4 L251.85,327.4 L252.1,327.4 L252.35,327.4 L252.6,327.4 L252.85,327.4 L253.1,327.4 L253.35,327.4 L253.6,327.4 L253.85,327.4 L254.1,327.4 L254.35,327.4 L254.6,327.4 L254.85,327.4 L255.1,327.4 L255.35,327.4 L255.6,327.4 L255.85,327.4 L256.1,327.4 L256.35,327.4 L256.6,327.4 L256.85,327.4 L257.1,327.4 L257.35,327.4 L257.6,327.4 L257.85,327.4 L258.1,327.4 L258.35,327.4 L258.6,327.4 L258.85,327.4 L259.1,327.4 L259.35,327.4 L259.6,327.4 L259.85,327.4 L260.1,327.4 L260.35,327.4 L260.6,327.4 L260.85,327.4 L261.1,327.4 L261.35,327.4 L261.6,327.4 L261.85,327.4 L262.1,327.4 L262.35,327.4 L262.6,327.4 L262.85,327.4 L263.1,327.4 L263.35,327.4 L263.6,327.4 L263.85,327.4 L264.1,327.4 L264.35,327.4 L264.6,327.4 L264.85,327.4 L265.1,327.4 L265.35,327.4 L265.6,327.4 L265.85,327.4 L266.1,327.4 L266.35,327.4 L266.6,327.4 L266.85,327.4 L267.1,327.4 L267.35,327.4 L267.6,327.4 L267.85,327.4 L268.1,327.4 L268.35,327.4 L268.6,327.4 L268.85,327.4 L269.1,327.4 L269.35,327.4 L269.6,327.4 L269.85,327.4 L270.1,327.4 L270.35,327.4 L270.6,327.4 L270.85,327.4 L271.1,327.4 L271.35,327.4 L271.6,327.4 L271.85,327.4 L272.1,327.4 L272.35,327.4 L272.6,327.4 L272.85,327.4 L273.1,327.4 L273.35,327.4 L273.6,327.4 L273.85,327.4 L274.1,327.4 L274.35,327.4 L274.6,327.4 L274.85,327.4 L275.1,327.4 L275.35,327.4 L275.6,327.4 L275.85,327.4 L276.1,327.4 L276.35,327.4 L276.6,327.4 L276.85,327.4 L277.1,327.4 L277.35,327.4 L277.6,327.4 L277.85,327.4 L278.1,327.4 L278.35,327.4 L278.6,327.4 L278.85,327.4 L279.1,327.4 L279.35,327.4 L279.6,327.4 L279.85,327.4 L280.1,327.4 L280.35,327.4 L280.6,327.4 L280.85,327.4 L281.1,327.4 L281.35,327.4 L281.6,327.4 L281.85,327.4 L282.1,327.4 L282.35,327.4 L282.6,327.4 L282.85,327.4 L283.1,327.4 L283.35,327.4 L283.6,327.4 L283.85,327.4 L284.1,327.4 L284.35,327.4 L284.6,327.4 L284.85,327.4 L285.1,327.4 L285.35,327.4 L285.6,327.4 L285.85,327.4 L286.1,327.4 L286.35,327.4 L286.6,327.4 L286.85,327.4 L287.1,327.4 L287.35,327.4 L287.6,327.4 L287.85,327.4 L288.1,327.4 L288.35,327.4 L288.6,327.4 L288.85,327.4 L289.1,327.4 L289.35,327.4 L289.6,327.4 L289.85,327.4 L290.1,327.4 L290.35,327.4 L290.6,327.4 L290.85,327.4 L291.1,327.4 L291.35,327.4 L291.6,327.4 L291.85,327.4 L292.1,327.4 L292.35,327.4 L292.6,327.4 L292.85,327.4 L293.1,327.4 L293.35,327.4 L293.6,327.4 L293.85,327.4 L294.1,327.4 L294.35,327.4 L294.6,327.4 L294.85,327.4 L295.1,327.4 L295.35,327.4 L295.6,327.4 L295.85,327.4 L296.1,327.4 L296.35,327.4 L296.6,327.4 L296.85,327.4 L297.1,327.4 L297.35,327.4 L297.6,327.4 L297.85,327.4 L298.1,327.4 L298.35,327.4 L298.6,327.4 L298.85,327.4 L299.1,327.4 L299.35,327.4 L299.6,327.4 L299.85,327.4 L300.1,327.4 L300.35,327.4 L300.6,327.4 L300.85,327.4 L301.1,327.4 L301.35,327.4 L301.6,327.4 L301.85,327.4 L302.1,327.4 L302.35,327.4 L302.6,327.4 L302.85,327.4 L303.1,327.4 L303.35,327.4 L303.6,327.4 L303.85,327.4 L304.1,327.4 L304.35,327.4 L304.6,327.4 L304.85,327.4 L305.1,327.4 L305.35,327.4 L305.6,327.4 L305.85,327.4 L306.1,327.4 L306.35,327.4 L306.6,327.4 L306.85,327.4 L307.1,327.4 L307.35,327.4 L307.6,327.4 L307.85,327.4 L308.1,327.4 L308.35,327.4 L308.6,327.4 L308.85,327.4 L309.1,327.4 L309.35,327.4 L309.6,327.4 L309.85,327.4 L310.1,327.4 L310.35,327.4 L310.6,327.4 L310.85,327.4 L311.1,327.4 L311.35,327.4 L311.6,327.4 L311.85,327.4 L312.1,327.4 L312.35,327.4 L312.6,327.4" stroke="#8a8a8a" stroke-width="1.05" stroke-dasharray="1.6 1.4"/>
</g>
<text x="39.45" y="330.9" text-anchor="end" style="font-family:&quot;Liberation Serif&quot;,serif;font-size:11.5px;" >0.0</text>
<text x="39.45" y="305.46" text-anchor="end" style="font-family:&quot;Liberation Serif&quot;,serif;font-size:11.5px;" >0.2</text>
<text x="39.45" y="280.02" text-anchor="end" style="font-family:&quot;Liberation Serif&quot;,serif;font-size:11.5px;" >0.4</text>
<text x="39.45" y="254.58" text-anchor="end" style="font-family:&quot;Liberation Serif&quot;,serif;font-size:11.5px;" >0.6</text>
<text x="39.45" y="229.14" text-anchor="end" style="font-family:&quot;Liberation Serif&quot;,serif;font-size:11.5px;" >0.8</text>
<text x="39.45" y="203.7" text-anchor="end" style="font-family:&quot;Liberation Serif&quot;,serif;font-size:11.5px;" >1.0</text>
<text x="60.2" y="342.6" text-anchor="middle" style="font-family:&quot;Liberation Serif&quot;,serif;font-size:11.5px;" >-4</text>
<text x="89.9" y="342.6" text-anchor="middle" style="font-family:&quot;Liberation Serif&quot;,serif;font-size:11.5px;" >-3</text>
<text x="119.6" y="342.6" text-anchor="middle" style="font-family:&quot;Liberation Serif&quot;,serif;font-size:11.5px;" >-2</text>
<text x="149.3" y="342.6" text-anchor="middle" style="font-family:&quot;Liberation Serif&quot;,serif;font-size:11.5px;" >-1</text>
<text x="179" y="342.6" text-anchor="middle" style="font-family:&quot;Liberation Serif&quot;,serif;font-size:11.5px;" >0</text>
<text x="208.7" y="342.6" text-anchor="middle" style="font-family:&quot;Liberation Serif&quot;,serif;font-size:11.5px;" >1</text>
<text x="238.4" y="342.6" text-anchor="middle" style="font-family:&quot;Liberation Serif&quot;,serif;font-size:11.5px;" >2</text>
<text x="268.1" y="342.6" text-anchor="middle" style="font-family:&quot;Liberation Serif&quot;,serif;font-size:11.5px;" >3</text>
<text x="297.8" y="342.6" text-anchor="middle" style="font-family:&quot;Liberation Serif&quot;,serif;font-size:11.5px;" >4</text>
<text x="179.3" y="359.4" text-anchor="middle" style="font-family:&quot;Liberation Serif&quot;,serif;font-size:13px;" >distance <tspan style="font-style:italic">x</tspan>/<tspan style="font-style:italic">w</tspan></text>
<text x="0" y="0" text-anchor="start" style="font-family:&quot;Liberation Serif&quot;,serif;font-size:13px;" transform="translate(11.9,300.5) rotate(-90)">intensity [a.u.]</text>
<text x="-0.3" y="195.8" text-anchor="start" style="font-family:&quot;Liberation Serif&quot;,serif;font-size:14.5px;" >(b)</text>
<text x="305.3" y="205.5" text-anchor="end" style="font-family:&quot;Liberation Serif&quot;,serif;font-size:13.5px;" >= π/4</text>
<g transform="translate(265.4,199.8)" fill="none" stroke="#000" stroke-linecap="round"><path d="M1.6,0.4 C1.2,2.0 0.5,3.9 0.8,5.2 C1.1,6.3 2.3,6.6 3.4,6.1" stroke-width="1.3"/><path d="M3.4,6.1 C5.2,5.3 6.9,2.8 8.4,0.4" stroke-width="0.95"/><path d="M4.9,0.9 L1.6,8.6" stroke-width="0.85"/></g>
<path d="M60,200.3 H89.5" stroke="#3f30ff" stroke-width="1.2"/>
<text x="94.6" y="205.8" text-anchor="start" style="font-family:&quot;Liberation Serif&quot;,serif;font-size:13px;" ><tspan style="font-style:italic">a</tspan><tspan dy="3" style="font-size:8.5px">1</tspan></text>
<path d="M60,216.2 H89.5" stroke="#d82a35" stroke-width="1.2"/>
<text x="94.6" y="221.7" text-anchor="start" style="font-family:&quot;Liberation Serif&quot;,serif;font-size:13px;" ><tspan style="font-style:italic">a</tspan><tspan dy="3" style="font-size:8.5px">2</tspan></text>
<path d="M60,232.1 H89.5" stroke="#4d8c2c" stroke-width="1.2"/>
<text x="94.6" y="237.6" text-anchor="start" style="font-family:&quot;Liberation Serif&quot;,serif;font-size:13px;" ><tspan style="font-style:italic">a</tspan><tspan dy="3" style="font-size:8.5px">3</tspan></text>
<clipPath id="clipc"><rect x="371.05" y="1.4" width="266.85" height="142.4"/></clipPath>
<g stroke="#333" stroke-width="1" fill="none">
<path d="M371.05,1.4 H637.9 V141.8"/>
<path d="M371.05,1.4 V143.8"/>
<path d="M371.05,141.8 h-4 M371.05,129.04 h-2 M371.05,116.29 h-4 M371.05,103.53 h-2 M371.05,90.78 h-4 M371.05,78.02 h-2 M371.05,65.26 h-4 M371.05,52.51 h-2 M371.05,39.75 h-4 M371.05,27 h-2 M371.05,14.24 h-4 M371.05,1.48 h-2 M390.09,141.8 v4 M409.15,141.8 v2 M428.21,141.8 v4 M447.27,141.8 v2 M466.33,141.8 v4 M485.39,141.8 v2 M504.45,141.8 v4 M523.51,141.8 v2 M542.57,141.8 v4 M561.63,141.8 v2 M580.69,141.8 v4 M599.75,141.8 v2 M618.81,141.8 v4"/>
</g>
<g clip-path="url(#clipc)" fill="none" stroke-linejoin="round">
<path d="M376.78,141.36 L377.03,141.34 L377.28,141.32 L377.53,141.3 L377.78,141.27 L378.03,141.25 L378.28,141.22 L378.53,141.19 L378.78,141.16 L379.03,141.13 L379.28,141.1 L379.53,141.07 L379.78,141.04 L380.03,141 L380.28,140.96 L380.53,140.93 L380.78,140.89 L381.03,140.85 L381.28,140.8 L381.53,140.76 L381.78,140.72 L382.03,140.67 L382.28,140.62 L382.53,140.57 L382.78,140.52 L383.03,140.47 L383.28,140.41 L383.53,140.35 L383.78,140.3 L384.03,140.24 L384.28,140.17 L384.53,140.11 L384.78,140.04 L385.03,139.98 L385.28,139.91 L385.53,139.84 L385.78,139.76 L386.03,139.69 L386.28,139.61 L386.53,139.53 L386.78,139.45 L387.03,139.37 L387.28,139.28 L387.53,139.19 L387.78,139.11 L388.03,139.01 L388.28,138.92 L388.53,138.83 L388.78,138.73 L389.03,138.63 L389.28,138.53 L389.53,138.43 L389.78,138.33 L390.03,138.22 L390.28,138.12 L390.53,138.01 L390.78,137.9 L391.03,137.79 L391.28,137.68 L391.53,137.56 L391.78,137.45 L392.03,137.33 L392.28,137.22 L392.53,137.1 L392.78,136.98 L393.03,136.86 L393.28,136.74 L393.53,136.62 L393.78,136.5 L394.03,136.39 L394.28,136.27 L394.53,136.15 L394.78,136.03 L395.03,135.91 L395.28,135.79 L395.53,135.68 L395.78,135.56 L396.03,135.45 L396.28,135.34 L396.53,135.23 L396.78,135.12 L397.03,135.01 L397.28,134.91 L397.53,134.81 L397.78,134.71 L398.03,134.62 L398.28,134.53 L398.53,134.44 L398.78,134.36 L399.03,134.28 L399.28,134.2 L399.53,134.13 L399.78,134.07 L400.03,134.01 L400.28,133.95 L400.53,133.9 L400.78,133.86 L401.03,133.82 L401.28,133.79 L401.53,133.77 L401.78,133.75 L402.03,133.74 L402.28,133.74 L402.53,133.74 L402.78,133.75 L403.03,133.77 L403.28,133.8 L403.53,133.84 L403.78,133.88 L404.03,133.93 L404.28,133.99 L404.53,134.06 L404.78,134.14 L405.03,134.22 L405.28,134.32 L405.53,134.42 L405.78,134.53 L406.03,134.65 L406.28,134.78 L406.53,134.92 L406.78,135.06 L407.03,135.21 L407.28,135.37 L407.53,135.54 L407.78,135.72 L408.03,135.9 L408.28,136.09 L408.53,136.29 L408.78,136.49 L409.03,136.69 L409.28,136.91 L409.53,137.12 L409.78,137.35 L410.03,137.57 L410.28,137.8 L410.53,138.03 L410.78,138.26 L411.03,138.49 L411.28,138.72 L411.53,138.95 L411.78,139.18 L412.03,139.4 L412.28,139.63 L412.53,139.84 L412.78,140.06 L413.03,140.26 L413.28,140.46 L413.53,140.65 L413.78,140.83 L414.03,141 L414.28,141.15 L414.53,141.29 L414.78,141.42 L415.03,141.53 L415.28,141.63 L415.53,141.7 L415.78,141.76 L416.03,141.79 L416.28,141.8 L416.53,141.79 L416.78,141.75 L417.03,141.68 L417.28,141.59 L417.53,141.47 L417.78,141.31 L418.03,141.13 L418.28,140.91 L418.53,140.65 L418.78,140.36 L419.03,140.03 L419.28,139.67 L419.53,139.26 L419.78,138.81 L420.03,138.33 L420.28,137.79 L420.53,137.22 L420.78,136.6 L421.03,135.93 L421.28,135.22 L421.53,134.46 L421.78,133.66 L422.03,132.8 L422.28,131.9 L422.53,130.94 L422.78,129.94 L423.03,128.89 L423.28,127.79 L423.53,126.64 L423.78,125.44 L424.03,124.2 L424.28,122.9 L424.53,121.56 L424.78,120.16 L425.03,118.73 L425.28,117.24 L425.53,115.71 L425.78,114.14 L426.03,112.53 L426.28,110.87 L426.53,109.18 L426.78,107.44 L427.03,105.67 L427.28,103.87 L427.53,102.04 L427.78,100.17 L428.03,98.28 L428.28,96.36 L428.53,94.42 L428.78,92.46 L429.03,90.48 L429.28,88.49 L429.53,86.49 L429.78,84.48 L430.03,82.46 L430.28,80.45 L430.53,78.43 L430.78,76.42 L431.03,74.42 L431.28,72.43 L431.53,70.45 L431.78,68.5 L432.03,66.57 L432.28,64.66 L432.53,62.79 L432.78,60.95 L433.03,59.15 L433.28,57.39 L433.53,55.67 L433.78,54.01 L434.03,52.4 L434.28,50.84 L434.53,49.35 L434.78,47.92 L435.03,46.56 L435.28,45.27 L435.53,44.05 L435.78,42.91 L436.03,41.85 L436.28,40.87 L436.53,39.98 L436.78,39.18 L437.03,38.47 L437.28,37.85 L437.53,37.33 L437.78,36.91 L438.03,36.58 L438.28,36.36 L438.53,36.23 L438.78,36.21 L439.03,36.3 L439.28,36.49 L439.53,36.78 L439.78,37.18 L440.03,37.69 L440.28,38.29 L440.53,39.01 L440.78,39.83 L441.03,40.75 L441.28,41.77 L441.53,42.89 L441.78,44.11 L442.03,45.42 L442.28,46.83 L442.53,48.33 L442.78,49.91 L443.03,51.59 L443.28,53.34 L443.53,55.17 L443.78,57.08 L444.03,59.06 L444.28,61.1 L444.53,63.21 L444.78,65.37 L445.03,67.59 L445.28,69.86 L445.53,72.17 L445.78,74.52 L446.03,76.91 L446.28,79.32 L446.53,81.75 L446.78,84.2 L447.03,86.67 L447.28,89.14 L447.53,91.61 L447.78,94.07 L448.03,96.53 L448.28,98.97 L448.53,101.39 L448.78,103.78 L449.03,106.13 L449.28,108.45 L449.53,110.73 L449.78,112.96 L450.03,115.13 L450.28,117.25 L450.53,119.3 L450.78,121.29 L451.03,123.2 L451.28,125.04 L451.53,126.8 L451.78,128.47 L452.03,130.05 L452.28,131.55 L452.53,132.95 L452.78,134.26 L453.03,135.46 L453.28,136.57 L453.53,137.57 L453.78,138.47 L454.03,139.26 L454.28,139.95 L454.53,140.53 L454.78,141 L455.03,141.36 L455.28,141.61 L455.53,141.76 L455.78,141.8 L456.03,141.73 L456.28,141.57 L456.53,141.3 L456.78,140.93 L457.03,140.46 L457.28,139.89 L457.53,139.24 L457.78,138.49 L458.03,137.66 L458.28,136.75 L458.53,135.75 L458.78,134.69 L459.03,133.55 L459.28,132.34 L459.53,131.08 L459.78,129.75 L460.03,128.38 L460.28,126.95 L460.53,125.49 L460.78,123.98 L461.03,122.44 L461.28,120.88 L461.53,119.29 L461.78,117.69 L462.03,116.07 L462.28,114.45 L462.53,112.83 L462.78,111.21 L463.03,109.6 L463.28,108 L463.53,106.42 L463.78,104.86 L464.03,103.34 L464.28,101.84 L464.53,100.38 L464.78,98.96 L465.03,97.58 L465.28,96.26 L465.53,94.98 L465.78,93.76 L466.03,92.6 L466.28,91.5 L466.53,90.46 L466.78,89.49 L467.03,88.59 L467.28,87.76 L467.53,87 L467.78,86.32 L468.03,85.71 L468.28,85.17 L468.53,84.71 L468.78,84.33 L469.03,84.03 L469.28,83.8 L469.53,83.65 L469.78,83.58 L470.03,83.58 L470.28,83.65 L470.53,83.8 L470.78,84.03 L471.03,84.32 L471.28,84.68 L471.53,85.11 L471.78,85.6 L472.03,86.16 L472.28,86.77 L472.53,87.45 L472.78,88.18 L473.03,88.96 L473.28,89.79 L473.53,90.67 L473.78,91.59 L474.03,92.56 L474.28,93.56 L474.53,94.59 L474.78,95.66 L475.03,96.75 L475.28,97.88 L475.53,99.02 L475.78,100.18 L476.03,101.36 L476.28,102.55 L476.53,103.75 L476.78,104.95 L477.03,106.17 L477.28,107.38 L477.53,108.59 L477.78,109.8 L478.03,111 L478.28,112.19 L478.53,113.37 L478.78,114.54 L479.03,115.69 L479.28,116.83 L479.53,117.94 L479.78,119.04 L480.03,120.11 L480.28,121.16 L480.53,122.19 L480.78,123.19 L481.03,124.16 L481.28,125.11 L481.53,126.02 L481.78,126.91 L482.03,127.77 L482.28,128.6 L482.53,129.39 L482.78,130.16 L483.03,130.89 L483.28,131.6 L483.53,132.27 L483.78,132.92 L484.03,133.53 L484.28,134.11 L484.53,134.67 L484.78,135.19 L485.03,135.69 L485.28,136.16 L485.53,136.61 L485.78,137.02 L486.03,137.42 L486.28,137.78 L486.53,138.13 L486.78,138.45 L487.03,138.75 L487.28,139.03 L487.53,139.29 L487.78,139.53 L488.03,139.75 L488.28,139.95 L488.53,140.14 L488.78,140.31 L489.03,140.47 L489.28,140.62 L489.53,140.75 L489.78,140.87 L490.03,140.98 L490.28,141.07 L490.53,141.16 L490.78,141.24 L491.03,141.31 L491.28,141.38 L491.53,141.43 L491.78,141.48 L492.03,141.53 L492.28,141.57 L492.53,141.6 L492.78,141.63 L493.03,141.66 L493.28,141.68 L493.53,141.7 L493.78,141.72 L494.03,141.73 L494.28,141.74 L494.53,141.75 L494.78,141.76 L495.03,141.77 L495.28,141.78 L495.53,141.78 L495.78,141.78 L496.03,141.79 L496.28,141.79 L496.53,141.79 L496.78,141.79 L497.03,141.8 L497.28,141.8 L497.53,141.8 L497.78,141.8 L498.03,141.8 L498.28,141.8 L498.53,141.8 L498.78,141.8 L499.03,141.8 L499.28,141.8 L499.53,141.8 L499.78,141.8 L500.03,141.8 L500.28,141.8 L500.53,141.8 L500.78,141.8 L501.03,141.8 M508.03,141.8 L508.28,141.8 L508.53,141.8 L508.78,141.8 L509.03,141.8 L509.28,141.8 L509.53,141.8 L509.78,141.8 L510.03,141.8 L510.28,141.8 L510.53,141.8 L510.78,141.8 L511.03,141.8 L511.28,141.8 L511.53,141.8 L511.78,141.8 L512.03,141.8 L512.28,141.79 L512.53,141.79 L512.78,141.79 L513.03,141.79 L513.28,141.78 L513.53,141.78 L513.78,141.77 L514.03,141.77 L514.28,141.76 L514.53,141.75 L514.78,141.74 L515.03,141.72 L515.28,141.71 L515.53,141.69 L515.78,141.67 L516.03,141.64 L516.28,141.61 L516.53,141.58 L516.78,141.54 L517.03,141.5 L517.28,141.45 L517.53,141.4 L517.78,141.34 L518.03,141.27 L518.28,141.19 L518.53,141.11 L518.78,141.01 L519.03,140.91 L519.28,140.79 L519.53,140.67 L519.78,140.53 L520.03,140.37 L520.28,140.21 L520.53,140.02 L520.78,139.82 L521.03,139.61 L521.28,139.38 L521.53,139.12 L521.78,138.85 L522.03,138.56 L522.28,138.25 L522.53,137.91 L522.78,137.55 L523.03,137.17 L523.28,136.76 L523.53,136.33 L523.78,135.86 L524.03,135.38 L524.28,134.86 L524.53,134.32 L524.78,133.74 L525.03,133.14 L525.28,132.51 L525.53,131.84 L525.78,131.15 L526.03,130.43 L526.28,129.67 L526.53,128.89 L526.78,128.07 L527.03,127.22 L527.28,126.35 L527.53,125.44 L527.78,124.51 L528.03,123.54 L528.28,122.55 L528.53,121.54 L528.78,120.5 L529.03,119.43 L529.28,118.34 L529.53,117.23 L529.78,116.1 L530.03,114.96 L530.28,113.79 L530.53,112.62 L530.78,111.43 L531.03,110.23 L531.28,109.02 L531.53,107.81 L531.78,106.6 L532.03,105.39 L532.28,104.18 L532.53,102.98 L532.78,101.78 L533.03,100.6 L533.28,99.43 L533.53,98.28 L533.78,97.16 L534.03,96.05 L534.28,94.97 L534.53,93.93 L534.78,92.91 L535.03,91.94 L535.28,91 L535.53,90.1 L535.78,89.25 L536.03,88.45 L536.28,87.71 L536.53,87.01 L536.78,86.37 L537.03,85.79 L537.28,85.28 L537.53,84.83 L537.78,84.44 L538.03,84.12 L538.28,83.88 L538.53,83.7 L538.78,83.6 L539.03,83.57 L539.28,83.61 L539.53,83.74 L539.78,83.94 L540.03,84.21 L540.28,84.57 L540.53,85 L540.78,85.51 L541.03,86.09 L541.28,86.75 L541.53,87.48 L541.78,88.29 L542.03,89.16 L542.28,90.11 L542.53,91.12 L542.78,92.2 L543.03,93.34 L543.28,94.54 L543.53,95.79 L543.78,97.1 L544.03,98.46 L544.28,99.86 L544.53,101.31 L544.78,102.79 L545.03,104.31 L545.28,105.86 L545.53,107.43 L545.78,109.02 L546.03,110.63 L546.28,112.24 L546.53,113.87 L546.78,115.49 L547.03,117.11 L547.28,118.72 L547.53,120.31 L547.78,121.88 L548.03,123.43 L548.28,124.95 L548.53,126.43 L548.78,127.87 L549.03,129.26 L549.28,130.61 L549.53,131.89 L549.78,133.12 L550.03,134.28 L550.28,135.38 L550.53,136.4 L550.78,137.34 L551.03,138.2 L551.28,138.98 L551.53,139.67 L551.78,140.27 L552.03,140.77 L552.28,141.17 L552.53,141.48 L552.78,141.69 L553.03,141.79 L553.28,141.79 L553.53,141.68 L553.78,141.46 L554.03,141.14 L554.28,140.71 L554.53,140.17 L554.78,139.52 L555.03,138.77 L555.28,137.91 L555.53,136.94 L555.78,135.87 L556.03,134.7 L556.28,133.43 L556.53,132.07 L556.78,130.6 L557.03,129.05 L557.28,127.41 L557.53,125.68 L557.78,123.87 L558.03,121.98 L558.28,120.02 L558.53,117.99 L558.78,115.9 L559.03,113.75 L559.28,111.54 L559.53,109.28 L559.78,106.97 L560.03,104.63 L560.28,102.25 L560.53,99.84 L560.78,97.41 L561.03,94.96 L561.28,92.5 L561.53,90.03 L561.78,87.56 L562.03,85.09 L562.28,82.63 L562.53,80.19 L562.78,77.77 L563.03,75.38 L563.28,73.01 L563.53,70.69 L563.78,68.4 L564.03,66.17 L564.28,63.98 L564.53,61.85 L564.78,59.79 L565.03,57.78 L565.28,55.85 L565.53,53.99 L565.78,52.21 L566.03,50.51 L566.28,48.89 L566.53,47.36 L566.78,45.92 L567.03,44.57 L567.28,43.31 L567.53,42.16 L567.78,41.1 L568.03,40.15 L568.28,39.29 L568.53,38.54 L568.78,37.89 L569.03,37.35 L569.28,36.91 L569.53,36.58 L569.78,36.35 L570.03,36.23 L570.28,36.22 L570.53,36.3 L570.78,36.49 L571.03,36.78 L571.28,37.17 L571.53,37.66 L571.78,38.24 L572.03,38.92 L572.28,39.69 L572.53,40.54 L572.78,41.49 L573.03,42.52 L573.28,43.63 L573.53,44.82 L573.78,46.09 L574.03,47.42 L574.28,48.83 L574.53,50.3 L574.78,51.83 L575.03,53.42 L575.28,55.07 L575.53,56.76 L575.78,58.51 L576.03,60.29 L576.28,62.12 L576.53,63.98 L576.78,65.88 L577.03,67.8 L577.28,69.75 L577.53,71.71 L577.78,73.7 L578.03,75.7 L578.28,77.71 L578.53,79.72 L578.78,81.74 L579.03,83.75 L579.28,85.77 L579.53,87.77 L579.78,89.77 L580.03,91.75 L580.28,93.72 L580.53,95.67 L580.78,97.59 L581.03,99.49 L581.28,101.37 L581.53,103.21 L581.78,105.03 L582.03,106.81 L582.28,108.56 L582.53,110.26 L582.78,111.93 L583.03,113.56 L583.28,115.15 L583.53,116.7 L583.78,118.2 L584.03,119.65 L584.28,121.06 L584.53,122.42 L584.78,123.74 L585.03,125 L585.28,126.22 L585.53,127.38 L585.78,128.5 L586.03,129.57 L586.28,130.59 L586.53,131.56 L586.78,132.48 L587.03,133.35 L587.28,134.18 L587.53,134.95 L587.78,135.68 L588.03,136.36 L588.28,137 L588.53,137.59 L588.78,138.14 L589.03,138.64 L589.28,139.1 L589.53,139.52 L589.78,139.91 L590.03,140.25 L590.28,140.55 L590.53,140.82 L590.78,141.05 L591.03,141.25 L591.28,141.41 L591.53,141.55 L591.78,141.65 L592.03,141.73 L592.28,141.78 L592.53,141.8 L592.78,141.8 L593.03,141.77 L593.28,141.72 L593.53,141.65 L593.78,141.57 L594.03,141.46 L594.28,141.34 L594.53,141.2 L594.78,141.05 L595.03,140.89 L595.28,140.71 L595.53,140.53 L595.78,140.33 L596.03,140.13 L596.28,139.92 L596.53,139.71 L596.78,139.48 L597.03,139.26 L597.28,139.03 L597.53,138.8 L597.78,138.57 L598.03,138.34 L598.28,138.11 L598.53,137.88 L598.78,137.65 L599.03,137.43 L599.28,137.2 L599.53,136.98 L599.78,136.77 L600.03,136.56 L600.28,136.36 L600.53,136.16 L600.78,135.97 L601.03,135.78 L601.28,135.6 L601.53,135.43 L601.78,135.27 L602.03,135.11 L602.28,134.97 L602.53,134.83 L602.78,134.7 L603.03,134.57 L603.28,134.46 L603.53,134.35 L603.78,134.26 L604.03,134.17 L604.28,134.09 L604.53,134.01 L604.78,133.95 L605.03,133.9 L605.28,133.85 L605.53,133.81 L605.78,133.78 L606.03,133.76 L606.28,133.74 L606.53,133.74 L606.78,133.74 L607.03,133.75 L607.28,133.76 L607.53,133.78 L607.78,133.81 L608.03,133.85 L608.28,133.89 L608.53,133.93 L608.78,133.99 L609.03,134.05 L609.28,134.11 L609.53,134.18 L609.78,134.25 L610.03,134.33 L610.28,134.41 L610.53,134.5 L610.78,134.59 L611.03,134.68 L611.28,134.78 L611.53,134.87 L611.78,134.98 L612.03,135.08 L612.28,135.19 L612.53,135.3 L612.78,135.41 L613.03,135.52 L613.28,135.64 L613.53,135.75 L613.78,135.87 L614.03,135.99 L614.28,136.1 L614.53,136.22 L614.78,136.34 L615.03,136.46 L615.28,136.58 L615.53,136.7 L615.78,136.82 L616.03,136.94 L616.28,137.06 L616.53,137.17 L616.78,137.29 L617.03,137.41 L617.28,137.52 L617.53,137.64 L617.78,137.75 L618.03,137.86 L618.28,137.97 L618.53,138.08 L618.78,138.18 L619.03,138.29 L619.28,138.39 L619.53,138.5 L619.78,138.6 L620.03,138.7 L620.28,138.79 L620.53,138.89 L620.78,138.98 L621.03,139.07 L621.28,139.16 L621.53,139.25 L621.78,139.34 L622.03,139.42 L622.28,139.5 L622.53,139.58 L622.78,139.66 L623.03,139.74 L623.28,139.81 L623.53,139.88 L623.78,139.95 L624.03,140.02 L624.28,140.09 L624.53,140.15 L624.78,140.21 L625.03,140.27 L625.28,140.33 L625.53,140.39 L625.78,140.45 L626.03,140.5 L626.28,140.55 L626.53,140.6 L626.78,140.65 L627.03,140.7 L627.28,140.74 L627.53,140.79 L627.78,140.83 L628.03,140.87 L628.28,140.91 L628.53,140.95 L628.78,140.99 L629.03,141.02 L629.28,141.06 L629.53,141.09 L629.78,141.12 L630.03,141.15 L630.28,141.18 L630.53,141.21 L630.78,141.24 L631.03,141.26 L631.28,141.29 L631.53,141.31 L631.78,141.34 L632.03,141.36" stroke="#3f30ff" stroke-width="1.2"/>
<path d="M371.03,141.66 L371.28,141.65 L371.53,141.65 L371.78,141.64 L372.03,141.63 L372.28,141.62 L372.53,141.61 L372.78,141.6 L373.03,141.58 L373.28,141.57 L373.53,141.56 L373.78,141.54 L374.03,141.53 L374.28,141.51 L374.53,141.5 L374.78,141.48 L375.03,141.46 L375.28,141.44 L375.53,141.42 L375.78,141.4 L376.03,141.38 L376.28,141.36 L376.53,141.34 L376.78,141.31 L377.03,141.28 L377.28,141.26 L377.53,141.23 L377.78,141.2 L378.03,141.17 L378.28,141.13 L378.53,141.1 L378.78,141.06 L379.03,141.03 L379.28,140.99 L379.53,140.95 L379.78,140.9 L380.03,140.86 L380.28,140.81 L380.53,140.76 L380.78,140.71 L381.03,140.66 L381.28,140.61 L381.53,140.55 L381.78,140.49 L382.03,140.43 L382.28,140.36 L382.53,140.3 L382.78,140.23 L383.03,140.16 L383.28,140.08 L383.53,140 L383.78,139.92 L384.03,139.84 L384.28,139.75 L384.53,139.66 L384.78,139.57 L385.03,139.47 L385.28,139.37 L385.53,139.27 L385.78,139.16 L386.03,139.05 L386.28,138.94 L386.53,138.82 L386.78,138.7 L387.03,138.57 L387.28,138.44 L387.53,138.3 L387.78,138.17 L388.03,138.02 L388.28,137.88 L388.53,137.73 L388.78,137.57 L389.03,137.41 L389.28,137.24 L389.53,137.07 L389.78,136.9 L390.03,136.72 L390.28,136.54 L390.53,136.35 L390.78,136.15 L391.03,135.95 L391.28,135.75 L391.53,135.54 L391.78,135.33 L392.03,135.11 L392.28,134.89 L392.53,134.66 L392.78,134.42 L393.03,134.18 L393.28,133.94 L393.53,133.69 L393.78,133.44 L394.03,133.18 L394.28,132.92 L394.53,132.65 L394.78,132.37 L395.03,132.1 L395.28,131.81 L395.53,131.52 L395.78,131.23 L396.03,130.94 L396.28,130.64 L396.53,130.33 L396.78,130.02 L397.03,129.71 L397.28,129.39 L397.53,129.07 L397.78,128.75 L398.03,128.42 L398.28,128.09 L398.53,127.76 L398.78,127.42 L399.03,127.09 L399.28,126.74 L399.53,126.4 L399.78,126.06 L400.03,125.71 L400.28,125.37 L400.53,125.02 L400.78,124.67 L401.03,124.32 L401.28,123.97 L401.53,123.62 L401.78,123.27 L402.03,122.92 L402.28,122.58 L402.53,122.23 L402.78,121.89 L403.03,121.55 L403.28,121.21 L403.53,120.87 L403.78,120.54 L404.03,120.21 L404.28,119.88 L404.53,119.56 L404.78,119.25 L405.03,118.94 L405.28,118.63 L405.53,118.33 L405.78,118.04 L406.03,117.75 L406.28,117.47 L406.53,117.2 L406.78,116.93 L407.03,116.68 L407.28,116.43 L407.53,116.19 L407.78,115.96 L408.03,115.74 L408.28,115.53 L408.53,115.33 L408.78,115.14 L409.03,114.96 L409.28,114.8 L409.53,114.64 L409.78,114.5 L410.03,114.36 L410.28,114.25 L410.53,114.14 L410.78,114.04 L411.03,113.96 L411.28,113.9 L411.53,113.84 L411.78,113.8 L412.03,113.77 L412.28,113.76 L412.53,113.76 L412.78,113.78 L413.03,113.8 L413.28,113.85 L413.53,113.9 L413.78,113.97 L414.03,114.06 L414.28,114.16 L414.53,114.27 L414.78,114.4 L415.03,114.54 L415.28,114.69 L415.53,114.86 L415.78,115.04 L416.03,115.23 L416.28,115.44 L416.53,115.66 L416.78,115.89 L417.03,116.13 L417.28,116.39 L417.53,116.65 L417.78,116.93 L418.03,117.22 L418.28,117.52 L418.53,117.82 L418.78,118.14 L419.03,118.47 L419.28,118.8 L419.53,119.15 L419.78,119.5 L420.03,119.85 L420.28,120.22 L420.53,120.59 L420.78,120.96 L421.03,121.35 L421.28,121.73 L421.53,122.12 L421.78,122.51 L422.03,122.91 L422.28,123.31 L422.53,123.71 L422.78,124.11 L423.03,124.52 L423.28,124.92 L423.53,125.32 L423.78,125.73 L424.03,126.13 L424.28,126.53 L424.53,126.92 L424.78,127.32 L425.03,127.71 L425.28,128.1 L425.53,128.49 L425.78,128.87 L426.03,129.24 L426.28,129.61 L426.53,129.98 L426.78,130.34 L427.03,130.69 L427.28,131.04 L427.53,131.38 L427.78,131.71 L428.03,132.04 L428.28,132.36 L428.53,132.67 L428.78,132.98 L429.03,133.27 L429.28,133.56 L429.53,133.84 L429.78,134.11 L430.03,134.38 L430.28,134.63 L430.53,134.88 L430.78,135.12 L431.03,135.34 L431.28,135.57 L431.53,135.78 L431.78,135.98 L432.03,136.18 L432.28,136.37 L432.53,136.55 L432.78,136.72 L433.03,136.88 L433.28,137.04 L433.53,137.18 L433.78,137.32 L434.03,137.46 L434.28,137.58 L434.53,137.7 L434.78,137.81 L435.03,137.91 L435.28,138.01 L435.53,138.1 L435.78,138.18 L436.03,138.26 L436.28,138.33 L436.53,138.39 L436.78,138.45 L437.03,138.5 L437.28,138.55 L437.53,138.59 L437.78,138.62 L438.03,138.65 L438.28,138.68 L438.53,138.69 L438.78,138.71 L439.03,138.71 L439.28,138.72 L439.53,138.71 L439.78,138.71 L440.03,138.69 L440.28,138.68 L440.53,138.65 L440.78,138.63 L441.03,138.59 L441.28,138.56 L441.53,138.52 L441.78,138.47 L442.03,138.42 L442.28,138.37 L442.53,138.31 L442.78,138.24 L443.03,138.18 L443.28,138.11 L443.53,138.03 L443.78,137.95 L444.03,137.87 L444.28,137.78 L444.53,137.69 L444.78,137.6 L445.03,137.51 L445.28,137.41 L445.53,137.31 L445.78,137.21 L446.03,137.11 L446.28,137.01 L446.53,136.9 L446.78,136.8 L447.03,136.69 L447.28,136.59 L447.53,136.48 L447.78,136.38 L448.03,136.28 L448.28,136.18 L448.53,136.08 L448.78,135.99 L449.03,135.9 L449.28,135.82 L449.53,135.74 L449.78,135.67 L450.03,135.6 L450.28,135.54 L450.53,135.49 L450.78,135.44 L451.03,135.41 L451.28,135.38 L451.53,135.37 L451.78,135.36 L452.03,135.36 L452.28,135.38 L452.53,135.4 L452.78,135.44 L453.03,135.49 L453.28,135.55 L453.53,135.63 L453.78,135.72 L454.03,135.82 L454.28,135.94 L454.53,136.06 L454.78,136.2 L455.03,136.36 L455.28,136.52 L455.53,136.7 L455.78,136.89 L456.03,137.09 L456.28,137.3 L456.53,137.51 L456.78,137.74 L457.03,137.98 L457.28,138.22 L457.53,138.47 L457.78,138.72 L458.03,138.97 L458.28,139.22 L458.53,139.48 L458.78,139.73 L459.03,139.97 L459.28,140.22 L459.53,140.45 L459.78,140.67 L460.03,140.88 L460.28,141.07 L460.53,141.25 L460.78,141.41 L461.03,141.54 L461.28,141.65 L461.53,141.73 L461.78,141.78 L462.03,141.8 L462.28,141.78 L462.53,141.73 L462.78,141.63 L463.03,141.49 L463.28,141.3 L463.53,141.06 L463.78,140.77 L464.03,140.42 L464.28,140.02 L464.53,139.55 L464.78,139.03 L465.03,138.44 L465.28,137.78 L465.53,137.05 L465.78,136.26 L466.03,135.39 L466.28,134.44 L466.53,133.43 L466.78,132.33 L467.03,131.16 L467.28,129.91 L467.53,128.58 L467.78,127.17 L468.03,125.68 L468.28,124.12 L468.53,122.47 L468.78,120.75 L469.03,118.95 L469.28,117.08 L469.53,115.13 L469.78,113.1 L470.03,111.01 L470.28,108.85 L470.53,106.63 L470.78,104.34 L471.03,101.99 L471.28,99.59 L471.53,97.13 L471.78,94.63 L472.03,92.08 L472.28,89.49 L472.53,86.87 L472.78,84.22 L473.03,81.54 L473.28,78.85 L473.53,76.14 L473.78,73.42 L474.03,70.7 L474.28,67.98 L474.53,65.27 L474.78,62.58 L475.03,59.91 L475.28,57.26 L475.53,54.66 L475.78,52.09 L476.03,49.57 L476.28,47.1 L476.53,44.69 L476.78,42.35 L477.03,40.08 L477.28,37.89 L477.53,35.78 L477.78,33.76 L478.03,31.84 L478.28,30.01 L478.53,28.29 L478.78,26.68 L479.03,25.19 L479.28,23.81 L479.53,22.56 L479.78,21.43 L480.03,20.44 L480.28,19.57 L480.53,18.84 L480.78,18.25 L481.03,17.8 L481.28,17.49 L481.53,17.32 L481.78,17.3 L482.03,17.41 L482.28,17.67 L482.53,18.07 L482.78,18.62 L483.03,19.3 L483.28,20.12 L483.53,21.08 L483.78,22.18 L484.03,23.4 L484.28,24.75 L484.53,26.22 L484.78,27.82 L485.03,29.53 L485.28,31.35 L485.53,33.27 L485.78,35.3 L486.03,37.42 L486.28,39.63 L486.53,41.92 L486.78,44.3 L487.03,46.74 L487.28,49.24 L487.53,51.81 L487.78,54.42 L488.03,57.08 L488.28,59.78 L488.53,62.51 L488.78,65.26 L489.03,68.03 L489.28,70.81 L489.53,73.59 L489.78,76.37 L490.03,79.14 L490.28,81.89 L490.53,84.62 L490.78,87.33 L491.03,90 L491.28,92.63 L491.53,95.22 L491.78,97.75 L492.03,100.24 L492.28,102.66 L492.53,105.03 L492.78,107.32 L493.03,109.55 L493.28,111.71 L493.53,113.79 L493.78,115.79 L494.03,117.71 L494.28,119.56 L494.53,121.32 L494.78,122.99 L495.03,124.59 L495.28,126.1 L495.53,127.52 L495.78,128.87 L496.03,130.13 L496.28,131.31 L496.53,132.41 L496.78,133.43 L497.03,134.37 L497.28,135.25 L497.53,136.05 L497.78,136.78 L498.03,137.44 L498.28,138.04 L498.53,138.58 L498.78,139.07 L499.03,139.5 L499.28,139.88 L499.53,140.21 L499.78,140.5 L500.03,140.75 L500.28,140.96 L500.53,141.14 L500.78,141.29 L501.03,141.41 L501.28,141.51 L501.53,141.59 L501.78,141.65 L502.03,141.7 L502.28,141.74 L502.53,141.76 L502.78,141.78 L503.03,141.79 L503.28,141.79 L503.53,141.8 L503.78,141.8 L504.03,141.8 L504.28,141.8 L504.53,141.8 L504.78,141.8 L505.03,141.8 L505.28,141.8 L505.53,141.8 L505.78,141.79 L506.03,141.78 L506.28,141.77 L506.53,141.75 L506.78,141.71 L507.03,141.67 L507.28,141.62 L507.53,141.54 L507.78,141.45 L508.03,141.34 L508.28,141.2 L508.53,141.03 L508.78,140.83 L509.03,140.59 L509.28,140.32 L509.53,140 L509.78,139.64 L510.03,139.23 L510.28,138.76 L510.53,138.24 L510.78,137.66 L511.03,137.02 L511.28,136.32 L511.53,135.54 L511.78,134.7 L512.03,133.78 L512.28,132.78 L512.53,131.71 L512.78,130.56 L513.03,129.33 L513.28,128.02 L513.53,126.62 L513.78,125.14 L514.03,123.58 L514.28,121.93 L514.53,120.2 L514.78,118.39 L515.03,116.49 L515.28,114.52 L515.53,112.46 L515.78,110.33 L516.03,108.13 L516.28,105.86 L516.53,103.52 L516.78,101.12 L517.03,98.65 L517.28,96.14 L517.53,93.57 L517.78,90.95 L518.03,88.29 L518.28,85.6 L518.53,82.88 L518.78,80.13 L519.03,77.37 L519.28,74.59 L519.53,71.81 L519.78,69.03 L520.03,66.26 L520.28,63.5 L520.53,60.76 L520.78,58.05 L521.03,55.38 L521.28,52.75 L521.53,50.16 L521.78,47.63 L522.03,45.17 L522.28,42.77 L522.53,40.45 L522.78,38.21 L523.03,36.05 L523.28,33.99 L523.53,32.03 L523.78,30.17 L524.03,28.42 L524.28,26.78 L524.53,25.26 L524.78,23.87 L525.03,22.6 L525.28,21.46 L525.53,20.45 L525.78,19.58 L526.03,18.85 L526.28,18.25 L526.53,17.8 L526.78,17.49 L527.03,17.32 L527.28,17.3 L527.53,17.41 L527.78,17.67 L528.03,18.07 L528.28,18.61 L528.53,19.29 L528.78,20.11 L529.03,21.06 L529.28,22.14 L529.53,23.35 L529.78,24.68 L530.03,26.13 L530.28,27.7 L530.53,29.38 L530.78,31.17 L531.03,33.06 L531.28,35.04 L531.53,37.12 L531.78,39.28 L532.03,41.52 L532.28,43.84 L532.53,46.23 L532.78,48.67 L533.03,51.17 L533.28,53.73 L533.53,56.32 L533.78,58.95 L534.03,61.61 L534.28,64.3 L534.53,67 L534.78,69.72 L535.03,72.44 L535.28,75.16 L535.53,77.87 L535.78,80.57 L536.03,83.26 L536.28,85.92 L536.53,88.55 L536.78,91.15 L537.03,93.72 L537.28,96.24 L537.53,98.71 L537.78,101.13 L538.03,103.5 L538.28,105.81 L538.53,108.06 L538.78,110.24 L539.03,112.36 L539.28,114.41 L539.53,116.38 L539.78,118.28 L540.03,120.11 L540.28,121.86 L540.53,123.53 L540.78,125.13 L541.03,126.65 L541.28,128.08 L541.53,129.44 L541.78,130.72 L542.03,131.92 L542.28,133.04 L542.53,134.09 L542.78,135.06 L543.03,135.95 L543.28,136.77 L543.53,137.53 L543.78,138.21 L544.03,138.82 L544.28,139.37 L544.53,139.86 L544.78,140.28 L545.03,140.65 L545.28,140.96 L545.53,141.22 L545.78,141.42 L546.03,141.58 L546.28,141.69 L546.53,141.77 L546.78,141.8 L547.03,141.79 L547.28,141.75 L547.53,141.68 L547.78,141.58 L548.03,141.46 L548.28,141.31 L548.53,141.14 L548.78,140.95 L549.03,140.75 L549.28,140.53 L549.53,140.3 L549.78,140.06 L550.03,139.82 L550.28,139.57 L550.53,139.31 L550.78,139.06 L551.03,138.81 L551.28,138.56 L551.53,138.31 L551.78,138.06 L552.03,137.83 L552.28,137.6 L552.53,137.37 L552.78,137.16 L553.03,136.96 L553.28,136.76 L553.53,136.58 L553.78,136.41 L554.03,136.26 L554.28,136.11 L554.53,135.98 L554.78,135.86 L555.03,135.75 L555.28,135.66 L555.53,135.58 L555.78,135.51 L556.03,135.46 L556.28,135.42 L556.53,135.39 L556.78,135.37 L557.03,135.36 L557.28,135.36 L557.53,135.37 L557.78,135.4 L558.03,135.43 L558.28,135.47 L558.53,135.52 L558.78,135.58 L559.03,135.64 L559.28,135.71 L559.53,135.79 L559.78,135.87 L560.03,135.96 L560.28,136.05 L560.53,136.14 L560.78,136.24 L561.03,136.34 L561.28,136.44 L561.53,136.55 L561.78,136.65 L562.03,136.76 L562.28,136.86 L562.53,136.97 L562.78,137.07 L563.03,137.17 L563.28,137.28 L563.53,137.38 L563.78,137.47 L564.03,137.57 L564.28,137.66 L564.53,137.75 L564.78,137.84 L565.03,137.92 L565.28,138 L565.53,138.08 L565.78,138.15 L566.03,138.22 L566.28,138.28 L566.53,138.35 L566.78,138.4 L567.03,138.45 L567.28,138.5 L567.53,138.54 L567.78,138.58 L568.03,138.62 L568.28,138.64 L568.53,138.67 L568.78,138.69 L569.03,138.7 L569.28,138.71 L569.53,138.72 L569.78,138.72 L570.03,138.71 L570.28,138.7 L570.53,138.68 L570.78,138.66 L571.03,138.63 L571.28,138.6 L571.53,138.56 L571.78,138.52 L572.03,138.47 L572.28,138.41 L572.53,138.35 L572.78,138.29 L573.03,138.21 L573.28,138.13 L573.53,138.04 L573.78,137.95 L574.03,137.85 L574.28,137.74 L574.53,137.62 L574.78,137.5 L575.03,137.37 L575.28,137.24 L575.53,137.09 L575.78,136.94 L576.03,136.78 L576.28,136.61 L576.53,136.43 L576.78,136.25 L577.03,136.05 L577.28,135.85 L577.53,135.64 L577.78,135.43 L578.03,135.2 L578.28,134.96 L578.53,134.72 L578.78,134.47 L579.03,134.21 L579.28,133.94 L579.53,133.66 L579.78,133.38 L580.03,133.08 L580.28,132.78 L580.53,132.47 L580.78,132.16 L581.03,131.83 L581.28,131.5 L581.53,131.16 L581.78,130.82 L582.03,130.47 L582.28,130.11 L582.53,129.75 L582.78,129.38 L583.03,129 L583.28,128.62 L583.53,128.24 L583.78,127.85 L584.03,127.46 L584.28,127.07 L584.53,126.67 L584.78,126.27 L585.03,125.87 L585.28,125.47 L585.53,125.06 L585.78,124.66 L586.03,124.26 L586.28,123.86 L586.53,123.45 L586.78,123.05 L587.03,122.66 L587.28,122.26 L587.53,121.87 L587.78,121.48 L588.03,121.1 L588.28,120.72 L588.53,120.35 L588.78,119.98 L589.03,119.62 L589.28,119.27 L589.53,118.93 L589.78,118.59 L590.03,118.26 L590.28,117.94 L590.53,117.63 L590.78,117.32 L591.03,117.03 L591.28,116.75 L591.53,116.48 L591.78,116.22 L592.03,115.98 L592.28,115.74 L592.53,115.52 L592.78,115.31 L593.03,115.11 L593.28,114.92 L593.53,114.75 L593.78,114.59 L594.03,114.45 L594.28,114.31 L594.53,114.2 L594.78,114.09 L595.03,114 L595.28,113.93 L595.53,113.87 L595.78,113.82 L596.03,113.78 L596.28,113.76 L596.53,113.76 L596.78,113.77 L597.03,113.79 L597.28,113.83 L597.53,113.88 L597.78,113.94 L598.03,114.01 L598.28,114.1 L598.53,114.21 L598.78,114.32 L599.03,114.45 L599.28,114.59 L599.53,114.74 L599.78,114.9 L600.03,115.08 L600.28,115.26 L600.53,115.46 L600.78,115.66 L601.03,115.88 L601.28,116.11 L601.53,116.34 L601.78,116.59 L602.03,116.84 L602.28,117.1 L602.53,117.37 L602.78,117.65 L603.03,117.93 L603.28,118.22 L603.53,118.52 L603.78,118.83 L604.03,119.13 L604.28,119.45 L604.53,119.77 L604.78,120.09 L605.03,120.42 L605.28,120.75 L605.53,121.09 L605.78,121.42 L606.03,121.76 L606.28,122.11 L606.53,122.45 L606.78,122.8 L607.03,123.15 L607.28,123.49 L607.53,123.84 L607.78,124.19 L608.03,124.54 L608.28,124.89 L608.53,125.24 L608.78,125.59 L609.03,125.93 L609.28,126.28 L609.53,126.62 L609.78,126.96 L610.03,127.3 L610.28,127.64 L610.53,127.97 L610.78,128.3 L611.03,128.63 L611.28,128.96 L611.53,129.28 L611.78,129.6 L612.03,129.91 L612.28,130.22 L612.53,130.53 L612.78,130.83 L613.03,131.13 L613.28,131.42 L613.53,131.71 L613.78,131.99 L614.03,132.27 L614.28,132.55 L614.53,132.82 L614.78,133.08 L615.03,133.35 L615.28,133.6 L615.53,133.85 L615.78,134.1 L616.03,134.34 L616.28,134.57 L616.53,134.8 L616.78,135.03 L617.03,135.25 L617.28,135.47 L617.53,135.68 L617.78,135.88 L618.03,136.08 L618.28,136.28 L618.53,136.47 L618.78,136.65 L619.03,136.84 L619.28,137.01 L619.53,137.18 L619.78,137.35 L620.03,137.51 L620.28,137.67 L620.53,137.82 L620.78,137.97 L621.03,138.12 L621.28,138.26 L621.53,138.39 L621.78,138.52 L622.03,138.65 L622.28,138.77 L622.53,138.89 L622.78,139.01 L623.03,139.12 L623.28,139.23 L623.53,139.33 L623.78,139.44 L624.03,139.53 L624.28,139.63 L624.53,139.72 L624.78,139.81 L625.03,139.89 L625.28,139.97 L625.53,140.05 L625.78,140.13 L626.03,140.2 L626.28,140.27 L626.53,140.34 L626.78,140.4 L627.03,140.47 L627.28,140.53 L627.53,140.59 L627.78,140.64 L628.03,140.69 L628.28,140.75 L628.53,140.79 L628.78,140.84 L629.03,140.89 L629.28,140.93 L629.53,140.97 L629.78,141.01 L630.03,141.05 L630.28,141.09 L630.53,141.12 L630.78,141.15 L631.03,141.19 L631.28,141.22 L631.53,141.25 L631.78,141.27 L632.03,141.3 L632.28,141.33 L632.53,141.35 L632.78,141.37 L633.03,141.4 L633.28,141.42 L633.53,141.44 L633.78,141.46 L634.03,141.47 L634.28,141.49 L634.53,141.51 L634.78,141.52 L635.03,141.54 L635.28,141.55 L635.53,141.57 L635.78,141.58 L636.03,141.59 L636.28,141.6 L636.53,141.61 L636.78,141.62 L637.03,141.63 L637.28,141.64 L637.53,141.65 L637.78,141.66" stroke="#d82a35" stroke-width="1.2"/>
<path d="M371.03,141.8 L371.28,141.8 L371.53,141.8 L371.78,141.8 L372.03,141.8 L372.28,141.8 L372.53,141.8 L372.78,141.8 L373.03,141.8 L373.28,141.8 L373.53,141.8 L373.78,141.8 L374.03,141.8 L374.28,141.8 L374.53,141.8 L374.78,141.8 L375.03,141.8 L375.28,141.8 L375.53,141.8 L375.78,141.8 L376.03,141.8 L376.28,141.8 L376.53,141.8 L376.78,141.8 L377.03,141.8 L377.28,141.8 L377.53,141.8 L377.78,141.8 L378.03,141.8 L378.28,141.8 L378.53,141.8 L378.78,141.8 L379.03,141.8 L379.28,141.8 L379.53,141.8 L379.78,141.8 L380.03,141.79 L380.28,141.79 L380.53,141.79 L380.78,141.79 L381.03,141.79 L381.28,141.79 L381.53,141.79 L381.78,141.79 L382.03,141.79 L382.28,141.79 L382.53,141.79 L382.78,141.79 L383.03,141.79 L383.28,141.79 L383.53,141.79 L383.78,141.79 L384.03,141.78 L384.28,141.78 L384.53,141.78 L384.78,141.78 L385.03,141.78 L385.28,141.78 L385.53,141.78 L385.78,141.78 L386.03,141.77 L386.28,141.77 L386.53,141.77 L386.78,141.77 L387.03,141.77 L387.28,141.77 L387.53,141.76 L387.78,141.76 L388.03,141.76 L388.28,141.76 L388.53,141.75 L388.78,141.75 L389.03,141.75 L389.28,141.74 L389.53,141.74 L389.78,141.74 L390.03,141.73 L390.28,141.73 L390.53,141.72 L390.78,141.72 L391.03,141.71 L391.28,141.71 L391.53,141.7 L391.78,141.7 L392.03,141.69 L392.28,141.69 L392.53,141.68 L392.78,141.67 L393.03,141.66 L393.28,141.66 L393.53,141.65 L393.78,141.64 L394.03,141.63 L394.28,141.62 L394.53,141.61 L394.78,141.6 L395.03,141.59 L395.28,141.58 L395.53,141.56 L395.78,141.55 L396.03,141.54 L396.28,141.52 L396.53,141.51 L396.78,141.49 L397.03,141.47 L397.28,141.45 L397.53,141.44 L397.78,141.42 L398.03,141.4 L398.28,141.37 L398.53,141.35 L398.78,141.33 L399.03,141.3 L399.28,141.28 L399.53,141.25 L399.78,141.22 L400.03,141.19 L400.28,141.16 L400.53,141.13 L400.78,141.09 L401.03,141.06 L401.28,141.02 L401.53,140.98 L401.78,140.94 L402.03,140.89 L402.28,140.85 L402.53,140.8 L402.78,140.75 L403.03,140.7 L403.28,140.65 L403.53,140.59 L403.78,140.54 L404.03,140.48 L404.28,140.41 L404.53,140.35 L404.78,140.28 L405.03,140.21 L405.28,140.14 L405.53,140.06 L405.78,139.98 L406.03,139.9 L406.28,139.81 L406.53,139.72 L406.78,139.63 L407.03,139.53 L407.28,139.43 L407.53,139.33 L407.78,139.22 L408.03,139.11 L408.28,138.99 L408.53,138.87 L408.78,138.74 L409.03,138.61 L409.28,138.48 L409.53,138.34 L409.78,138.2 L410.03,138.05 L410.28,137.89 L410.53,137.73 L410.78,137.57 L411.03,137.4 L411.28,137.22 L411.53,137.04 L411.78,136.85 L412.03,136.66 L412.28,136.46 L412.53,136.25 L412.78,136.04 L413.03,135.82 L413.28,135.6 L413.53,135.37 L413.78,135.13 L414.03,134.88 L414.28,134.63 L414.53,134.37 L414.78,134.1 L415.03,133.82 L415.28,133.54 L415.53,133.25 L415.78,132.95 L416.03,132.65 L416.28,132.33 L416.53,132.01 L416.78,131.68 L417.03,131.34 L417.28,131 L417.53,130.64 L417.78,130.28 L418.03,129.91 L418.28,129.53 L418.53,129.14 L418.78,128.74 L419.03,128.34 L419.28,127.93 L419.53,127.51 L419.78,127.08 L420.03,126.64 L420.28,126.19 L420.53,125.74 L420.78,125.27 L421.03,124.8 L421.28,124.32 L421.53,123.83 L421.78,123.34 L422.03,122.84 L422.28,122.33 L422.53,121.81 L422.78,121.28 L423.03,120.75 L423.28,120.21 L423.53,119.66 L423.78,119.11 L424.03,118.55 L424.28,117.99 L424.53,117.42 L424.78,116.84 L425.03,116.26 L425.28,115.68 L425.53,115.09 L425.78,114.5 L426.03,113.9 L426.28,113.3 L426.53,112.7 L426.78,112.09 L427.03,111.48 L427.28,110.87 L427.53,110.26 L427.78,109.65 L428.03,109.04 L428.28,108.43 L428.53,107.82 L428.78,107.22 L429.03,106.61 L429.28,106.01 L429.53,105.41 L429.78,104.82 L430.03,104.23 L430.28,103.65 L430.53,103.07 L430.78,102.5 L431.03,101.93 L431.28,101.38 L431.53,100.83 L431.78,100.29 L432.03,99.77 L432.28,99.25 L432.53,98.75 L432.78,98.26 L433.03,97.78 L433.28,97.32 L433.53,96.87 L433.78,96.43 L434.03,96.02 L434.28,95.62 L434.53,95.23 L434.78,94.87 L435.03,94.53 L435.28,94.2 L435.53,93.9 L435.78,93.62 L436.03,93.36 L436.28,93.12 L436.53,92.91 L436.78,92.72 L437.03,92.56 L437.28,92.42 L437.53,92.31 L437.78,92.22 L438.03,92.16 L438.28,92.13 L438.53,92.13 L438.78,92.16 L439.03,92.21 L439.28,92.3 L439.53,92.41 L439.78,92.56 L440.03,92.73 L440.28,92.94 L440.53,93.18 L440.78,93.45 L441.03,93.74 L441.28,94.07 L441.53,94.44 L441.78,94.83 L442.03,95.25 L442.28,95.71 L442.53,96.19 L442.78,96.71 L443.03,97.25 L443.28,97.83 L443.53,98.43 L443.78,99.06 L444.03,99.73 L444.28,100.41 L444.53,101.13 L444.78,101.87 L445.03,102.64 L445.28,103.43 L445.53,104.25 L445.78,105.09 L446.03,105.95 L446.28,106.83 L446.53,107.73 L446.78,108.65 L447.03,109.58 L447.28,110.53 L447.53,111.5 L447.78,112.48 L448.03,113.47 L448.28,114.47 L448.53,115.48 L448.78,116.49 L449.03,117.51 L449.28,118.53 L449.53,119.56 L449.78,120.58 L450.03,121.6 L450.28,122.62 L450.53,123.63 L450.78,124.64 L451.03,125.63 L451.28,126.62 L451.53,127.59 L451.78,128.54 L452.03,129.48 L452.28,130.4 L452.53,131.29 L452.78,132.16 L453.03,133.01 L453.28,133.83 L453.53,134.62 L453.78,135.38 L454.03,136.1 L454.28,136.79 L454.53,137.45 L454.78,138.06 L455.03,138.63 L455.28,139.16 L455.53,139.65 L455.78,140.09 L456.03,140.49 L456.28,140.83 L456.53,141.13 L456.78,141.37 L457.03,141.56 L457.28,141.69 L457.53,141.78 L457.78,141.8 L458.03,141.77 L458.28,141.68 L458.53,141.53 L458.78,141.32 L459.03,141.05 L459.28,140.72 L459.53,140.33 L459.78,139.87 L460.03,139.36 L460.28,138.79 L460.53,138.15 L460.78,137.45 L461.03,136.7 L461.28,135.88 L461.53,135 L461.78,134.06 L462.03,133.07 L462.28,132.02 L462.53,130.91 L462.78,129.75 L463.03,128.53 L463.28,127.27 L463.53,125.95 L463.78,124.58 L464.03,123.17 L464.28,121.71 L464.53,120.2 L464.78,118.66 L465.03,117.08 L465.28,115.46 L465.53,113.81 L465.78,112.12 L466.03,110.41 L466.28,108.67 L466.53,106.91 L466.78,105.12 L467.03,103.32 L467.28,101.5 L467.53,99.68 L467.78,97.84 L468.03,95.99 L468.28,94.15 L468.53,92.3 L468.78,90.46 L469.03,88.62 L469.28,86.8 L469.53,84.99 L469.78,83.19 L470.03,81.42 L470.28,79.66 L470.53,77.94 L470.78,76.24 L471.03,74.57 L471.28,72.94 L471.53,71.35 L471.78,69.8 L472.03,68.29 L472.28,66.83 L472.53,65.42 L472.78,64.06 L473.03,62.76 L473.28,61.51 L473.53,60.32 L473.78,59.2 L474.03,58.13 L474.28,57.14 L474.53,56.21 L474.78,55.35 L475.03,54.56 L475.28,53.84 L475.53,53.2 L475.78,52.63 L476.03,52.13 L476.28,51.71 L476.53,51.37 L476.78,51.11 L477.03,50.93 L477.28,50.82 L477.53,50.79 L477.78,50.84 L478.03,50.97 L478.28,51.18 L478.53,51.46 L478.78,51.82 L479.03,52.25 L479.28,52.76 L479.53,53.34 L479.78,54 L480.03,54.72 L480.28,55.52 L480.53,56.38 L480.78,57.3 L481.03,58.29 L481.28,59.34 L481.53,60.45 L481.78,61.62 L482.03,62.84 L482.28,64.12 L482.53,65.44 L482.78,66.81 L483.03,68.22 L483.28,69.68 L483.53,71.17 L483.78,72.7 L484.03,74.26 L484.28,75.85 L484.53,77.47 L484.78,79.11 L485.03,80.77 L485.28,82.44 L485.53,84.14 L485.78,85.84 L486.03,87.55 L486.28,89.27 L486.53,90.99 L486.78,92.7 L487.03,94.42 L487.28,96.13 L487.53,97.83 L487.78,99.51 L488.03,101.19 L488.28,102.84 L488.53,104.48 L488.78,106.1 L489.03,107.69 L489.28,109.26 L489.53,110.79 L489.78,112.3 L490.03,113.78 L490.28,115.22 L490.53,116.63 L490.78,118 L491.03,119.34 L491.28,120.63 L491.53,121.89 L491.78,123.11 L492.03,124.28 L492.28,125.41 L492.53,126.5 L492.78,127.55 L493.03,128.55 L493.28,129.51 L493.53,130.43 L493.78,131.3 L494.03,132.14 L494.28,132.92 L494.53,133.67 L494.78,134.37 L495.03,135.04 L495.28,135.66 L495.53,136.25 L495.78,136.79 L496.03,137.3 L496.28,137.77 L496.53,138.21 L496.78,138.61 L497.03,138.98 L497.28,139.32 L497.53,139.63 L497.78,139.92 L498.03,140.17 L498.28,140.4 L498.53,140.61 L498.78,140.79 L499.03,140.95 L499.28,141.09 L499.53,141.22 L499.78,141.32 L500.03,141.42 L500.28,141.49 L500.53,141.56 L500.78,141.61 L501.03,141.66 L501.28,141.7 L501.53,141.72 L501.78,141.75 L502.03,141.76 L502.28,141.78 L502.53,141.79 L502.78,141.79 L503.03,141.8 L503.28,141.8 L503.53,141.8 L503.78,141.8 L504.03,141.8 L504.28,141.8 L504.53,141.8 L504.78,141.8 L505.03,141.8 L505.28,141.8 L505.53,141.8 L505.78,141.8 L506.03,141.79 L506.28,141.79 L506.53,141.78 L506.78,141.77 L507.03,141.75 L507.28,141.73 L507.53,141.71 L507.78,141.67 L508.03,141.63 L508.28,141.58 L508.53,141.52 L508.78,141.44 L509.03,141.36 L509.28,141.26 L509.53,141.14 L509.78,141 L510.03,140.85 L510.28,140.67 L510.53,140.48 L510.78,140.26 L511.03,140.01 L511.28,139.74 L511.53,139.44 L511.78,139.11 L512.03,138.75 L512.28,138.36 L512.53,137.93 L512.78,137.47 L513.03,136.98 L513.28,136.45 L513.53,135.88 L513.78,135.27 L514.03,134.62 L514.28,133.93 L514.53,133.2 L514.78,132.42 L515.03,131.61 L515.28,130.75 L515.53,129.85 L515.78,128.9 L516.03,127.92 L516.28,126.88 L516.53,125.81 L516.78,124.69 L517.03,123.53 L517.28,122.33 L517.53,121.09 L517.78,119.81 L518.03,118.49 L518.28,117.13 L518.53,115.73 L518.78,114.3 L519.03,112.84 L519.28,111.34 L519.53,109.81 L519.78,108.26 L520.03,106.67 L520.28,105.07 L520.53,103.44 L520.78,101.79 L521.03,100.12 L521.28,98.44 L521.53,96.74 L521.78,95.04 L522.03,93.32 L522.28,91.61 L522.53,89.89 L522.78,88.17 L523.03,86.45 L523.28,84.75 L523.53,83.05 L523.78,81.37 L524.03,79.7 L524.28,78.05 L524.53,76.43 L524.78,74.83 L525.03,73.26 L525.28,71.72 L525.53,70.21 L525.78,68.74 L526.03,67.31 L526.28,65.93 L526.53,64.59 L526.78,63.29 L527.03,62.05 L527.28,60.87 L527.53,59.74 L527.78,58.66 L528.03,57.65 L528.28,56.7 L528.53,55.82 L528.78,55 L529.03,54.25 L529.28,53.57 L529.53,52.96 L529.78,52.43 L530.03,51.96 L530.28,51.58 L530.53,51.27 L530.78,51.03 L531.03,50.88 L531.28,50.8 L531.53,50.8 L531.78,50.88 L532.03,51.04 L532.28,51.27 L532.53,51.58 L532.78,51.97 L533.03,52.44 L533.28,52.98 L533.53,53.6 L533.78,54.29 L534.03,55.06 L534.28,55.89 L534.53,56.8 L534.78,57.77 L535.03,58.81 L535.28,59.91 L535.53,61.08 L535.78,62.3 L536.03,63.59 L536.28,64.93 L536.53,66.32 L536.78,67.76 L537.03,69.25 L537.28,70.79 L537.53,72.37 L537.78,73.98 L538.03,75.64 L538.28,77.32 L538.53,79.04 L538.78,80.78 L539.03,82.55 L539.28,84.34 L539.53,86.15 L539.78,87.97 L540.03,89.8 L540.28,91.64 L540.53,93.48 L540.78,95.33 L541.03,97.17 L541.28,99.01 L541.53,100.85 L541.78,102.67 L542.03,104.48 L542.28,106.27 L542.53,108.04 L542.78,109.79 L543.03,111.51 L543.28,113.2 L543.53,114.87 L543.78,116.5 L544.03,118.1 L544.28,119.65 L544.53,121.17 L544.78,122.65 L545.03,124.08 L545.28,125.46 L545.53,126.8 L545.78,128.08 L546.03,129.32 L546.28,130.5 L546.53,131.63 L546.78,132.7 L547.03,133.71 L547.28,134.67 L547.53,135.57 L547.78,136.41 L548.03,137.19 L548.28,137.91 L548.53,138.56 L548.78,139.16 L549.03,139.7 L549.28,140.17 L549.53,140.58 L549.78,140.94 L550.03,141.23 L550.28,141.46 L550.53,141.63 L550.78,141.74 L551.03,141.79 L551.28,141.79 L551.53,141.73 L551.78,141.61 L552.03,141.44 L552.28,141.22 L552.53,140.94 L552.78,140.62 L553.03,140.24 L553.28,139.81 L553.53,139.34 L553.78,138.83 L554.03,138.27 L554.28,137.67 L554.53,137.03 L554.78,136.36 L555.03,135.64 L555.28,134.9 L555.53,134.12 L555.78,133.31 L556.03,132.47 L556.28,131.61 L556.53,130.72 L556.78,129.81 L557.03,128.88 L557.28,127.93 L557.53,126.97 L557.78,125.99 L558.03,125 L558.28,124 L558.53,122.99 L558.78,121.97 L559.03,120.95 L559.28,119.93 L559.53,118.9 L559.78,117.88 L560.03,116.86 L560.28,115.84 L560.53,114.83 L560.78,113.83 L561.03,112.83 L561.28,111.85 L561.53,110.88 L561.78,109.92 L562.03,108.98 L562.28,108.06 L562.53,107.15 L562.78,106.26 L563.03,105.39 L563.28,104.55 L563.53,103.72 L563.78,102.92 L564.03,102.15 L564.28,101.39 L564.53,100.67 L564.78,99.97 L565.03,99.3 L565.28,98.66 L565.53,98.04 L565.78,97.46 L566.03,96.9 L566.28,96.37 L566.53,95.88 L566.78,95.41 L567.03,94.98 L567.28,94.57 L567.53,94.2 L567.78,93.86 L568.03,93.55 L568.28,93.27 L568.53,93.02 L568.78,92.81 L569.03,92.62 L569.28,92.46 L569.53,92.34 L569.78,92.24 L570.03,92.18 L570.28,92.14 L570.53,92.13 L570.78,92.15 L571.03,92.2 L571.28,92.27 L571.53,92.38 L571.78,92.51 L572.03,92.66 L572.28,92.84 L572.53,93.04 L572.78,93.27 L573.03,93.52 L573.28,93.8 L573.53,94.09 L573.78,94.41 L574.03,94.74 L574.28,95.1 L574.53,95.48 L574.78,95.87 L575.03,96.28 L575.28,96.71 L575.53,97.15 L575.78,97.61 L576.03,98.08 L576.28,98.57 L576.53,99.07 L576.78,99.58 L577.03,100.1 L577.28,100.64 L577.53,101.18 L577.78,101.73 L578.03,102.29 L578.28,102.86 L578.53,103.44 L578.78,104.02 L579.03,104.61 L579.28,105.2 L579.53,105.8 L579.78,106.4 L580.03,107 L580.28,107.61 L580.53,108.21 L580.78,108.82 L581.03,109.43 L581.28,110.04 L581.53,110.65 L581.78,111.26 L582.03,111.87 L582.28,112.48 L582.53,113.08 L582.78,113.68 L583.03,114.28 L583.28,114.88 L583.53,115.47 L583.78,116.05 L584.03,116.64 L584.28,117.21 L584.53,117.79 L584.78,118.35 L585.03,118.91 L585.28,119.47 L585.53,120.02 L585.78,120.56 L586.03,121.09 L586.28,121.62 L586.53,122.14 L586.78,122.65 L587.03,123.16 L587.28,123.66 L587.53,124.15 L587.78,124.63 L588.03,125.1 L588.28,125.57 L588.53,126.03 L588.78,126.48 L589.03,126.92 L589.28,127.35 L589.53,127.78 L589.78,128.19 L590.03,128.6 L590.28,129 L590.53,129.39 L590.78,129.77 L591.03,130.15 L591.28,130.51 L591.53,130.87 L591.78,131.22 L592.03,131.56 L592.28,131.89 L592.53,132.22 L592.78,132.53 L593.03,132.84 L593.28,133.14 L593.53,133.44 L593.78,133.72 L594.03,134 L594.28,134.27 L594.53,134.53 L594.78,134.79 L595.03,135.04 L595.28,135.28 L595.53,135.52 L595.78,135.74 L596.03,135.96 L596.28,136.18 L596.53,136.39 L596.78,136.59 L597.03,136.79 L597.28,136.97 L597.53,137.16 L597.78,137.34 L598.03,137.51 L598.28,137.68 L598.53,137.84 L598.78,137.99 L599.03,138.14 L599.28,138.29 L599.53,138.43 L599.78,138.57 L600.03,138.7 L600.28,138.82 L600.53,138.95 L600.78,139.06 L601.03,139.18 L601.28,139.29 L601.53,139.39 L601.78,139.5 L602.03,139.59 L602.28,139.69 L602.53,139.78 L602.78,139.87 L603.03,139.95 L603.28,140.03 L603.53,140.11 L603.78,140.18 L604.03,140.26 L604.28,140.32 L604.53,140.39 L604.78,140.45 L605.03,140.52 L605.28,140.57 L605.53,140.63 L605.78,140.68 L606.03,140.74 L606.28,140.79 L606.53,140.83 L606.78,140.88 L607.03,140.92 L607.28,140.96 L607.53,141 L607.78,141.04 L608.03,141.08 L608.28,141.11 L608.53,141.15 L608.78,141.18 L609.03,141.21 L609.28,141.24 L609.53,141.27 L609.78,141.29 L610.03,141.32 L610.28,141.34 L610.53,141.37 L610.78,141.39 L611.03,141.41 L611.28,141.43 L611.53,141.45 L611.78,141.47 L612.03,141.48 L612.28,141.5 L612.53,141.52 L612.78,141.53 L613.03,141.54 L613.28,141.56 L613.53,141.57 L613.78,141.58 L614.03,141.59 L614.28,141.61 L614.53,141.62 L614.78,141.63 L615.03,141.64 L615.28,141.64 L615.53,141.65 L615.78,141.66 L616.03,141.67 L616.28,141.68 L616.53,141.68 L616.78,141.69 L617.03,141.7 L617.28,141.7 L617.53,141.71 L617.78,141.71 L618.03,141.72 L618.28,141.72 L618.53,141.73 L618.78,141.73 L619.03,141.73 L619.28,141.74 L619.53,141.74 L619.78,141.75 L620.03,141.75 L620.28,141.75 L620.53,141.75 L620.78,141.76 L621.03,141.76 L621.28,141.76 L621.53,141.76 L621.78,141.77 L622.03,141.77 L622.28,141.77 L622.53,141.77 L622.78,141.77 L623.03,141.78 L623.28,141.78 L623.53,141.78 L623.78,141.78 L624.03,141.78 L624.28,141.78 L624.53,141.78 L624.78,141.78 L625.03,141.79 L625.28,141.79 L625.53,141.79 L625.78,141.79 L626.03,141.79 L626.28,141.79 L626.53,141.79 L626.78,141.79 L627.03,141.79 L627.28,141.79 L627.53,141.79 L627.78,141.79 L628.03,141.79 L628.28,141.79 L628.53,141.79 L628.78,141.79 L629.03,141.79 L629.28,141.8 L629.53,141.8 L629.78,141.8 L630.03,141.8 L630.28,141.8 L630.53,141.8 L630.78,141.8 L631.03,141.8 L631.28,141.8 L631.53,141.8 L631.78,141.8 L632.03,141.8 L632.28,141.8 L632.53,141.8 L632.78,141.8 L633.03,141.8 L633.28,141.8 L633.53,141.8 L633.78,141.8 L634.03,141.8 L634.28,141.8 L634.53,141.8 L634.78,141.8 L635.03,141.8 L635.28,141.8 L635.53,141.8 L635.78,141.8 L636.03,141.8 L636.28,141.8 L636.53,141.8 L636.78,141.8 L637.03,141.8 L637.28,141.8 L637.53,141.8 L637.78,141.8" stroke="#8a8a8a" stroke-width="1.05" stroke-dasharray="1.6 1.4"/>
</g>
<text x="365.05" y="145.3" text-anchor="end" style="font-family:&quot;Liberation Serif&quot;,serif;font-size:11.5px;" >0.0</text>
<text x="365.05" y="119.79" text-anchor="end" style="font-family:&quot;Liberation Serif&quot;,serif;font-size:11.5px;" >0.2</text>
<text x="365.05" y="94.28" text-anchor="end" style="font-family:&quot;Liberation Serif&quot;,serif;font-size:11.5px;" >0.4</text>
<text x="365.05" y="68.76" text-anchor="end" style="font-family:&quot;Liberation Serif&quot;,serif;font-size:11.5px;" >0.6</text>
<text x="365.05" y="43.25" text-anchor="end" style="font-family:&quot;Liberation Serif&quot;,serif;font-size:11.5px;" >0.8</text>
<text x="365.05" y="17.74" text-anchor="end" style="font-family:&quot;Liberation Serif&quot;,serif;font-size:11.5px;" >1.0</text>
<text x="390.09" y="157.3" text-anchor="middle" style="font-family:&quot;Liberation Serif&quot;,serif;font-size:11.5px;" >-3</text>
<text x="428.21" y="157.3" text-anchor="middle" style="font-family:&quot;Liberation Serif&quot;,serif;font-size:11.5px;" >-2</text>
<text x="466.33" y="157.3" text-anchor="middle" style="font-family:&quot;Liberation Serif&quot;,serif;font-size:11.5px;" >-1</text>
<text x="504.45" y="157.3" text-anchor="middle" style="font-family:&quot;Liberation Serif&quot;,serif;font-size:11.5px;" >0</text>
<text x="542.57" y="157.3" text-anchor="middle" style="font-family:&quot;Liberation Serif&quot;,serif;font-size:11.5px;" >1</text>
<text x="580.69" y="157.3" text-anchor="middle" style="font-family:&quot;Liberation Serif&quot;,serif;font-size:11.5px;" >2</text>
<text x="618.81" y="157.3" text-anchor="middle" style="font-family:&quot;Liberation Serif&quot;,serif;font-size:11.5px;" >3</text>
<text x="505.1" y="171.9" text-anchor="middle" style="font-family:&quot;Liberation Serif&quot;,serif;font-size:13px;" >distance <tspan style="font-style:italic">x</tspan>/<tspan style="font-style:italic">w</tspan></text>
<text x="0" y="0" text-anchor="start" style="font-family:&quot;Liberation Serif&quot;,serif;font-size:13px;" transform="translate(340.8,113.6) rotate(-90)">intensity [a.u.]</text>
<text x="327.7" y="10.3" text-anchor="start" style="font-family:&quot;Liberation Serif&quot;,serif;font-size:14.5px;" >(c)</text>
<text x="628.4" y="21.7" text-anchor="end" style="font-family:&quot;Liberation Serif&quot;,serif;font-size:13.5px;" >= 0</text>
<g transform="translate(599,15.4)" fill="none" stroke="#000" stroke-linecap="round"><path d="M1.6,0.4 C1.2,2.0 0.5,3.9 0.8,5.2 C1.1,6.3 2.3,6.6 3.4,6.1" stroke-width="1.3"/><path d="M3.4,6.1 C5.2,5.3 6.9,2.8 8.4,0.4" stroke-width="0.95"/><path d="M4.9,0.9 L1.6,8.6" stroke-width="0.85"/></g>
<path d="M375.7,10.7 H403" stroke="#3f30ff" stroke-width="1.2"/>
<text x="405.6" y="14.6" text-anchor="start" style="font-family:&quot;Liberation Serif&quot;,serif;font-size:12px;" >max. slit</text>
<path d="M375.7,25.8 H403" stroke="#d82a35" stroke-width="1.2"/>
<text x="405.6" y="29.7" text-anchor="start" style="font-family:&quot;Liberation Serif&quot;,serif;font-size:12px;" >max. overlap</text>
<clipPath id="clipd"><rect x="371.4" y="187.2" width="267" height="142.3"/></clipPath>
<g stroke="#333" stroke-width="1" fill="none">
<path d="M371.4,187.2 H638.4 V327.5"/>
<path d="M371.4,187.2 V329.7"/>
<path d="M371.4,327.5 h-4 M371.4,314.77 h-2 M371.4,302.04 h-4 M371.4,289.31 h-2 M371.4,276.58 h-4 M371.4,263.85 h-2 M371.4,251.12 h-4 M371.4,238.39 h-2 M371.4,225.66 h-4 M371.4,212.93 h-2 M371.4,200.2 h-4 M371.4,187.47 h-2 M390.46,327.5 v4 M409.55,327.5 v2 M428.64,327.5 v4 M447.73,327.5 v2 M466.82,327.5 v4 M485.91,327.5 v2 M505,327.5 v4 M524.09,327.5 v2 M543.18,327.5 v4 M562.27,327.5 v2 M581.36,327.5 v4 M600.45,327.5 v2 M619.54,327.5 v4"/>
</g>
<g clip-path="url(#clipd)" fill="none" stroke-linejoin="round">
<path d="M376.12,327 L376.37,326.97 L376.62,326.94 L376.87,326.91 L377.12,326.88 L377.37,326.85 L377.62,326.82 L377.87,326.79 L378.12,326.75 L378.37,326.71 L378.62,326.67 L378.87,326.63 L379.12,326.59 L379.37,326.55 L379.62,326.5 L379.87,326.45 L380.12,326.4 L380.37,326.35 L380.62,326.29 L380.87,326.24 L381.12,326.18 L381.37,326.12 L381.62,326.05 L381.87,325.99 L382.12,325.92 L382.37,325.85 L382.62,325.77 L382.87,325.7 L383.12,325.62 L383.37,325.53 L383.62,325.45 L383.87,325.36 L384.12,325.26 L384.37,325.17 L384.62,325.07 L384.87,324.96 L385.12,324.86 L385.37,324.75 L385.62,324.63 L385.87,324.51 L386.12,324.39 L386.37,324.27 L386.62,324.14 L386.87,324 L387.12,323.86 L387.37,323.72 L387.62,323.57 L387.87,323.42 L388.12,323.26 L388.37,323.1 L388.62,322.93 L388.87,322.76 L389.12,322.58 L389.37,322.4 L389.62,322.21 L389.87,322.02 L390.12,321.82 L390.37,321.62 L390.62,321.41 L390.87,321.2 L391.12,320.98 L391.37,320.76 L391.62,320.53 L391.87,320.29 L392.12,320.05 L392.37,319.8 L392.62,319.55 L392.87,319.29 L393.12,319.02 L393.37,318.75 L393.62,318.47 L393.87,318.19 L394.12,317.9 L394.37,317.61 L394.62,317.31 L394.87,317 L395.12,316.69 L395.37,316.37 L395.62,316.05 L395.87,315.72 L396.12,315.39 L396.37,315.05 L396.62,314.7 L396.87,314.35 L397.12,314 L397.37,313.64 L397.62,313.27 L397.87,312.9 L398.12,312.53 L398.37,312.15 L398.62,311.77 L398.87,311.38 L399.12,310.99 L399.37,310.59 L399.62,310.19 L399.87,309.79 L400.12,309.38 L400.37,308.97 L400.62,308.56 L400.87,308.15 L401.12,307.73 L401.37,307.31 L401.62,306.89 L401.87,306.47 L402.12,306.05 L402.37,305.62 L402.62,305.2 L402.87,304.77 L403.12,304.35 L403.37,303.93 L403.62,303.5 L403.87,303.08 L404.12,302.66 L404.37,302.24 L404.62,301.82 L404.87,301.41 L405.12,301 L405.37,300.59 L405.62,300.19 L405.87,299.79 L406.12,299.39 L406.37,299 L406.62,298.61 L406.87,298.23 L407.12,297.86 L407.37,297.49 L407.62,297.13 L407.87,296.78 L408.12,296.43 L408.37,296.09 L408.62,295.76 L408.87,295.44 L409.12,295.13 L409.37,294.83 L409.62,294.54 L409.87,294.25 L410.12,293.98 L410.37,293.72 L410.62,293.47 L410.87,293.23 L411.12,293 L411.37,292.79 L411.62,292.58 L411.87,292.39 L412.12,292.21 L412.37,292.05 L412.62,291.9 L412.87,291.76 L413.12,291.63 L413.37,291.52 L413.62,291.42 L413.87,291.34 L414.12,291.27 L414.37,291.21 L414.62,291.17 L414.87,291.14 L415.12,291.13 L415.37,291.13 L415.62,291.14 L415.87,291.17 L416.12,291.21 L416.37,291.27 L416.62,291.34 L416.87,291.43 L417.12,291.52 L417.37,291.63 L417.62,291.76 L417.87,291.9 L418.12,292.05 L418.37,292.21 L418.62,292.39 L418.87,292.57 L419.12,292.77 L419.37,292.98 L419.62,293.2 L419.87,293.44 L420.12,293.68 L420.37,293.93 L420.62,294.2 L420.87,294.47 L421.12,294.75 L421.37,295.04 L421.62,295.33 L421.87,295.64 L422.12,295.95 L422.37,296.27 L422.62,296.59 L422.87,296.92 L423.12,297.25 L423.37,297.59 L423.62,297.94 L423.87,298.28 L424.12,298.63 L424.37,298.98 L424.62,299.34 L424.87,299.7 L425.12,300.05 L425.37,300.41 L425.62,300.77 L425.87,301.13 L426.12,301.48 L426.37,301.84 L426.62,302.2 L426.87,302.55 L427.12,302.9 L427.37,303.24 L427.62,303.59 L427.87,303.93 L428.12,304.26 L428.37,304.59 L428.62,304.92 L428.87,305.24 L429.12,305.56 L429.37,305.87 L429.62,306.17 L429.87,306.46 L430.12,306.75 L430.37,307.04 L430.62,307.31 L430.87,307.58 L431.12,307.84 L431.37,308.09 L431.62,308.33 L431.87,308.57 L432.12,308.79 L432.37,309.01 L432.62,309.21 L432.87,309.41 L433.12,309.6 L433.37,309.78 L433.62,309.95 L433.87,310.11 L434.12,310.26 L434.37,310.4 L434.62,310.53 L434.87,310.65 L435.12,310.76 L435.37,310.86 L435.62,310.95 L435.87,311.03 L436.12,311.09 L436.37,311.15 L436.62,311.2 L436.87,311.24 L437.12,311.26 L437.37,311.28 L437.62,311.28 L437.87,311.28 L438.12,311.26 L438.37,311.23 L438.62,311.2 L438.87,311.15 L439.12,311.09 L439.37,311.02 L439.62,310.95 L439.87,310.86 L440.12,310.76 L440.37,310.65 L440.62,310.53 L440.87,310.41 L441.12,310.27 L441.37,310.12 L441.62,309.96 L441.87,309.8 L442.12,309.63 L442.37,309.44 L442.62,309.25 L442.87,309.05 L443.12,308.85 L443.37,308.63 L443.62,308.41 L443.87,308.19 L444.12,307.95 L444.37,307.71 L444.62,307.47 L444.87,307.22 L445.12,306.97 L445.37,306.71 L445.62,306.45 L445.87,306.19 L446.12,305.93 L446.37,305.67 L446.62,305.4 L446.87,305.14 L447.12,304.88 L447.37,304.62 L447.62,304.36 L447.87,304.11 L448.12,303.86 L448.37,303.62 L448.62,303.39 L448.87,303.16 L449.12,302.94 L449.37,302.74 L449.62,302.54 L449.87,302.35 L450.12,302.18 L450.37,302.02 L450.62,301.88 L450.87,301.75 L451.12,301.64 L451.37,301.55 L451.62,301.48 L451.87,301.43 L452.12,301.39 L452.37,301.38 L452.62,301.4 L452.87,301.43 L453.12,301.49 L453.37,301.58 L453.62,301.69 L453.87,301.82 L454.12,301.99 L454.37,302.18 L454.62,302.4 L454.87,302.64 L455.12,302.92 L455.37,303.22 L455.62,303.55 L455.87,303.91 L456.12,304.29 L456.37,304.71 L456.62,305.15 L456.87,305.62 L457.12,306.11 L457.37,306.63 L457.62,307.17 L457.87,307.74 L458.12,308.32 L458.37,308.93 L458.62,309.56 L458.87,310.21 L459.12,310.87 L459.37,311.55 L459.62,312.24 L459.87,312.94 L460.12,313.66 L460.37,314.38 L460.62,315.1 L460.87,315.83 L461.12,316.55 L461.37,317.28 L461.62,318 L461.87,318.71 L462.12,319.41 L462.37,320.1 L462.62,320.78 L462.87,321.44 L463.12,322.07 L463.37,322.69 L463.62,323.28 L463.87,323.84 L464.12,324.37 L464.37,324.86 L464.62,325.32 L464.87,325.75 L465.12,326.13 L465.37,326.47 L465.62,326.76 L465.87,327.01 L466.12,327.21 L466.37,327.36 L466.62,327.45 L466.87,327.5 L467.12,327.49 L467.37,327.42 L467.62,327.3 L467.87,327.12 L468.12,326.89 L468.37,326.59 L468.62,326.24 L468.87,325.84 L469.12,325.38 L469.37,324.86 L469.62,324.29 L469.87,323.66 L470.12,322.98 L470.37,322.26 L470.62,321.48 L470.87,320.66 L471.12,319.8 L471.37,318.9 L471.62,317.96 L471.87,316.98 L472.12,315.98 L472.37,314.94 L472.62,313.89 L472.87,312.81 L473.12,311.72 L473.37,310.61 L473.62,309.5 L473.87,308.38 L474.12,307.27 L474.37,306.16 L474.62,305.07 L474.87,303.99 L475.12,302.92 L475.37,301.89 L475.62,300.88 L475.87,299.91 L476.12,298.97 L476.37,298.08 L476.62,297.23 L476.87,296.44 L477.12,295.7 L477.37,295.02 L477.62,294.4 L477.87,293.85 L478.12,293.37 L478.37,292.96 L478.62,292.62 L478.87,292.36 L479.12,292.18 L479.37,292.08 L479.62,292.07 L479.87,292.13 L480.12,292.28 L480.37,292.51 L480.62,292.82 L480.87,293.22 L481.12,293.7 L481.37,294.25 L481.62,294.89 L481.87,295.6 L482.12,296.39 L482.37,297.24 L482.62,298.16 L482.87,299.14 L483.12,300.19 L483.37,301.28 L483.62,302.43 L483.87,303.61 L484.12,304.84 L484.37,306.1 L484.62,307.38 L484.87,308.68 L485.12,309.99 L485.37,311.31 L485.62,312.63 L485.87,313.93 L486.12,315.22 L486.37,316.49 L486.62,317.72 L486.87,318.92 L487.12,320.07 L487.37,321.16 L487.62,322.19 L487.87,323.15 L488.12,324.03 L488.37,324.83 L488.62,325.53 L488.87,326.14 L489.12,326.65 L489.37,327.04 L489.62,327.31 L489.87,327.47 L490.12,327.49 L490.37,327.39 L490.62,327.15 L490.87,326.77 L491.12,326.24 L491.37,325.57 L491.62,324.75 L491.87,323.78 L492.12,322.66 L492.37,321.39 L492.62,319.97 L492.87,318.39 L493.12,316.67 L493.37,314.8 L493.62,312.79 L493.87,310.63 L494.12,308.33 L494.37,305.9 L494.62,303.35 L494.87,300.66 L495.12,297.87 L495.37,294.96 L495.62,291.94 L495.87,288.83 L496.12,285.63 L496.37,282.35 L496.62,279.01 L496.87,275.59 L497.12,272.13 L497.37,268.63 L497.62,265.09 L497.87,261.54 L498.12,257.97 L498.37,254.4 L498.62,250.84 L498.87,247.31 L499.12,243.81 L499.37,240.36 L499.62,236.96 L499.87,233.62 L500.12,230.37 L500.37,227.2 L500.62,224.13 L500.87,221.17 L501.12,218.32 L501.37,215.61 L501.62,213.03 L501.87,210.6 L502.12,208.32 L502.37,206.2 L502.62,204.25 L502.87,202.47 L503.12,200.88 L503.37,199.47 L503.62,198.25 L503.87,197.23 L504.12,196.41 L504.37,195.79 L504.62,195.38 L504.87,195.17 L505.12,195.16 L505.37,195.36 L505.62,195.77 L505.87,196.38 L506.12,197.2 L506.37,198.21 L506.62,199.42 L506.87,200.82 L507.12,202.4 L507.37,204.17 L507.62,206.12 L507.87,208.23 L508.12,210.5 L508.37,212.93 L508.62,215.5 L508.87,218.21 L509.12,221.05 L509.37,224.01 L509.62,227.07 L509.87,230.24 L510.12,233.49 L510.37,236.82 L510.62,240.22 L510.87,243.67 L511.12,247.17 L511.37,250.7 L511.62,254.26 L511.87,257.82 L512.12,261.39 L512.37,264.95 L512.62,268.49 L512.87,271.99 L513.12,275.46 L513.37,278.87 L513.62,282.22 L513.87,285.5 L514.12,288.7 L514.37,291.82 L514.62,294.84 L514.87,297.75 L515.12,300.56 L515.37,303.24 L515.62,305.8 L515.87,308.24 L516.12,310.54 L516.37,312.7 L516.62,314.72 L516.87,316.6 L517.12,318.33 L517.37,319.91 L517.62,321.34 L517.87,322.61 L518.12,323.74 L518.37,324.71 L518.62,325.54 L518.87,326.22 L519.12,326.75 L519.37,327.13 L519.62,327.38 L519.87,327.49 L520.12,327.47 L520.37,327.32 L520.62,327.05 L520.87,326.66 L521.12,326.16 L521.37,325.56 L521.62,324.86 L521.87,324.06 L522.12,323.18 L522.37,322.23 L522.62,321.2 L522.87,320.11 L523.12,318.97 L523.37,317.77 L523.62,316.54 L523.87,315.28 L524.12,313.99 L524.37,312.68 L524.62,311.36 L524.87,310.04 L525.12,308.73 L525.37,307.43 L525.62,306.15 L525.87,304.89 L526.12,303.66 L526.37,302.47 L526.62,301.33 L526.87,300.23 L527.12,299.19 L527.37,298.2 L527.62,297.28 L527.87,296.42 L528.12,295.63 L528.37,294.92 L528.62,294.28 L528.87,293.72 L529.12,293.24 L529.37,292.84 L529.62,292.52 L529.87,292.29 L530.12,292.14 L530.37,292.07 L530.62,292.08 L530.87,292.18 L531.12,292.36 L531.37,292.61 L531.62,292.94 L531.87,293.35 L532.12,293.83 L532.37,294.38 L532.62,294.99 L532.87,295.67 L533.12,296.41 L533.37,297.2 L533.62,298.04 L533.87,298.93 L534.12,299.87 L534.37,300.84 L534.62,301.85 L534.87,302.88 L535.12,303.94 L535.37,305.02 L535.62,306.12 L535.87,307.23 L536.12,308.34 L536.37,309.45 L536.62,310.57 L536.87,311.67 L537.12,312.77 L537.37,313.84 L537.62,314.9 L537.87,315.94 L538.12,316.94 L538.37,317.92 L538.62,318.86 L538.87,319.77 L539.12,320.63 L539.37,321.45 L539.62,322.23 L539.87,322.96 L540.12,323.64 L540.37,324.26 L540.62,324.84 L540.87,325.36 L541.12,325.82 L541.37,326.23 L541.62,326.58 L541.87,326.88 L542.12,327.11 L542.37,327.29 L542.62,327.42 L542.87,327.49 L543.12,327.5 L543.37,327.46 L543.62,327.36 L543.87,327.21 L544.12,327.02 L544.37,326.77 L544.62,326.48 L544.87,326.14 L545.12,325.76 L545.37,325.34 L545.62,324.88 L545.87,324.39 L546.12,323.86 L546.37,323.3 L546.62,322.71 L546.87,322.1 L547.12,321.46 L547.37,320.8 L547.62,320.13 L547.87,319.44 L548.12,318.74 L548.37,318.02 L548.62,317.3 L548.87,316.58 L549.12,315.85 L549.37,315.13 L549.62,314.4 L549.87,313.68 L550.12,312.97 L550.37,312.27 L550.62,311.58 L550.87,310.9 L551.12,310.24 L551.37,309.59 L551.62,308.96 L551.87,308.35 L552.12,307.76 L552.37,307.19 L552.62,306.65 L552.87,306.13 L553.12,305.64 L553.37,305.17 L553.62,304.73 L553.87,304.31 L554.12,303.92 L554.37,303.56 L554.62,303.23 L554.87,302.93 L555.12,302.65 L555.37,302.41 L555.62,302.19 L555.87,302 L556.12,301.83 L556.37,301.69 L556.62,301.58 L556.87,301.49 L557.12,301.43 L557.37,301.4 L557.62,301.38 L557.87,301.39 L558.12,301.42 L558.37,301.48 L558.62,301.55 L558.87,301.64 L559.12,301.75 L559.37,301.88 L559.62,302.02 L559.87,302.18 L560.12,302.35 L560.37,302.53 L560.62,302.73 L560.87,302.94 L561.12,303.15 L561.37,303.38 L561.62,303.61 L561.87,303.85 L562.12,304.1 L562.37,304.35 L562.62,304.61 L562.87,304.87 L563.12,305.13 L563.37,305.39 L563.62,305.66 L563.87,305.92 L564.12,306.18 L564.37,306.44 L564.62,306.7 L564.87,306.96 L565.12,307.21 L565.37,307.46 L565.62,307.71 L565.87,307.94 L566.12,308.18 L566.37,308.4 L566.62,308.63 L566.87,308.84 L567.12,309.05 L567.37,309.24 L567.62,309.44 L567.87,309.62 L568.12,309.79 L568.37,309.96 L568.62,310.11 L568.87,310.26 L569.12,310.4 L569.37,310.53 L569.62,310.65 L569.87,310.76 L570.12,310.85 L570.37,310.94 L570.62,311.02 L570.87,311.09 L571.12,311.15 L571.37,311.2 L571.62,311.23 L571.87,311.26 L572.12,311.28 L572.37,311.28 L572.62,311.28 L572.87,311.26 L573.12,311.24 L573.37,311.2 L573.62,311.15 L573.87,311.1 L574.12,311.03 L574.37,310.95 L574.62,310.86 L574.87,310.76 L575.12,310.65 L575.37,310.53 L575.62,310.41 L575.87,310.27 L576.12,310.12 L576.37,309.96 L576.62,309.79 L576.87,309.61 L577.12,309.42 L577.37,309.22 L577.62,309.02 L577.87,308.8 L578.12,308.57 L578.37,308.34 L578.62,308.1 L578.87,307.85 L579.12,307.59 L579.37,307.32 L579.62,307.05 L579.87,306.77 L580.12,306.48 L580.37,306.18 L580.62,305.88 L580.87,305.57 L581.12,305.25 L581.37,304.93 L581.62,304.61 L581.87,304.28 L582.12,303.94 L582.37,303.6 L582.62,303.26 L582.87,302.91 L583.12,302.56 L583.37,302.21 L583.62,301.86 L583.87,301.5 L584.12,301.14 L584.37,300.78 L584.62,300.43 L584.87,300.07 L585.12,299.71 L585.37,299.35 L585.62,299 L585.87,298.65 L586.12,298.3 L586.37,297.95 L586.62,297.61 L586.87,297.27 L587.12,296.93 L587.37,296.6 L587.62,296.28 L587.87,295.96 L588.12,295.65 L588.37,295.34 L588.62,295.05 L588.87,294.76 L589.12,294.48 L589.37,294.21 L589.62,293.94 L589.87,293.69 L590.12,293.45 L590.37,293.21 L590.62,292.99 L590.87,292.78 L591.12,292.58 L591.37,292.39 L591.62,292.22 L591.87,292.05 L592.12,291.9 L592.37,291.76 L592.62,291.64 L592.87,291.53 L593.12,291.43 L593.37,291.34 L593.62,291.27 L593.87,291.22 L594.12,291.17 L594.37,291.14 L594.62,291.13 L594.87,291.13 L595.12,291.14 L595.37,291.17 L595.62,291.21 L595.87,291.26 L596.12,291.33 L596.37,291.42 L596.62,291.52 L596.87,291.63 L597.12,291.75 L597.37,291.89 L597.62,292.04 L597.87,292.21 L598.12,292.38 L598.37,292.57 L598.62,292.78 L598.87,292.99 L599.12,293.22 L599.37,293.46 L599.62,293.71 L599.87,293.97 L600.12,294.24 L600.37,294.52 L600.62,294.82 L600.87,295.12 L601.12,295.43 L601.37,295.75 L601.62,296.08 L601.87,296.42 L602.12,296.76 L602.37,297.12 L602.62,297.48 L602.87,297.85 L603.12,298.22 L603.37,298.6 L603.62,298.98 L603.87,299.37 L604.12,299.77 L604.37,300.17 L604.62,300.57 L604.87,300.98 L605.12,301.39 L605.37,301.81 L605.62,302.22 L605.87,302.64 L606.12,303.06 L606.37,303.49 L606.62,303.91 L606.87,304.33 L607.12,304.76 L607.37,305.18 L607.62,305.61 L607.87,306.03 L608.12,306.45 L608.37,306.87 L608.62,307.29 L608.87,307.71 L609.12,308.13 L609.37,308.54 L609.62,308.96 L609.87,309.37 L610.12,309.77 L610.37,310.17 L610.62,310.57 L610.87,310.97 L611.12,311.36 L611.37,311.75 L611.62,312.13 L611.87,312.51 L612.12,312.89 L612.37,313.26 L612.62,313.62 L612.87,313.99 L613.12,314.34 L613.37,314.69 L613.62,315.04 L613.87,315.38 L614.12,315.71 L614.37,316.04 L614.62,316.36 L614.87,316.68 L615.12,316.99 L615.37,317.3 L615.62,317.6 L615.87,317.89 L616.12,318.18 L616.37,318.46 L616.62,318.74 L616.87,319.01 L617.12,319.28 L617.37,319.54 L617.62,319.79 L617.87,320.04 L618.12,320.28 L618.37,320.52 L618.62,320.75 L618.87,320.97 L619.12,321.19 L619.37,321.41 L619.62,321.61 L619.87,321.82 L620.12,322.01 L620.37,322.21 L620.62,322.39 L620.87,322.58 L621.12,322.75 L621.37,322.93 L621.62,323.09 L621.87,323.25 L622.12,323.41 L622.37,323.56 L622.62,323.71 L622.87,323.86 L623.12,324 L623.37,324.13 L623.62,324.26 L623.87,324.39 L624.12,324.51 L624.37,324.63 L624.62,324.74 L624.87,324.85 L625.12,324.96 L625.37,325.06 L625.62,325.16 L625.87,325.26 L626.12,325.35 L626.37,325.44 L626.62,325.53 L626.87,325.61 L627.12,325.69 L627.37,325.77 L627.62,325.84 L627.87,325.92 L628.12,325.98 L628.37,326.05 L628.62,326.12 L628.87,326.18 L629.12,326.24 L629.37,326.29 L629.62,326.35 L629.87,326.4 L630.12,326.45 L630.37,326.5 L630.62,326.54 L630.87,326.59 L631.12,326.63 L631.37,326.67 L631.62,326.71 L631.87,326.75 L632.12,326.78 L632.37,326.82 L632.62,326.85 L632.87,326.88 L633.12,326.91 L633.37,326.94 L633.62,326.97 L633.87,327" stroke="#3f30ff" stroke-width="1.2"/>
<path d="M371.37,327.34 L371.62,327.34 L371.87,327.33 L372.12,327.32 L372.37,327.31 L372.62,327.3 L372.87,327.29 L373.12,327.28 L373.37,327.26 L373.62,327.25 L373.87,327.24 L374.12,327.22 L374.37,327.21 L374.62,327.2 L374.87,327.18 L375.12,327.16 L375.37,327.15 L375.62,327.13 L375.87,327.11 L376.12,327.09 L376.37,327.07 L376.62,327.05 L376.87,327.03 L377.12,327.01 L377.37,326.98 L377.62,326.96 L377.87,326.93 L378.12,326.91 L378.37,326.88 L378.62,326.85 L378.87,326.82 L379.12,326.79 L379.37,326.76 L379.62,326.73 L379.87,326.69 L380.12,326.66 L380.37,326.62 L380.62,326.58 L380.87,326.54 L381.12,326.5 L381.37,326.46 L381.62,326.41 L381.87,326.37 L382.12,326.32 L382.37,326.27 L382.62,326.22 L382.87,326.17 L383.12,326.12 L383.37,326.06 L383.62,326 L383.87,325.95 L384.12,325.89 L384.37,325.82 L384.62,325.76 L384.87,325.69 L385.12,325.63 L385.37,325.56 L385.62,325.48 L385.87,325.41 L386.12,325.34 L386.37,325.26 L386.62,325.18 L386.87,325.1 L387.12,325.01 L387.37,324.93 L387.62,324.84 L387.87,324.75 L388.12,324.66 L388.37,324.57 L388.62,324.47 L388.87,324.38 L389.12,324.28 L389.37,324.18 L389.62,324.08 L389.87,323.97 L390.12,323.87 L390.37,323.76 L390.62,323.65 L390.87,323.54 L391.12,323.43 L391.37,323.32 L391.62,323.2 L391.87,323.08 L392.12,322.97 L392.37,322.85 L392.62,322.73 L392.87,322.61 L393.12,322.49 L393.37,322.36 L393.62,322.24 L393.87,322.12 L394.12,321.99 L394.37,321.87 L394.62,321.74 L394.87,321.62 L395.12,321.5 L395.37,321.37 L395.62,321.25 L395.87,321.13 L396.12,321 L396.37,320.88 L396.62,320.76 L396.87,320.65 L397.12,320.53 L397.37,320.41 L397.62,320.3 L397.87,320.19 L398.12,320.08 L398.37,319.98 L398.62,319.87 L398.87,319.77 L399.12,319.68 L399.37,319.59 L399.62,319.5 L399.87,319.41 L400.12,319.33 L400.37,319.25 L400.62,319.18 L400.87,319.12 L401.12,319.05 L401.37,319 L401.62,318.95 L401.87,318.9 L402.12,318.86 L402.37,318.83 L402.62,318.81 L402.87,318.79 L403.12,318.78 L403.37,318.77 L403.62,318.77 L403.87,318.78 L404.12,318.8 L404.37,318.82 L404.62,318.86 L404.87,318.9 L405.12,318.95 L405.37,319.01 L405.62,319.07 L405.87,319.15 L406.12,319.23 L406.37,319.32 L406.62,319.42 L406.87,319.53 L407.12,319.64 L407.37,319.77 L407.62,319.9 L407.87,320.04 L408.12,320.19 L408.37,320.35 L408.62,320.51 L408.87,320.68 L409.12,320.86 L409.37,321.05 L409.62,321.24 L409.87,321.44 L410.12,321.65 L410.37,321.86 L410.62,322.07 L410.87,322.29 L411.12,322.52 L411.37,322.74 L411.62,322.98 L411.87,323.21 L412.12,323.44 L412.37,323.68 L412.62,323.92 L412.87,324.15 L413.12,324.39 L413.37,324.62 L413.62,324.86 L413.87,325.08 L414.12,325.31 L414.37,325.53 L414.62,325.74 L414.87,325.94 L415.12,326.14 L415.37,326.33 L415.62,326.51 L415.87,326.67 L416.12,326.83 L416.37,326.97 L416.62,327.1 L416.87,327.21 L417.12,327.3 L417.37,327.38 L417.62,327.44 L417.87,327.48 L418.12,327.5 L418.37,327.49 L418.62,327.47 L418.87,327.42 L419.12,327.34 L419.37,327.24 L419.62,327.11 L419.87,326.95 L420.12,326.76 L420.37,326.54 L420.62,326.29 L420.87,326.01 L421.12,325.69 L421.37,325.34 L421.62,324.96 L421.87,324.54 L422.12,324.08 L422.37,323.59 L422.62,323.06 L422.87,322.5 L423.12,321.89 L423.37,321.25 L423.62,320.57 L423.87,319.85 L424.12,319.09 L424.37,318.29 L424.62,317.45 L424.87,316.58 L425.12,315.66 L425.37,314.71 L425.62,313.72 L425.87,312.69 L426.12,311.63 L426.37,310.53 L426.62,309.4 L426.87,308.23 L427.12,307.03 L427.37,305.8 L427.62,304.53 L427.87,303.24 L428.12,301.92 L428.37,300.57 L428.62,299.2 L428.87,297.81 L429.12,296.39 L429.37,294.96 L429.62,293.5 L429.87,292.04 L430.12,290.56 L430.37,289.06 L430.62,287.56 L430.87,286.06 L431.12,284.55 L431.37,283.04 L431.62,281.53 L431.87,280.02 L432.12,278.52 L432.37,277.03 L432.62,275.56 L432.87,274.1 L433.12,272.65 L433.37,271.23 L433.62,269.83 L433.87,268.45 L434.12,267.11 L434.37,265.8 L434.62,264.52 L434.87,263.28 L435.12,262.08 L435.37,260.92 L435.62,259.81 L435.87,258.74 L436.12,257.73 L436.37,256.77 L436.62,255.86 L436.87,255.01 L437.12,254.22 L437.37,253.5 L437.62,252.83 L437.87,252.24 L438.12,251.7 L438.37,251.24 L438.62,250.85 L438.87,250.53 L439.12,250.28 L439.37,250.1 L439.62,250 L439.87,249.97 L440.12,250.02 L440.37,250.15 L440.62,250.35 L440.87,250.62 L441.12,250.97 L441.37,251.4 L441.62,251.89 L441.87,252.47 L442.12,253.11 L442.37,253.83 L442.62,254.62 L442.87,255.47 L443.12,256.4 L443.37,257.39 L443.62,258.44 L443.87,259.55 L444.12,260.72 L444.37,261.95 L444.62,263.23 L444.87,264.57 L445.12,265.95 L445.37,267.38 L445.62,268.85 L445.87,270.36 L446.12,271.9 L446.37,273.48 L446.62,275.09 L446.87,276.72 L447.12,278.37 L447.37,280.05 L447.62,281.74 L447.87,283.44 L448.12,285.14 L448.37,286.85 L448.62,288.57 L448.87,290.27 L449.12,291.98 L449.37,293.67 L449.62,295.34 L449.87,297 L450.12,298.64 L450.37,300.26 L450.62,301.85 L450.87,303.4 L451.12,304.93 L451.37,306.42 L451.62,307.87 L451.87,309.28 L452.12,310.64 L452.37,311.96 L452.62,313.24 L452.87,314.46 L453.12,315.63 L453.37,316.75 L453.62,317.82 L453.87,318.83 L454.12,319.78 L454.37,320.68 L454.62,321.52 L454.87,322.31 L455.12,323.03 L455.37,323.7 L455.62,324.31 L455.87,324.86 L456.12,325.36 L456.37,325.8 L456.62,326.19 L456.87,326.52 L457.12,326.8 L457.37,327.04 L457.62,327.22 L457.87,327.35 L458.12,327.44 L458.37,327.49 L458.62,327.5 L458.87,327.47 L459.12,327.4 L459.37,327.3 L459.62,327.16 L459.87,327 L460.12,326.82 L460.37,326.61 L460.62,326.38 L460.87,326.13 L461.12,325.86 L461.37,325.59 L461.62,325.31 L461.87,325.02 L462.12,324.72 L462.37,324.43 L462.62,324.13 L462.87,323.84 L463.12,323.56 L463.37,323.28 L463.62,323.01 L463.87,322.76 L464.12,322.52 L464.37,322.3 L464.62,322.09 L464.87,321.9 L465.12,321.74 L465.37,321.6 L465.62,321.47 L465.87,321.38 L466.12,321.3 L466.37,321.25 L466.62,321.23 L466.87,321.23 L467.12,321.26 L467.37,321.31 L467.62,321.38 L467.87,321.48 L468.12,321.61 L468.37,321.75 L468.62,321.92 L468.87,322.1 L469.12,322.31 L469.37,322.53 L469.62,322.77 L469.87,323.02 L470.12,323.28 L470.37,323.55 L470.62,323.83 L470.87,324.12 L471.12,324.4 L471.37,324.69 L471.62,324.98 L471.87,325.27 L472.12,325.54 L472.37,325.81 L472.62,326.07 L472.87,326.31 L473.12,326.54 L473.37,326.75 L473.62,326.94 L473.87,327.1 L474.12,327.24 L474.37,327.36 L474.62,327.44 L474.87,327.49 L475.12,327.5 L475.37,327.48 L475.62,327.42 L475.87,327.32 L476.12,327.18 L476.37,327 L476.62,326.78 L476.87,326.51 L477.12,326.19 L477.37,325.83 L477.62,325.42 L477.87,324.97 L478.12,324.47 L478.37,323.92 L478.62,323.32 L478.87,322.67 L479.12,321.98 L479.37,321.24 L479.62,320.46 L479.87,319.63 L480.12,318.76 L480.37,317.84 L480.62,316.88 L480.87,315.88 L481.12,314.85 L481.37,313.77 L481.62,312.67 L481.87,311.52 L482.12,310.35 L482.37,309.15 L482.62,307.92 L482.87,306.66 L483.12,305.39 L483.37,304.09 L483.62,302.78 L483.87,301.45 L484.12,300.1 L484.37,298.75 L484.62,297.39 L484.87,296.02 L485.12,294.65 L485.37,293.28 L485.62,291.91 L485.87,290.54 L486.12,289.18 L486.37,287.83 L486.62,286.5 L486.87,285.17 L487.12,283.86 L487.37,282.57 L487.62,281.29 L487.87,280.04 L488.12,278.81 L488.37,277.61 L488.62,276.43 L488.87,275.28 L489.12,274.16 L489.37,273.07 L489.62,272.01 L489.87,270.98 L490.12,269.98 L490.37,269.02 L490.62,268.09 L490.87,267.2 L491.12,266.35 L491.37,265.52 L491.62,264.74 L491.87,263.99 L492.12,263.28 L492.37,262.6 L492.62,261.96 L492.87,261.36 L493.12,260.79 L493.37,260.25 L493.62,259.75 L493.87,259.28 L494.12,258.85 L494.37,258.45 L494.62,258.07 L494.87,257.73 L495.12,257.42 L495.37,257.14 L495.62,256.88 L495.87,256.65 L496.12,256.44 L496.37,256.26 L496.62,256.1 L496.87,255.96 L497.12,255.84 L497.37,255.74 L497.62,255.66 L497.87,255.59 L498.12,255.54 L498.37,255.51 L498.62,255.49 L498.87,255.48 L499.12,255.47 L499.37,255.48 L499.62,255.5 L499.87,255.52 L500.12,255.56 L500.37,255.59 L500.62,255.63 L500.87,255.67 L501.12,255.72 L501.37,255.77 L501.62,255.81 L501.87,255.86 L502.12,255.91 L502.37,255.95 L502.62,256 L502.87,256.04 L503.12,256.07 L503.37,256.11 L503.62,256.14 L503.87,256.16 L504.12,256.18 L504.37,256.2 L504.62,256.21 L504.87,256.21 L505.12,256.21 L505.37,256.21 L505.62,256.2 L505.87,256.18 L506.12,256.16 L506.37,256.14 L506.62,256.11 L506.87,256.07 L507.12,256.04 L507.37,256 L507.62,255.95 L507.87,255.91 L508.12,255.86 L508.37,255.82 L508.62,255.77 L508.87,255.72 L509.12,255.68 L509.37,255.63 L509.62,255.59 L509.87,255.56 L510.12,255.53 L510.37,255.5 L510.62,255.48 L510.87,255.47 L511.12,255.47 L511.37,255.49 L511.62,255.51 L511.87,255.54 L512.12,255.59 L512.37,255.66 L512.62,255.74 L512.87,255.84 L513.12,255.95 L513.37,256.09 L513.62,256.25 L513.87,256.43 L514.12,256.64 L514.37,256.87 L514.62,257.12 L514.87,257.41 L515.12,257.72 L515.37,258.06 L515.62,258.43 L515.87,258.83 L516.12,259.27 L516.37,259.73 L516.62,260.23 L516.87,260.77 L517.12,261.33 L517.37,261.94 L517.62,262.58 L517.87,263.25 L518.12,263.96 L518.37,264.71 L518.62,265.49 L518.87,266.31 L519.12,267.17 L519.37,268.06 L519.62,268.98 L519.87,269.94 L520.12,270.94 L520.37,271.96 L520.62,273.02 L520.87,274.11 L521.12,275.23 L521.37,276.38 L521.62,277.56 L521.87,278.77 L522.12,279.99 L522.37,281.24 L522.62,282.52 L522.87,283.81 L523.12,285.12 L523.37,286.44 L523.62,287.78 L523.87,289.13 L524.12,290.49 L524.37,291.85 L524.62,293.22 L524.87,294.59 L525.12,295.96 L525.37,297.33 L525.62,298.69 L525.87,300.05 L526.12,301.39 L526.37,302.72 L526.62,304.04 L526.87,305.34 L527.12,306.61 L527.37,307.87 L527.62,309.1 L527.87,310.3 L528.12,311.48 L528.37,312.62 L528.62,313.73 L528.87,314.81 L529.12,315.84 L529.37,316.84 L529.62,317.8 L529.87,318.72 L530.12,319.6 L530.37,320.43 L530.62,321.21 L530.87,321.95 L531.12,322.65 L531.37,323.29 L531.62,323.89 L531.87,324.45 L532.12,324.95 L532.37,325.41 L532.62,325.82 L532.87,326.18 L533.12,326.5 L533.37,326.77 L533.62,326.99 L533.87,327.18 L534.12,327.32 L534.37,327.42 L534.62,327.48 L534.87,327.5 L535.12,327.49 L535.37,327.44 L535.62,327.36 L535.87,327.25 L536.12,327.11 L536.37,326.95 L536.62,326.76 L536.87,326.55 L537.12,326.32 L537.37,326.08 L537.62,325.82 L537.87,325.55 L538.12,325.28 L538.37,324.99 L538.62,324.71 L538.87,324.42 L539.12,324.13 L539.37,323.84 L539.62,323.56 L539.87,323.29 L540.12,323.03 L540.37,322.78 L540.62,322.54 L540.87,322.32 L541.12,322.11 L541.37,321.92 L541.62,321.76 L541.87,321.61 L542.12,321.49 L542.37,321.39 L542.62,321.31 L542.87,321.26 L543.12,321.23 L543.37,321.23 L543.62,321.25 L543.87,321.3 L544.12,321.37 L544.37,321.47 L544.62,321.59 L544.87,321.73 L545.12,321.9 L545.37,322.08 L545.62,322.29 L545.87,322.51 L546.12,322.75 L546.37,323 L546.62,323.27 L546.87,323.54 L547.12,323.83 L547.37,324.12 L547.62,324.41 L547.87,324.71 L548.12,325 L548.37,325.29 L548.62,325.58 L548.87,325.85 L549.12,326.12 L549.37,326.37 L549.62,326.6 L549.87,326.81 L550.12,327 L550.37,327.16 L550.62,327.29 L550.87,327.39 L551.12,327.46 L551.37,327.5 L551.62,327.49 L551.87,327.45 L552.12,327.36 L552.37,327.22 L552.62,327.04 L552.87,326.81 L553.12,326.54 L553.37,326.2 L553.62,325.82 L553.87,325.38 L554.12,324.88 L554.37,324.33 L554.62,323.73 L554.87,323.06 L555.12,322.34 L555.37,321.56 L555.62,320.72 L555.87,319.82 L556.12,318.87 L556.37,317.86 L556.62,316.8 L556.87,315.68 L557.12,314.51 L557.37,313.29 L557.62,312.02 L557.87,310.7 L558.12,309.33 L558.37,307.93 L558.62,306.48 L558.87,304.99 L559.12,303.47 L559.37,301.91 L559.62,300.32 L559.87,298.71 L560.12,297.07 L560.37,295.41 L560.62,293.73 L560.87,292.04 L561.12,290.34 L561.37,288.63 L561.62,286.92 L561.87,285.21 L562.12,283.5 L562.37,281.8 L562.62,280.11 L562.87,278.44 L563.12,276.78 L563.37,275.15 L563.62,273.54 L563.87,271.96 L564.12,270.42 L564.37,268.91 L564.62,267.44 L564.87,266.01 L565.12,264.62 L565.37,263.29 L565.62,262 L565.87,260.77 L566.12,259.6 L566.37,258.48 L566.62,257.43 L566.87,256.44 L567.12,255.51 L567.37,254.65 L567.62,253.86 L567.87,253.14 L568.12,252.49 L568.37,251.92 L568.62,251.41 L568.87,250.99 L569.12,250.63 L569.37,250.35 L569.62,250.15 L569.87,250.03 L570.12,249.97 L570.37,250 L570.62,250.1 L570.87,250.27 L571.12,250.52 L571.37,250.84 L571.62,251.23 L571.87,251.68 L572.12,252.21 L572.37,252.81 L572.62,253.47 L572.87,254.19 L573.12,254.98 L573.37,255.83 L573.62,256.73 L573.87,257.69 L574.12,258.7 L574.37,259.76 L574.62,260.87 L574.87,262.03 L575.12,263.23 L575.37,264.47 L575.62,265.74 L575.87,267.06 L576.12,268.4 L576.37,269.77 L576.62,271.17 L576.87,272.59 L577.12,274.04 L577.37,275.5 L577.62,276.98 L577.87,278.46 L578.12,279.96 L578.37,281.47 L578.62,282.98 L578.87,284.49 L579.12,286 L579.37,287.5 L579.62,289 L579.87,290.5 L580.12,291.98 L580.37,293.45 L580.62,294.9 L580.87,296.33 L581.12,297.75 L581.37,299.15 L581.62,300.52 L581.87,301.87 L582.12,303.19 L582.37,304.48 L582.62,305.75 L582.87,306.98 L583.12,308.18 L583.37,309.35 L583.62,310.49 L583.87,311.59 L584.12,312.65 L584.37,313.68 L584.62,314.67 L584.87,315.63 L585.12,316.54 L585.37,317.42 L585.62,318.26 L585.87,319.06 L586.12,319.82 L586.37,320.54 L586.62,321.22 L586.87,321.87 L587.12,322.47 L587.37,323.04 L587.62,323.57 L587.87,324.06 L588.12,324.52 L588.37,324.94 L588.62,325.33 L588.87,325.68 L589.12,326 L589.37,326.28 L589.62,326.53 L589.87,326.75 L590.12,326.94 L590.37,327.1 L590.62,327.23 L590.87,327.34 L591.12,327.41 L591.37,327.47 L591.62,327.49 L591.87,327.5 L592.12,327.48 L592.37,327.44 L592.62,327.39 L592.87,327.31 L593.12,327.21 L593.37,327.1 L593.62,326.98 L593.87,326.83 L594.12,326.68 L594.37,326.51 L594.62,326.34 L594.87,326.15 L595.12,325.95 L595.37,325.75 L595.62,325.53 L595.87,325.32 L596.12,325.09 L596.37,324.87 L596.62,324.63 L596.87,324.4 L597.12,324.16 L597.37,323.93 L597.62,323.69 L597.87,323.45 L598.12,323.22 L598.37,322.99 L598.62,322.75 L598.87,322.53 L599.12,322.3 L599.37,322.08 L599.62,321.87 L599.87,321.65 L600.12,321.45 L600.37,321.25 L600.62,321.06 L600.87,320.87 L601.12,320.69 L601.37,320.52 L601.62,320.35 L601.87,320.2 L602.12,320.05 L602.37,319.91 L602.62,319.77 L602.87,319.65 L603.12,319.53 L603.37,319.42 L603.62,319.32 L603.87,319.23 L604.12,319.15 L604.37,319.07 L604.62,319.01 L604.87,318.95 L605.12,318.9 L605.37,318.86 L605.62,318.83 L605.87,318.8 L606.12,318.78 L606.37,318.77 L606.62,318.77 L606.87,318.77 L607.12,318.79 L607.37,318.81 L607.62,318.83 L607.87,318.86 L608.12,318.9 L608.37,318.95 L608.62,319 L608.87,319.05 L609.12,319.11 L609.37,319.18 L609.62,319.25 L609.87,319.33 L610.12,319.41 L610.37,319.49 L610.62,319.58 L610.87,319.67 L611.12,319.77 L611.37,319.87 L611.62,319.97 L611.87,320.08 L612.12,320.19 L612.37,320.3 L612.62,320.41 L612.87,320.52 L613.12,320.64 L613.37,320.76 L613.62,320.88 L613.87,321 L614.12,321.12 L614.37,321.24 L614.62,321.37 L614.87,321.49 L615.12,321.62 L615.37,321.74 L615.62,321.86 L615.87,321.99 L616.12,322.11 L616.37,322.24 L616.62,322.36 L616.87,322.48 L617.12,322.6 L617.37,322.72 L617.62,322.84 L617.87,322.96 L618.12,323.08 L618.37,323.2 L618.62,323.31 L618.87,323.42 L619.12,323.54 L619.37,323.65 L619.62,323.76 L619.87,323.86 L620.12,323.97 L620.37,324.07 L620.62,324.18 L620.87,324.28 L621.12,324.37 L621.37,324.47 L621.62,324.57 L621.87,324.66 L622.12,324.75 L622.37,324.84 L622.62,324.93 L622.87,325.01 L623.12,325.09 L623.37,325.18 L623.62,325.25 L623.87,325.33 L624.12,325.41 L624.37,325.48 L624.62,325.55 L624.87,325.62 L625.12,325.69 L625.37,325.76 L625.62,325.82 L625.87,325.88 L626.12,325.94 L626.37,326 L626.62,326.06 L626.87,326.11 L627.12,326.17 L627.37,326.22 L627.62,326.27 L627.87,326.32 L628.12,326.37 L628.37,326.41 L628.62,326.46 L628.87,326.5 L629.12,326.54 L629.37,326.58 L629.62,326.62 L629.87,326.66 L630.12,326.69 L630.37,326.73 L630.62,326.76 L630.87,326.79 L631.12,326.82 L631.37,326.85 L631.62,326.88 L631.87,326.91 L632.12,326.93 L632.37,326.96 L632.62,326.98 L632.87,327.01 L633.12,327.03 L633.37,327.05 L633.62,327.07 L633.87,327.09 L634.12,327.11 L634.37,327.13 L634.62,327.15 L634.87,327.16 L635.12,327.18 L635.37,327.2 L635.62,327.21 L635.87,327.22 L636.12,327.24 L636.37,327.25 L636.62,327.26 L636.87,327.27 L637.12,327.29 L637.37,327.3 L637.62,327.31 L637.87,327.32 L638.12,327.33 L638.37,327.34 L638.62,327.34" stroke="#d82a35" stroke-width="1.2"/>
<path d="M371.37,327.5 L371.62,327.5 L371.87,327.5 L372.12,327.5 L372.37,327.5 L372.62,327.5 L372.87,327.5 L373.12,327.5 L373.37,327.5 L373.62,327.5 L373.87,327.5 L374.12,327.5 L374.37,327.5 L374.62,327.5 L374.87,327.5 L375.12,327.5 L375.37,327.5 L375.62,327.5 L375.87,327.5 L376.12,327.5 L376.37,327.5 L376.62,327.5 L376.87,327.5 L377.12,327.5 L377.37,327.5 L377.62,327.5 L377.87,327.5 L378.12,327.5 L378.37,327.5 L378.62,327.5 L378.87,327.5 L379.12,327.5 L379.37,327.5 L379.62,327.5 L379.87,327.5 L380.12,327.5 L380.37,327.49 L380.62,327.49 L380.87,327.49 L381.12,327.49 L381.37,327.49 L381.62,327.49 L381.87,327.49 L382.12,327.49 L382.37,327.49 L382.62,327.49 L382.87,327.49 L383.12,327.49 L383.37,327.49 L383.62,327.49 L383.87,327.49 L384.12,327.49 L384.37,327.48 L384.62,327.48 L384.87,327.48 L385.12,327.48 L385.37,327.48 L385.62,327.48 L385.87,327.48 L386.12,327.48 L386.37,327.47 L386.62,327.47 L386.87,327.47 L387.12,327.47 L387.37,327.47 L387.62,327.47 L387.87,327.46 L388.12,327.46 L388.37,327.46 L388.62,327.46 L388.87,327.45 L389.12,327.45 L389.37,327.45 L389.62,327.44 L389.87,327.44 L390.12,327.44 L390.37,327.43 L390.62,327.43 L390.87,327.42 L391.12,327.42 L391.37,327.41 L391.62,327.41 L391.87,327.4 L392.12,327.4 L392.37,327.39 L392.62,327.39 L392.87,327.38 L393.12,327.37 L393.37,327.36 L393.62,327.36 L393.87,327.35 L394.12,327.34 L394.37,327.33 L394.62,327.32 L394.87,327.31 L395.12,327.3 L395.37,327.29 L395.62,327.27 L395.87,327.26 L396.12,327.25 L396.37,327.23 L396.62,327.22 L396.87,327.2 L397.12,327.19 L397.37,327.17 L397.62,327.15 L397.87,327.13 L398.12,327.11 L398.37,327.09 L398.62,327.07 L398.87,327.05 L399.12,327.02 L399.37,327 L399.62,326.97 L399.87,326.95 L400.12,326.92 L400.37,326.89 L400.62,326.86 L400.87,326.82 L401.12,326.79 L401.37,326.75 L401.62,326.71 L401.87,326.67 L402.12,326.63 L402.37,326.59 L402.62,326.54 L402.87,326.5 L403.12,326.45 L403.37,326.4 L403.62,326.34 L403.87,326.29 L404.12,326.23 L404.37,326.17 L404.62,326.1 L404.87,326.04 L405.12,325.97 L405.37,325.9 L405.62,325.82 L405.87,325.74 L406.12,325.66 L406.37,325.58 L406.62,325.49 L406.87,325.4 L407.12,325.3 L407.37,325.21 L407.62,325.1 L407.87,325 L408.12,324.89 L408.37,324.77 L408.62,324.65 L408.87,324.53 L409.12,324.4 L409.37,324.27 L409.62,324.14 L409.87,323.99 L410.12,323.85 L410.37,323.69 L410.62,323.54 L410.87,323.37 L411.12,323.2 L411.37,323.03 L411.62,322.85 L411.87,322.66 L412.12,322.47 L412.37,322.27 L412.62,322.07 L412.87,321.86 L413.12,321.64 L413.37,321.41 L413.62,321.18 L413.87,320.94 L414.12,320.69 L414.37,320.44 L414.62,320.18 L414.87,319.91 L415.12,319.63 L415.37,319.35 L415.62,319.05 L415.87,318.75 L416.12,318.44 L416.37,318.13 L416.62,317.8 L416.87,317.46 L417.12,317.12 L417.37,316.77 L417.62,316.41 L417.87,316.04 L418.12,315.66 L418.37,315.27 L418.62,314.87 L418.87,314.46 L419.12,314.05 L419.37,313.62 L419.62,313.19 L419.87,312.74 L420.12,312.29 L420.37,311.83 L420.62,311.35 L420.87,310.87 L421.12,310.38 L421.37,309.88 L421.62,309.37 L421.87,308.85 L422.12,308.32 L422.37,307.78 L422.62,307.23 L422.87,306.68 L423.12,306.11 L423.37,305.54 L423.62,304.96 L423.87,304.37 L424.12,303.77 L424.37,303.16 L424.62,302.55 L424.87,301.93 L425.12,301.3 L425.37,300.66 L425.62,300.02 L425.87,299.37 L426.12,298.71 L426.37,298.05 L426.62,297.38 L426.87,296.71 L427.12,296.03 L427.37,295.35 L427.62,294.67 L427.87,293.98 L428.12,293.29 L428.37,292.59 L428.62,291.9 L428.87,291.2 L429.12,290.5 L429.37,289.8 L429.62,289.1 L429.87,288.4 L430.12,287.7 L430.37,287 L430.62,286.31 L430.87,285.62 L431.12,284.93 L431.37,284.25 L431.62,283.57 L431.87,282.9 L432.12,282.23 L432.37,281.57 L432.62,280.92 L432.87,280.27 L433.12,279.64 L433.37,279.02 L433.62,278.4 L433.87,277.8 L434.12,277.21 L434.37,276.63 L434.62,276.07 L434.87,275.52 L435.12,274.99 L435.37,274.47 L435.62,273.97 L435.87,273.49 L436.12,273.02 L436.37,272.58 L436.62,272.15 L436.87,271.74 L437.12,271.36 L437.37,271 L437.62,270.66 L437.87,270.34 L438.12,270.05 L438.37,269.78 L438.62,269.54 L438.87,269.33 L439.12,269.14 L439.37,268.97 L439.62,268.84 L439.87,268.73 L440.12,268.65 L440.37,268.6 L440.62,268.58 L440.87,268.59 L441.12,268.63 L441.37,268.7 L441.62,268.81 L441.87,268.94 L442.12,269.1 L442.37,269.3 L442.62,269.53 L442.87,269.78 L443.12,270.07 L443.37,270.4 L443.62,270.75 L443.87,271.13 L444.12,271.55 L444.37,272 L444.62,272.48 L444.87,272.99 L445.12,273.52 L445.37,274.09 L445.62,274.69 L445.87,275.32 L446.12,275.98 L446.37,276.66 L446.62,277.37 L446.87,278.11 L447.12,278.87 L447.37,279.66 L447.62,280.47 L447.87,281.3 L448.12,282.16 L448.37,283.04 L448.62,283.94 L448.87,284.85 L449.12,285.79 L449.37,286.74 L449.62,287.71 L449.87,288.69 L450.12,289.69 L450.37,290.7 L450.62,291.72 L450.87,292.74 L451.12,293.78 L451.37,294.82 L451.62,295.87 L451.87,296.92 L452.12,297.98 L452.37,299.03 L452.62,300.08 L452.87,301.14 L453.12,302.18 L453.37,303.23 L453.62,304.27 L453.87,305.29 L454.12,306.31 L454.37,307.32 L454.62,308.32 L454.87,309.3 L455.12,310.27 L455.37,311.22 L455.62,312.16 L455.87,313.07 L456.12,313.97 L456.37,314.84 L456.62,315.69 L456.87,316.52 L457.12,317.32 L457.37,318.1 L457.62,318.85 L457.87,319.57 L458.12,320.27 L458.37,320.93 L458.62,321.56 L458.87,322.17 L459.12,322.74 L459.37,323.28 L459.62,323.79 L459.87,324.27 L460.12,324.71 L460.37,325.12 L460.62,325.5 L460.87,325.84 L461.12,326.15 L461.37,326.43 L461.62,326.67 L461.87,326.89 L462.12,327.07 L462.37,327.21 L462.62,327.33 L462.87,327.42 L463.12,327.47 L463.37,327.5 L463.62,327.5 L463.87,327.47 L464.12,327.41 L464.37,327.33 L464.62,327.22 L464.87,327.09 L465.12,326.94 L465.37,326.76 L465.62,326.57 L465.87,326.36 L466.12,326.13 L466.37,325.88 L466.62,325.63 L466.87,325.36 L467.12,325.08 L467.37,324.79 L467.62,324.49 L467.87,324.18 L468.12,323.88 L468.37,323.57 L468.62,323.25 L468.87,322.94 L469.12,322.63 L469.37,322.33 L469.62,322.03 L469.87,321.73 L470.12,321.45 L470.37,321.17 L470.62,320.91 L470.87,320.66 L471.12,320.42 L471.37,320.2 L471.62,319.99 L471.87,319.8 L472.12,319.63 L472.37,319.48 L472.62,319.34 L472.87,319.23 L473.12,319.14 L473.37,319.08 L473.62,319.03 L473.87,319.01 L474.12,319.01 L474.37,319.04 L474.62,319.09 L474.87,319.16 L475.12,319.25 L475.37,319.37 L475.62,319.51 L475.87,319.68 L476.12,319.86 L476.37,320.06 L476.62,320.29 L476.87,320.53 L477.12,320.79 L477.37,321.06 L477.62,321.35 L477.87,321.66 L478.12,321.97 L478.37,322.3 L478.62,322.63 L478.87,322.97 L479.12,323.31 L479.37,323.66 L479.62,324 L479.87,324.35 L480.12,324.68 L480.37,325.02 L480.62,325.34 L480.87,325.65 L481.12,325.94 L481.37,326.22 L481.62,326.48 L481.87,326.71 L482.12,326.92 L482.37,327.1 L482.62,327.25 L482.87,327.37 L483.12,327.45 L483.37,327.49 L483.62,327.5 L483.87,327.45 L484.12,327.36 L484.37,327.23 L484.62,327.04 L484.87,326.79 L485.12,326.5 L485.37,326.14 L485.62,325.72 L485.87,325.24 L486.12,324.7 L486.37,324.09 L486.62,323.42 L486.87,322.67 L487.12,321.86 L487.37,320.97 L487.62,320.01 L487.87,318.98 L488.12,317.88 L488.37,316.7 L488.62,315.45 L488.87,314.12 L489.12,312.72 L489.37,311.25 L489.62,309.7 L489.87,308.07 L490.12,306.38 L490.37,304.61 L490.62,302.78 L490.87,300.87 L491.12,298.9 L491.37,296.86 L491.62,294.76 L491.87,292.6 L492.12,290.38 L492.37,288.1 L492.62,285.77 L492.87,283.39 L493.12,280.96 L493.37,278.49 L493.62,275.98 L493.87,273.43 L494.12,270.84 L494.37,268.23 L494.62,265.59 L494.87,262.93 L495.12,260.25 L495.37,257.55 L495.62,254.85 L495.87,252.14 L496.12,249.44 L496.37,246.73 L496.62,244.04 L496.87,241.36 L497.12,238.7 L497.37,236.06 L497.62,233.45 L497.87,230.87 L498.12,228.33 L498.37,225.84 L498.62,223.38 L498.87,220.98 L499.12,218.64 L499.37,216.35 L499.62,214.13 L499.87,211.98 L500.12,209.91 L500.37,207.9 L500.62,205.98 L500.87,204.15 L501.12,202.4 L501.37,200.74 L501.62,199.18 L501.87,197.72 L502.12,196.35 L502.37,195.1 L502.62,193.94 L502.87,192.9 L503.12,191.96 L503.37,191.14 L503.62,190.43 L503.87,189.84 L504.12,189.36 L504.37,189 L504.62,188.76 L504.87,188.64 L505.12,188.64 L505.37,188.76 L505.62,188.99 L505.87,189.35 L506.12,189.82 L506.37,190.41 L506.62,191.11 L506.87,191.93 L507.12,192.86 L507.37,193.9 L507.62,195.05 L507.87,196.3 L508.12,197.66 L508.37,199.12 L508.62,200.68 L508.87,202.33 L509.12,204.08 L509.37,205.91 L509.62,207.83 L509.87,209.82 L510.12,211.9 L510.37,214.05 L510.62,216.26 L510.87,218.55 L511.12,220.89 L511.37,223.29 L511.62,225.74 L511.87,228.23 L512.12,230.77 L512.37,233.35 L512.62,235.96 L512.87,238.59 L513.12,241.25 L513.37,243.93 L513.62,246.63 L513.87,249.33 L514.12,252.03 L514.37,254.74 L514.62,257.44 L514.87,260.14 L515.12,262.82 L515.37,265.48 L515.62,268.12 L515.87,270.74 L516.12,273.33 L516.37,275.88 L516.62,278.39 L516.87,280.87 L517.12,283.3 L517.37,285.68 L517.62,288.01 L517.87,290.29 L518.12,292.51 L518.37,294.68 L518.62,296.78 L518.87,298.82 L519.12,300.79 L519.37,302.7 L519.62,304.54 L519.87,306.31 L520.12,308.01 L520.37,309.63 L520.62,311.18 L520.87,312.66 L521.12,314.07 L521.37,315.4 L521.62,316.65 L521.87,317.83 L522.12,318.94 L522.37,319.97 L522.62,320.93 L522.87,321.82 L523.12,322.64 L523.37,323.39 L523.62,324.07 L523.87,324.68 L524.12,325.22 L524.37,325.7 L524.62,326.12 L524.87,326.48 L525.12,326.78 L525.37,327.03 L525.62,327.22 L525.87,327.36 L526.12,327.45 L526.37,327.49 L526.62,327.49 L526.87,327.45 L527.12,327.37 L527.37,327.26 L527.62,327.11 L527.87,326.93 L528.12,326.72 L528.37,326.49 L528.62,326.23 L528.87,325.95 L529.12,325.66 L529.37,325.35 L529.62,325.03 L529.87,324.7 L530.12,324.36 L530.37,324.02 L530.62,323.67 L530.87,323.33 L531.12,322.98 L531.37,322.64 L531.62,322.31 L531.87,321.99 L532.12,321.67 L532.37,321.37 L532.62,321.08 L532.87,320.8 L533.12,320.54 L533.37,320.3 L533.62,320.07 L533.87,319.87 L534.12,319.68 L534.37,319.52 L534.62,319.38 L534.87,319.26 L535.12,319.16 L535.37,319.09 L535.62,319.04 L535.87,319.01 L536.12,319.01 L536.37,319.03 L536.62,319.08 L536.87,319.14 L537.12,319.23 L537.37,319.34 L537.62,319.47 L537.87,319.62 L538.12,319.79 L538.37,319.98 L538.62,320.19 L538.87,320.41 L539.12,320.65 L539.37,320.9 L539.62,321.16 L539.87,321.44 L540.12,321.72 L540.37,322.02 L540.62,322.32 L540.87,322.62 L541.12,322.93 L541.37,323.24 L541.62,323.55 L541.87,323.86 L542.12,324.17 L542.37,324.48 L542.62,324.77 L542.87,325.06 L543.12,325.35 L543.37,325.62 L543.62,325.87 L543.87,326.12 L544.12,326.35 L544.37,326.56 L544.62,326.75 L544.87,326.93 L545.12,327.08 L545.37,327.21 L545.62,327.32 L545.87,327.41 L546.12,327.46 L546.37,327.49 L546.62,327.5 L546.87,327.47 L547.12,327.42 L547.37,327.33 L547.62,327.22 L547.87,327.07 L548.12,326.89 L548.37,326.68 L548.62,326.44 L548.87,326.16 L549.12,325.85 L549.37,325.51 L549.62,325.14 L549.87,324.73 L550.12,324.29 L550.37,323.81 L550.62,323.3 L550.87,322.76 L551.12,322.19 L551.37,321.59 L551.62,320.96 L551.87,320.29 L552.12,319.6 L552.37,318.88 L552.62,318.13 L552.87,317.35 L553.12,316.55 L553.37,315.73 L553.62,314.88 L553.87,314 L554.12,313.11 L554.37,312.19 L554.62,311.26 L554.87,310.31 L555.12,309.34 L555.37,308.36 L555.62,307.36 L555.87,306.35 L556.12,305.34 L556.37,304.31 L556.62,303.27 L556.87,302.23 L557.12,301.18 L557.37,300.13 L557.62,299.07 L557.87,298.02 L558.12,296.96 L558.37,295.91 L558.62,294.86 L558.87,293.82 L559.12,292.78 L559.37,291.76 L559.62,290.74 L559.87,289.73 L560.12,288.73 L560.37,287.75 L560.62,286.78 L560.87,285.83 L561.12,284.89 L561.37,283.97 L561.62,283.07 L561.87,282.19 L562.12,281.34 L562.37,280.5 L562.62,279.69 L562.87,278.9 L563.12,278.14 L563.37,277.4 L563.62,276.69 L563.87,276 L564.12,275.35 L564.37,274.72 L564.62,274.12 L564.87,273.55 L565.12,273.01 L565.37,272.5 L565.62,272.02 L565.87,271.57 L566.12,271.15 L566.37,270.76 L566.62,270.41 L566.87,270.09 L567.12,269.8 L567.37,269.54 L567.62,269.31 L567.87,269.11 L568.12,268.95 L568.37,268.81 L568.62,268.71 L568.87,268.64 L569.12,268.59 L569.37,268.58 L569.62,268.6 L569.87,268.65 L570.12,268.73 L570.37,268.83 L570.62,268.97 L570.87,269.13 L571.12,269.32 L571.37,269.53 L571.62,269.77 L571.87,270.04 L572.12,270.33 L572.37,270.65 L572.62,270.98 L572.87,271.35 L573.12,271.73 L573.37,272.13 L573.62,272.56 L573.87,273 L574.12,273.47 L574.37,273.95 L574.62,274.45 L574.87,274.97 L575.12,275.5 L575.37,276.05 L575.62,276.61 L575.87,277.19 L576.12,277.78 L576.37,278.38 L576.62,278.99 L576.87,279.62 L577.12,280.25 L577.37,280.89 L577.62,281.54 L577.87,282.2 L578.12,282.87 L578.37,283.54 L578.62,284.22 L578.87,284.9 L579.12,285.59 L579.37,286.28 L579.62,286.98 L579.87,287.67 L580.12,288.37 L580.37,289.07 L580.62,289.77 L580.87,290.47 L581.12,291.17 L581.37,291.87 L581.62,292.57 L581.87,293.26 L582.12,293.95 L582.37,294.64 L582.62,295.33 L582.87,296.01 L583.12,296.68 L583.37,297.36 L583.62,298.02 L583.87,298.69 L584.12,299.34 L584.37,299.99 L584.62,300.63 L584.87,301.27 L585.12,301.9 L585.37,302.52 L585.62,303.14 L585.87,303.74 L586.12,304.34 L586.37,304.93 L586.62,305.52 L586.87,306.09 L587.12,306.66 L587.37,307.21 L587.62,307.76 L587.87,308.3 L588.12,308.83 L588.37,309.35 L588.62,309.86 L588.87,310.36 L589.12,310.85 L589.37,311.33 L589.62,311.81 L589.87,312.27 L590.12,312.72 L590.37,313.17 L590.62,313.6 L590.87,314.03 L591.12,314.45 L591.37,314.85 L591.62,315.25 L591.87,315.64 L592.12,316.02 L592.37,316.39 L592.62,316.75 L592.87,317.11 L593.12,317.45 L593.37,317.79 L593.62,318.11 L593.87,318.43 L594.12,318.74 L594.37,319.04 L594.62,319.34 L594.87,319.62 L595.12,319.9 L595.37,320.17 L595.62,320.43 L595.87,320.68 L596.12,320.93 L596.37,321.17 L596.62,321.4 L596.87,321.63 L597.12,321.85 L597.37,322.06 L597.62,322.26 L597.87,322.46 L598.12,322.66 L598.37,322.84 L598.62,323.02 L598.87,323.2 L599.12,323.37 L599.37,323.53 L599.62,323.69 L599.87,323.84 L600.12,323.99 L600.37,324.13 L600.62,324.27 L600.87,324.4 L601.12,324.53 L601.37,324.65 L601.62,324.77 L601.87,324.88 L602.12,324.99 L602.37,325.1 L602.62,325.2 L602.87,325.3 L603.12,325.4 L603.37,325.49 L603.62,325.57 L603.87,325.66 L604.12,325.74 L604.37,325.82 L604.62,325.89 L604.87,325.96 L605.12,326.03 L605.37,326.1 L605.62,326.16 L605.87,326.22 L606.12,326.28 L606.37,326.34 L606.62,326.39 L606.87,326.44 L607.12,326.49 L607.37,326.54 L607.62,326.59 L607.87,326.63 L608.12,326.67 L608.37,326.71 L608.62,326.75 L608.87,326.79 L609.12,326.82 L609.37,326.85 L609.62,326.89 L609.87,326.92 L610.12,326.94 L610.37,326.97 L610.62,327 L610.87,327.02 L611.12,327.05 L611.37,327.07 L611.62,327.09 L611.87,327.11 L612.12,327.13 L612.37,327.15 L612.62,327.17 L612.87,327.19 L613.12,327.2 L613.37,327.22 L613.62,327.23 L613.87,327.25 L614.12,327.26 L614.37,327.27 L614.62,327.29 L614.87,327.3 L615.12,327.31 L615.37,327.32 L615.62,327.33 L615.87,327.34 L616.12,327.35 L616.37,327.36 L616.62,327.36 L616.87,327.37 L617.12,327.38 L617.37,327.38 L617.62,327.39 L617.87,327.4 L618.12,327.4 L618.37,327.41 L618.62,327.41 L618.87,327.42 L619.12,327.42 L619.37,327.43 L619.62,327.43 L619.87,327.44 L620.12,327.44 L620.37,327.44 L620.62,327.45 L620.87,327.45 L621.12,327.45 L621.37,327.46 L621.62,327.46 L621.87,327.46 L622.12,327.46 L622.37,327.47 L622.62,327.47 L622.87,327.47 L623.12,327.47 L623.37,327.47 L623.62,327.47 L623.87,327.48 L624.12,327.48 L624.37,327.48 L624.62,327.48 L624.87,327.48 L625.12,327.48 L625.37,327.48 L625.62,327.48 L625.87,327.49 L626.12,327.49 L626.37,327.49 L626.62,327.49 L626.87,327.49 L627.12,327.49 L627.37,327.49 L627.62,327.49 L627.87,327.49 L628.12,327.49 L628.37,327.49 L628.62,327.49 L628.87,327.49 L629.12,327.49 L629.37,327.49 L629.62,327.49 L629.87,327.5 L630.12,327.5 L630.37,327.5 L630.62,327.5 L630.87,327.5 L631.12,327.5 L631.37,327.5 L631.62,327.5 L631.87,327.5 L632.12,327.5 L632.37,327.5 L632.62,327.5 L632.87,327.5 L633.12,327.5 L633.37,327.5 L633.62,327.5 L633.87,327.5 L634.12,327.5 L634.37,327.5 L634.62,327.5 L634.87,327.5 L635.12,327.5 L635.37,327.5 L635.62,327.5 L635.87,327.5 L636.12,327.5 L636.37,327.5 L636.62,327.5 L636.87,327.5 L637.12,327.5 L637.37,327.5 L637.62,327.5 L637.87,327.5 L638.12,327.5 L638.37,327.5 L638.62,327.5" stroke="#8a8a8a" stroke-width="1.05" stroke-dasharray="1.6 1.4"/>
</g>
<text x="365.4" y="331" text-anchor="end" style="font-family:&quot;Liberation Serif&quot;,serif;font-size:11.5px;" >0.0</text>
<text x="365.4" y="305.54" text-anchor="end" style="font-family:&quot;Liberation Serif&quot;,serif;font-size:11.5px;" >0.2</text>
<text x="365.4" y="280.08" text-anchor="end" style="font-family:&quot;Liberation Serif&quot;,serif;font-size:11.5px;" >0.4</text>
<text x="365.4" y="254.62" text-anchor="end" style="font-family:&quot;Liberation Serif&quot;,serif;font-size:11.5px;" >0.6</text>
<text x="365.4" y="229.16" text-anchor="end" style="font-family:&quot;Liberation Serif&quot;,serif;font-size:11.5px;" >0.8</text>
<text x="365.4" y="203.7" text-anchor="end" style="font-family:&quot;Liberation Serif&quot;,serif;font-size:11.5px;" >1.0</text>
<text x="390.46" y="343" text-anchor="middle" style="font-family:&quot;Liberation Serif&quot;,serif;font-size:11.5px;" >-3</text>
<text x="428.64" y="343" text-anchor="middle" style="font-family:&quot;Liberation Serif&quot;,serif;font-size:11.5px;" >-2</text>
<text x="466.82" y="343" text-anchor="middle" style="font-family:&quot;Liberation Serif&quot;,serif;font-size:11.5px;" >-1</text>
<text x="505" y="343" text-anchor="middle" style="font-family:&quot;Liberation Serif&quot;,serif;font-size:11.5px;" >0</text>
<text x="543.18" y="343" text-anchor="middle" style="font-family:&quot;Liberation Serif&quot;,serif;font-size:11.5px;" >1</text>
<text x="581.36" y="343" text-anchor="middle" style="font-family:&quot;Liberation Serif&quot;,serif;font-size:11.5px;" >2</text>
<text x="619.54" y="343" text-anchor="middle" style="font-family:&quot;Liberation Serif&quot;,serif;font-size:11.5px;" >3</text>
<text x="505.3" y="356.9" text-anchor="middle" style="font-family:&quot;Liberation Serif&quot;,serif;font-size:13px;" >distance <tspan style="font-style:italic">x</tspan>/<tspan style="font-style:italic">w</tspan></text>
<text x="0" y="0" text-anchor="start" style="font-family:&quot;Liberation Serif&quot;,serif;font-size:13px;" transform="translate(340.8,300.5) rotate(-90)">intensity [a.u.]</text>
<text x="326.9" y="196" text-anchor="start" style="font-family:&quot;Liberation Serif&quot;,serif;font-size:14.5px;" >(d)</text>
<text x="627.6" y="207.7" text-anchor="end" style="font-family:&quot;Liberation Serif&quot;,serif;font-size:13.5px;" >= π/4</text>
<g transform="translate(588.4,201.8)" fill="none" stroke="#000" stroke-linecap="round"><path d="M1.6,0.4 C1.2,2.0 0.5,3.9 0.8,5.2 C1.1,6.3 2.3,6.6 3.4,6.1" stroke-width="1.3"/><path d="M3.4,6.1 C5.2,5.3 6.9,2.8 8.4,0.4" stroke-width="0.95"/><path d="M4.9,0.9 L1.6,8.6" stroke-width="0.85"/></g>
<path d="M376.9,197.4 H404.8" stroke="#3f30ff" stroke-width="1.2"/>
<text x="407.4" y="201.7" text-anchor="start" style="font-family:&quot;Liberation Serif&quot;,serif;font-size:12px;" >max. slit</text>
<path d="M376.9,212.5 H404.8" stroke="#d82a35" stroke-width="1.2"/>
<text x="407.4" y="216.8" text-anchor="start" style="font-family:&quot;Liberation Serif&quot;,serif;font-size:12px;" >max. overlap</text>
</svg>
</body></html>
